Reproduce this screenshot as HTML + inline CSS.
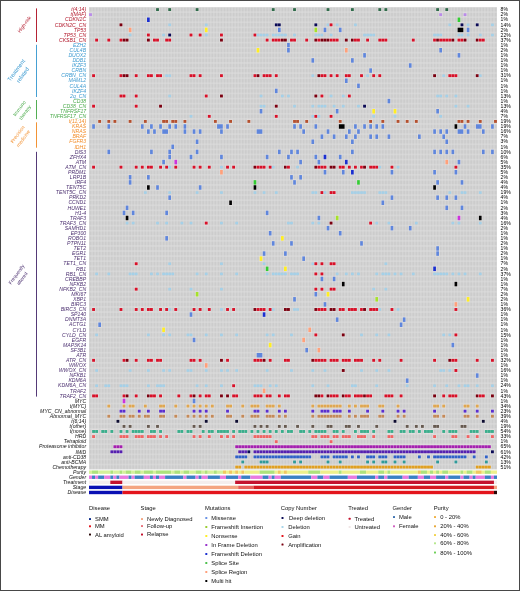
<!DOCTYPE html>
<html><head><meta charset="utf-8"><title>Oncoprint</title>
<style>
html,body{margin:0;padding:0;background:#fff;}
body{width:520px;height:591px;position:relative;overflow:hidden;font-family:"Liberation Sans",sans-serif;}
#frame{position:absolute;left:0;top:0;width:520px;height:591px;box-sizing:border-box;border:1px solid #484848;border-left-width:1.3px;}
svg{position:absolute;left:0;top:0;}
.l{position:absolute;right:433.9px;font-size:5.15px;font-style:italic;line-height:5px;white-space:nowrap;text-align:right;}
.p{position:absolute;left:500.6px;font-size:5.1px;line-height:5px;color:#000;white-space:nowrap;}
.g{position:absolute;font-size:5.0px;line-height:6.7px;white-space:nowrap;text-align:center;transform-origin:center center;transform:translate(-50%,-50%) rotate(-54deg);}
.lt{position:absolute;font-size:5.85px;line-height:6px;color:#111;white-space:nowrap;}
.li{position:absolute;font-size:5.85px;line-height:6px;color:#111;white-space:nowrap;}
</style></head><body>
<svg width="520" height="591" viewBox="0 0 520 591" shape-rendering="geometricPrecision">
<defs><pattern id="gp" x="89.000" y="7.050" width="3.045" height="5.083" patternUnits="userSpaceOnUse"><rect x="0" y="0" width="3.045" height="5.083" fill="#e0e0e0"/><rect x="0.3" y="0.4" width="2.445" height="4.283" fill="#cccccc"/></pattern></defs>
<rect x="89.00" y="7.05" width="408.00" height="487.97" fill="url(#gp)"/>
<rect x="155.59" y="7.44" width="3.84" height="4.30" fill="#f6f0f0" opacity="0.45"/><rect x="156.09" y="8.14" width="2.84" height="2.90" fill="#2f6b4a"/>
<rect x="167.76" y="7.44" width="3.84" height="4.30" fill="#f6f0f0" opacity="0.45"/><rect x="168.26" y="8.14" width="2.84" height="2.90" fill="#2f6b4a"/>
<rect x="195.17" y="7.44" width="3.84" height="4.30" fill="#f6f0f0" opacity="0.45"/><rect x="195.67" y="8.14" width="2.84" height="2.90" fill="#2f6b4a"/>
<rect x="271.29" y="7.44" width="3.84" height="4.30" fill="#f6f0f0" opacity="0.45"/><rect x="271.79" y="8.14" width="2.84" height="2.90" fill="#2f6b4a"/>
<rect x="292.60" y="7.44" width="3.84" height="4.30" fill="#f6f0f0" opacity="0.45"/><rect x="293.10" y="8.14" width="2.84" height="2.90" fill="#2f6b4a"/>
<rect x="326.09" y="7.44" width="3.84" height="4.30" fill="#f6f0f0" opacity="0.45"/><rect x="326.59" y="8.14" width="2.84" height="2.90" fill="#2f6b4a"/>
<rect x="350.45" y="7.44" width="3.84" height="4.30" fill="#f6f0f0" opacity="0.45"/><rect x="350.95" y="8.14" width="2.84" height="2.90" fill="#2f6b4a"/>
<rect x="377.85" y="7.44" width="3.84" height="4.30" fill="#f6f0f0" opacity="0.45"/><rect x="378.35" y="8.14" width="2.84" height="2.90" fill="#2f6b4a"/>
<rect x="383.94" y="7.44" width="3.84" height="4.30" fill="#f6f0f0" opacity="0.45"/><rect x="384.44" y="8.14" width="2.84" height="2.90" fill="#2f6b4a"/>
<rect x="435.70" y="7.44" width="3.84" height="4.30" fill="#f6f0f0" opacity="0.45"/><rect x="436.20" y="8.14" width="2.84" height="2.90" fill="#2f6b4a"/>
<rect x="444.84" y="7.44" width="3.84" height="4.30" fill="#f6f0f0" opacity="0.45"/><rect x="445.34" y="8.14" width="2.84" height="2.90" fill="#2f6b4a"/>
<rect x="88.60" y="12.52" width="3.84" height="4.30" fill="#f6f0f0" opacity="0.45"/><rect x="89.10" y="13.22" width="2.84" height="2.90" fill="#b98ce8"/>
<rect x="438.75" y="12.52" width="3.84" height="4.30" fill="#f6f0f0" opacity="0.45"/><rect x="439.25" y="13.22" width="2.84" height="2.90" fill="#b98ce8"/>
<rect x="463.11" y="12.52" width="3.84" height="4.30" fill="#f6f0f0" opacity="0.45"/><rect x="463.61" y="13.22" width="2.84" height="2.90" fill="#b98ce8"/>
<rect x="146.53" y="17.06" width="3.68" height="5.40" fill="#f6f0f0" opacity="0.45"/><rect x="147.03" y="17.51" width="2.68" height="4.50" fill="#1a2fd0"/>
<rect x="457.10" y="17.06" width="3.68" height="5.40" fill="#f6f0f0" opacity="0.45"/><rect x="457.60" y="17.51" width="2.68" height="4.50" fill="#33cc33"/>
<rect x="119.05" y="22.69" width="3.84" height="4.30" fill="#f6f0f0" opacity="0.45"/><rect x="119.55" y="23.39" width="2.84" height="2.90" fill="#7a0010"/>
<rect x="168.31" y="23.54" width="2.74" height="2.60" fill="#a4d0e8"/>
<rect x="204.85" y="23.54" width="2.74" height="2.60" fill="#a4d0e8"/>
<rect x="274.33" y="22.69" width="6.89" height="4.30" fill="#f6f0f0" opacity="0.45"/><rect x="274.83" y="23.39" width="2.84" height="2.90" fill="#0a0a55"/><rect x="277.88" y="23.39" width="2.84" height="2.90" fill="#0a0a55"/>
<rect x="313.91" y="22.69" width="3.84" height="4.30" fill="#f6f0f0" opacity="0.45"/><rect x="314.41" y="23.39" width="2.84" height="2.90" fill="#0a0a55"/>
<rect x="326.64" y="23.54" width="2.74" height="2.60" fill="#a4d0e8"/>
<rect x="329.14" y="22.69" width="3.84" height="4.30" fill="#f6f0f0" opacity="0.45"/><rect x="329.64" y="23.39" width="2.84" height="2.90" fill="#d81028"/>
<rect x="335.78" y="23.54" width="2.74" height="2.60" fill="#a4d0e8"/>
<rect x="354.05" y="23.54" width="2.74" height="2.60" fill="#a4d0e8"/>
<rect x="448.43" y="23.54" width="2.74" height="2.60" fill="#a4d0e8"/>
<rect x="460.06" y="22.69" width="3.84" height="4.30" fill="#f6f0f0" opacity="0.45"/><rect x="460.56" y="23.39" width="2.84" height="2.90" fill="#0a0a55"/>
<rect x="466.70" y="23.54" width="2.74" height="2.60" fill="#a4d0e8"/>
<rect x="475.29" y="22.69" width="3.84" height="4.30" fill="#f6f0f0" opacity="0.45"/><rect x="475.79" y="23.39" width="2.84" height="2.90" fill="#0a0a55"/>
<rect x="491.06" y="23.54" width="2.74" height="2.60" fill="#a4d0e8"/>
<rect x="128.26" y="27.22" width="3.68" height="5.40" fill="#f6f0f0" opacity="0.45"/><rect x="128.76" y="27.67" width="2.68" height="4.50" fill="#ffa07a"/>
<rect x="204.38" y="27.22" width="3.68" height="5.40" fill="#f6f0f0" opacity="0.45"/><rect x="204.88" y="27.67" width="2.68" height="4.50" fill="#ffee22"/>
<rect x="277.46" y="27.22" width="3.68" height="5.40" fill="#f6f0f0" opacity="0.45"/><rect x="277.96" y="27.67" width="2.68" height="4.50" fill="#5f86dc"/>
<rect x="313.99" y="27.22" width="3.68" height="5.40" fill="#f6f0f0" opacity="0.45"/><rect x="314.49" y="27.67" width="2.68" height="4.50" fill="#a6e22a"/>
<rect x="323.13" y="27.22" width="3.68" height="5.40" fill="#f6f0f0" opacity="0.45"/><rect x="323.63" y="27.67" width="2.68" height="4.50" fill="#5f86dc"/>
<rect x="338.35" y="27.22" width="3.68" height="5.40" fill="#f6f0f0" opacity="0.45"/><rect x="338.85" y="27.67" width="2.68" height="4.50" fill="#5f86dc"/>
<rect x="457.10" y="27.22" width="6.73" height="5.40" fill="#f6f0f0" opacity="0.45"/><rect x="457.60" y="27.67" width="5.73" height="4.50" fill="#000000"/>
<rect x="466.23" y="27.22" width="3.68" height="5.40" fill="#f6f0f0" opacity="0.45"/><rect x="466.73" y="27.67" width="2.68" height="4.50" fill="#5f86dc"/>
<rect x="128.73" y="33.71" width="2.74" height="2.60" fill="#a4d0e8"/>
<rect x="146.45" y="32.86" width="3.84" height="4.30" fill="#f6f0f0" opacity="0.45"/><rect x="146.95" y="33.56" width="2.84" height="2.90" fill="#d81028"/>
<rect x="162.22" y="33.71" width="2.74" height="2.60" fill="#a4d0e8"/>
<rect x="167.76" y="32.86" width="3.84" height="4.30" fill="#f6f0f0" opacity="0.45"/><rect x="168.26" y="33.56" width="2.84" height="2.90" fill="#0a0a55"/>
<rect x="189.08" y="32.86" width="3.84" height="4.30" fill="#f6f0f0" opacity="0.45"/><rect x="189.58" y="33.56" width="2.84" height="2.90" fill="#d81028"/>
<rect x="198.21" y="32.86" width="3.84" height="4.30" fill="#f6f0f0" opacity="0.45"/><rect x="198.71" y="33.56" width="2.84" height="2.90" fill="#d81028"/>
<rect x="204.85" y="33.71" width="2.74" height="2.60" fill="#a4d0e8"/>
<rect x="219.53" y="32.86" width="3.84" height="4.30" fill="#f6f0f0" opacity="0.45"/><rect x="220.03" y="33.56" width="2.84" height="2.90" fill="#d81028"/>
<rect x="253.02" y="32.86" width="3.84" height="4.30" fill="#f6f0f0" opacity="0.45"/><rect x="253.52" y="33.56" width="2.84" height="2.90" fill="#d81028"/>
<rect x="256.61" y="33.71" width="2.74" height="2.60" fill="#a4d0e8"/>
<rect x="259.66" y="33.71" width="2.74" height="2.60" fill="#a4d0e8"/>
<rect x="262.70" y="33.71" width="2.74" height="2.60" fill="#a4d0e8"/>
<rect x="265.75" y="33.71" width="2.74" height="2.60" fill="#a4d0e8"/>
<rect x="271.84" y="33.71" width="2.74" height="2.60" fill="#a4d0e8"/>
<rect x="274.88" y="33.71" width="2.74" height="2.60" fill="#a4d0e8"/>
<rect x="277.93" y="33.71" width="2.74" height="2.60" fill="#a4d0e8"/>
<rect x="280.97" y="33.71" width="2.74" height="2.60" fill="#a4d0e8"/>
<rect x="284.02" y="33.71" width="2.74" height="2.60" fill="#a4d0e8"/>
<rect x="293.15" y="33.71" width="2.74" height="2.60" fill="#a4d0e8"/>
<rect x="314.46" y="33.71" width="2.74" height="2.60" fill="#a4d0e8"/>
<rect x="317.51" y="33.71" width="2.74" height="2.60" fill="#a4d0e8"/>
<rect x="320.55" y="33.71" width="2.74" height="2.60" fill="#a4d0e8"/>
<rect x="329.69" y="33.71" width="2.74" height="2.60" fill="#a4d0e8"/>
<rect x="363.18" y="33.71" width="2.74" height="2.60" fill="#a4d0e8"/>
<rect x="366.22" y="33.71" width="2.74" height="2.60" fill="#a4d0e8"/>
<rect x="369.27" y="33.71" width="2.74" height="2.60" fill="#a4d0e8"/>
<rect x="372.31" y="33.71" width="2.74" height="2.60" fill="#a4d0e8"/>
<rect x="433.21" y="33.71" width="2.74" height="2.60" fill="#a4d0e8"/>
<rect x="436.25" y="33.71" width="2.74" height="2.60" fill="#a4d0e8"/>
<rect x="439.30" y="33.71" width="2.74" height="2.60" fill="#a4d0e8"/>
<rect x="457.57" y="33.71" width="2.74" height="2.60" fill="#a4d0e8"/>
<rect x="460.61" y="33.71" width="2.74" height="2.60" fill="#a4d0e8"/>
<rect x="466.70" y="33.71" width="2.74" height="2.60" fill="#a4d0e8"/>
<rect x="478.88" y="33.71" width="2.74" height="2.60" fill="#a4d0e8"/>
<rect x="491.06" y="33.71" width="2.74" height="2.60" fill="#a4d0e8"/>
<rect x="94.69" y="37.94" width="3.84" height="4.30" fill="#f6f0f0" opacity="0.45"/><rect x="95.19" y="38.64" width="2.84" height="2.90" fill="#d81028"/>
<rect x="106.87" y="37.94" width="3.84" height="4.30" fill="#f6f0f0" opacity="0.45"/><rect x="107.37" y="38.64" width="2.84" height="2.90" fill="#d81028"/>
<rect x="119.05" y="37.94" width="3.84" height="4.30" fill="#f6f0f0" opacity="0.45"/><rect x="119.55" y="38.64" width="2.84" height="2.90" fill="#d81028"/>
<rect x="122.09" y="37.94" width="6.89" height="4.30" fill="#f6f0f0" opacity="0.45"/><rect x="122.59" y="38.64" width="2.84" height="2.90" fill="#7a0010"/><rect x="125.64" y="38.64" width="2.84" height="2.90" fill="#7a0010"/>
<rect x="146.45" y="37.94" width="3.84" height="4.30" fill="#f6f0f0" opacity="0.45"/><rect x="146.95" y="38.64" width="2.84" height="2.90" fill="#7a0010"/>
<rect x="152.54" y="37.94" width="6.89" height="4.30" fill="#f6f0f0" opacity="0.45"/><rect x="153.04" y="38.64" width="2.84" height="2.90" fill="#d81028"/><rect x="156.09" y="38.64" width="2.84" height="2.90" fill="#d81028"/>
<rect x="164.72" y="37.94" width="6.89" height="4.30" fill="#f6f0f0" opacity="0.45"/><rect x="165.22" y="38.64" width="2.84" height="2.90" fill="#d81028"/><rect x="168.26" y="38.64" width="2.84" height="2.90" fill="#d81028"/>
<rect x="219.53" y="37.94" width="3.84" height="4.30" fill="#f6f0f0" opacity="0.45"/><rect x="220.03" y="38.64" width="2.84" height="2.90" fill="#7a0010"/>
<rect x="265.20" y="37.94" width="3.84" height="4.30" fill="#f6f0f0" opacity="0.45"/><rect x="265.70" y="38.64" width="2.84" height="2.90" fill="#d81028"/>
<rect x="271.29" y="37.94" width="9.93" height="4.30" fill="#f6f0f0" opacity="0.45"/><rect x="271.79" y="38.64" width="2.84" height="2.90" fill="#d81028"/><rect x="274.83" y="38.64" width="2.84" height="2.90" fill="#d81028"/><rect x="277.88" y="38.64" width="2.84" height="2.90" fill="#d81028"/>
<rect x="280.42" y="37.94" width="6.89" height="4.30" fill="#f6f0f0" opacity="0.45"/><rect x="280.92" y="38.64" width="2.84" height="2.90" fill="#7a0010"/><rect x="283.97" y="38.64" width="2.84" height="2.90" fill="#7a0010"/>
<rect x="289.56" y="37.94" width="6.89" height="4.30" fill="#f6f0f0" opacity="0.45"/><rect x="290.06" y="38.64" width="2.84" height="2.90" fill="#d81028"/><rect x="293.10" y="38.64" width="2.84" height="2.90" fill="#d81028"/>
<rect x="304.78" y="37.94" width="3.84" height="4.30" fill="#f6f0f0" opacity="0.45"/><rect x="305.28" y="38.64" width="2.84" height="2.90" fill="#d81028"/>
<rect x="313.91" y="37.94" width="3.84" height="4.30" fill="#f6f0f0" opacity="0.45"/><rect x="314.41" y="38.64" width="2.84" height="2.90" fill="#7a0010"/>
<rect x="316.96" y="37.94" width="3.84" height="4.30" fill="#f6f0f0" opacity="0.45"/><rect x="317.46" y="38.64" width="2.84" height="2.90" fill="#d81028"/>
<rect x="320.00" y="37.94" width="9.93" height="4.30" fill="#f6f0f0" opacity="0.45"/><rect x="320.50" y="38.64" width="2.84" height="2.90" fill="#7a0010"/><rect x="323.55" y="38.64" width="2.84" height="2.90" fill="#7a0010"/><rect x="326.59" y="38.64" width="2.84" height="2.90" fill="#7a0010"/>
<rect x="329.14" y="37.94" width="9.93" height="4.30" fill="#f6f0f0" opacity="0.45"/><rect x="329.64" y="38.64" width="2.84" height="2.90" fill="#d81028"/><rect x="332.68" y="38.64" width="2.84" height="2.90" fill="#d81028"/><rect x="335.73" y="38.64" width="2.84" height="2.90" fill="#d81028"/>
<rect x="344.36" y="37.94" width="3.84" height="4.30" fill="#f6f0f0" opacity="0.45"/><rect x="344.86" y="38.64" width="2.84" height="2.90" fill="#7a0010"/>
<rect x="350.45" y="37.94" width="3.84" height="4.30" fill="#f6f0f0" opacity="0.45"/><rect x="350.95" y="38.64" width="2.84" height="2.90" fill="#7a0010"/>
<rect x="353.50" y="37.94" width="6.89" height="4.30" fill="#f6f0f0" opacity="0.45"/><rect x="354.00" y="38.64" width="2.84" height="2.90" fill="#d81028"/><rect x="357.04" y="38.64" width="2.84" height="2.90" fill="#d81028"/>
<rect x="365.67" y="37.94" width="3.84" height="4.30" fill="#f6f0f0" opacity="0.45"/><rect x="366.17" y="38.64" width="2.84" height="2.90" fill="#d81028"/>
<rect x="377.85" y="37.94" width="9.93" height="4.30" fill="#f6f0f0" opacity="0.45"/><rect x="378.35" y="38.64" width="2.84" height="2.90" fill="#d81028"/><rect x="381.40" y="38.64" width="2.84" height="2.90" fill="#d81028"/><rect x="384.44" y="38.64" width="2.84" height="2.90" fill="#d81028"/>
<rect x="411.35" y="37.94" width="3.84" height="4.30" fill="#f6f0f0" opacity="0.45"/><rect x="411.85" y="38.64" width="2.84" height="2.90" fill="#d81028"/>
<rect x="432.66" y="37.94" width="3.84" height="4.30" fill="#f6f0f0" opacity="0.45"/><rect x="433.16" y="38.64" width="2.84" height="2.90" fill="#d81028"/>
<rect x="435.70" y="37.94" width="3.84" height="4.30" fill="#f6f0f0" opacity="0.45"/><rect x="436.20" y="38.64" width="2.84" height="2.90" fill="#7a0010"/>
<rect x="438.75" y="37.94" width="12.98" height="4.30" fill="#f6f0f0" opacity="0.45"/><rect x="439.25" y="38.64" width="2.84" height="2.90" fill="#d81028"/><rect x="442.29" y="38.64" width="2.84" height="2.90" fill="#d81028"/><rect x="445.34" y="38.64" width="2.84" height="2.90" fill="#d81028"/><rect x="448.38" y="38.64" width="2.84" height="2.90" fill="#d81028"/>
<rect x="450.93" y="37.94" width="3.84" height="4.30" fill="#f6f0f0" opacity="0.45"/><rect x="451.43" y="38.64" width="2.84" height="2.90" fill="#7a0010"/>
<rect x="457.02" y="37.94" width="6.89" height="4.30" fill="#f6f0f0" opacity="0.45"/><rect x="457.52" y="38.64" width="2.84" height="2.90" fill="#d81028"/><rect x="460.56" y="38.64" width="2.84" height="2.90" fill="#d81028"/>
<rect x="463.11" y="37.94" width="3.84" height="4.30" fill="#f6f0f0" opacity="0.45"/><rect x="463.61" y="38.64" width="2.84" height="2.90" fill="#7a0010"/>
<rect x="475.29" y="37.94" width="3.84" height="4.30" fill="#f6f0f0" opacity="0.45"/><rect x="475.79" y="38.64" width="2.84" height="2.90" fill="#7a0010"/>
<rect x="478.33" y="37.94" width="6.89" height="4.30" fill="#f6f0f0" opacity="0.45"/><rect x="478.83" y="38.64" width="2.84" height="2.90" fill="#d81028"/><rect x="481.88" y="38.64" width="2.84" height="2.90" fill="#d81028"/>
<rect x="286.59" y="42.47" width="3.68" height="5.40" fill="#f6f0f0" opacity="0.45"/><rect x="287.09" y="42.92" width="2.68" height="4.50" fill="#5f86dc"/>
<rect x="256.14" y="47.56" width="3.68" height="5.40" fill="#f6f0f0" opacity="0.45"/><rect x="256.64" y="48.01" width="2.68" height="4.50" fill="#ffee22"/>
<rect x="286.59" y="47.56" width="3.68" height="5.40" fill="#f6f0f0" opacity="0.45"/><rect x="287.09" y="48.01" width="2.68" height="4.50" fill="#5f86dc"/>
<rect x="344.44" y="47.56" width="3.68" height="5.40" fill="#f6f0f0" opacity="0.45"/><rect x="344.94" y="48.01" width="2.68" height="4.50" fill="#ffa07a"/>
<rect x="438.83" y="47.56" width="3.68" height="5.40" fill="#f6f0f0" opacity="0.45"/><rect x="439.33" y="48.01" width="2.68" height="4.50" fill="#5f86dc"/>
<rect x="362.71" y="52.64" width="3.68" height="5.40" fill="#f6f0f0" opacity="0.45"/><rect x="363.21" y="53.09" width="2.68" height="4.50" fill="#5f86dc"/>
<rect x="457.10" y="52.64" width="3.68" height="5.40" fill="#f6f0f0" opacity="0.45"/><rect x="457.60" y="53.09" width="2.68" height="4.50" fill="#5f86dc"/>
<rect x="310.95" y="57.72" width="3.68" height="5.40" fill="#f6f0f0" opacity="0.45"/><rect x="311.45" y="58.17" width="2.68" height="4.50" fill="#5f86dc"/>
<rect x="350.53" y="57.72" width="3.68" height="5.40" fill="#f6f0f0" opacity="0.45"/><rect x="351.03" y="58.17" width="2.68" height="4.50" fill="#5f86dc"/>
<rect x="408.38" y="62.80" width="3.68" height="5.40" fill="#f6f0f0" opacity="0.45"/><rect x="408.88" y="63.25" width="2.68" height="4.50" fill="#5f86dc"/>
<rect x="368.80" y="67.89" width="3.68" height="5.40" fill="#f6f0f0" opacity="0.45"/><rect x="369.30" y="68.34" width="2.68" height="4.50" fill="#5f86dc"/>
<rect x="91.64" y="73.52" width="3.84" height="4.30" fill="#f6f0f0" opacity="0.45"/><rect x="92.14" y="74.22" width="2.84" height="2.90" fill="#d81028"/>
<rect x="119.05" y="73.52" width="3.84" height="4.30" fill="#f6f0f0" opacity="0.45"/><rect x="119.55" y="74.22" width="2.84" height="2.90" fill="#d81028"/>
<rect x="122.09" y="73.52" width="6.89" height="4.30" fill="#f6f0f0" opacity="0.45"/><rect x="122.59" y="74.22" width="2.84" height="2.90" fill="#7a0010"/><rect x="125.64" y="74.22" width="2.84" height="2.90" fill="#7a0010"/>
<rect x="134.27" y="73.52" width="3.84" height="4.30" fill="#f6f0f0" opacity="0.45"/><rect x="134.77" y="74.22" width="2.84" height="2.90" fill="#d81028"/>
<rect x="146.45" y="73.52" width="6.89" height="4.30" fill="#f6f0f0" opacity="0.45"/><rect x="146.95" y="74.22" width="2.84" height="2.90" fill="#d81028"/><rect x="150.00" y="74.22" width="2.84" height="2.90" fill="#d81028"/>
<rect x="155.59" y="73.52" width="6.89" height="4.30" fill="#f6f0f0" opacity="0.45"/><rect x="156.09" y="74.22" width="2.84" height="2.90" fill="#d81028"/><rect x="159.13" y="74.22" width="2.84" height="2.90" fill="#d81028"/>
<rect x="165.27" y="74.37" width="2.74" height="2.60" fill="#a4d0e8"/>
<rect x="168.31" y="74.37" width="2.74" height="2.60" fill="#a4d0e8"/>
<rect x="189.08" y="73.52" width="6.89" height="4.30" fill="#f6f0f0" opacity="0.45"/><rect x="189.58" y="74.22" width="2.84" height="2.90" fill="#d81028"/><rect x="192.62" y="74.22" width="2.84" height="2.90" fill="#d81028"/>
<rect x="198.21" y="73.52" width="3.84" height="4.30" fill="#f6f0f0" opacity="0.45"/><rect x="198.71" y="74.22" width="2.84" height="2.90" fill="#d81028"/>
<rect x="219.53" y="73.52" width="3.84" height="4.30" fill="#f6f0f0" opacity="0.45"/><rect x="220.03" y="74.22" width="2.84" height="2.90" fill="#d81028"/>
<rect x="253.02" y="73.52" width="3.84" height="4.30" fill="#f6f0f0" opacity="0.45"/><rect x="253.52" y="74.22" width="2.84" height="2.90" fill="#d81028"/>
<rect x="256.06" y="73.52" width="3.84" height="4.30" fill="#f6f0f0" opacity="0.45"/><rect x="256.56" y="74.22" width="2.84" height="2.90" fill="#7a0010"/>
<rect x="262.15" y="73.52" width="9.93" height="4.30" fill="#f6f0f0" opacity="0.45"/><rect x="262.65" y="74.22" width="2.84" height="2.90" fill="#d81028"/><rect x="265.70" y="74.22" width="2.84" height="2.90" fill="#d81028"/><rect x="268.74" y="74.22" width="2.84" height="2.90" fill="#d81028"/>
<rect x="274.33" y="73.52" width="3.84" height="4.30" fill="#f6f0f0" opacity="0.45"/><rect x="274.83" y="74.22" width="2.84" height="2.90" fill="#d81028"/>
<rect x="311.42" y="74.37" width="2.74" height="2.60" fill="#a4d0e8"/>
<rect x="316.96" y="73.52" width="3.84" height="4.30" fill="#f6f0f0" opacity="0.45"/><rect x="317.46" y="74.22" width="2.84" height="2.90" fill="#7a0010"/>
<rect x="320.00" y="73.52" width="6.89" height="4.30" fill="#f6f0f0" opacity="0.45"/><rect x="320.50" y="74.22" width="2.84" height="2.90" fill="#d81028"/><rect x="323.55" y="74.22" width="2.84" height="2.90" fill="#d81028"/>
<rect x="329.14" y="73.52" width="3.84" height="4.30" fill="#f6f0f0" opacity="0.45"/><rect x="329.64" y="74.22" width="2.84" height="2.90" fill="#d81028"/>
<rect x="335.23" y="73.52" width="3.84" height="4.30" fill="#f6f0f0" opacity="0.45"/><rect x="335.73" y="74.22" width="2.84" height="2.90" fill="#d81028"/>
<rect x="344.36" y="73.52" width="6.89" height="4.30" fill="#f6f0f0" opacity="0.45"/><rect x="344.86" y="74.22" width="2.84" height="2.90" fill="#d81028"/><rect x="347.91" y="74.22" width="2.84" height="2.90" fill="#d81028"/>
<rect x="359.59" y="73.52" width="3.84" height="4.30" fill="#f6f0f0" opacity="0.45"/><rect x="360.09" y="74.22" width="2.84" height="2.90" fill="#d81028"/>
<rect x="366.22" y="74.37" width="2.74" height="2.60" fill="#a4d0e8"/>
<rect x="371.76" y="73.52" width="3.84" height="4.30" fill="#f6f0f0" opacity="0.45"/><rect x="372.26" y="74.22" width="2.84" height="2.90" fill="#d81028"/>
<rect x="377.85" y="73.52" width="3.84" height="4.30" fill="#f6f0f0" opacity="0.45"/><rect x="378.35" y="74.22" width="2.84" height="2.90" fill="#d81028"/>
<rect x="432.66" y="73.52" width="3.84" height="4.30" fill="#f6f0f0" opacity="0.45"/><rect x="433.16" y="74.22" width="2.84" height="2.90" fill="#7a0010"/>
<rect x="442.34" y="74.37" width="2.74" height="2.60" fill="#a4d0e8"/>
<rect x="447.88" y="73.52" width="9.93" height="4.30" fill="#f6f0f0" opacity="0.45"/><rect x="448.38" y="74.22" width="2.84" height="2.90" fill="#d81028"/><rect x="451.43" y="74.22" width="2.84" height="2.90" fill="#d81028"/><rect x="454.47" y="74.22" width="2.84" height="2.90" fill="#d81028"/>
<rect x="475.29" y="73.52" width="3.84" height="4.30" fill="#f6f0f0" opacity="0.45"/><rect x="475.79" y="74.22" width="2.84" height="2.90" fill="#7a0010"/>
<rect x="478.88" y="74.37" width="2.74" height="2.60" fill="#a4d0e8"/>
<rect x="344.44" y="78.05" width="3.68" height="5.40" fill="#f6f0f0" opacity="0.45"/><rect x="344.94" y="78.50" width="2.68" height="4.50" fill="#5f86dc"/>
<rect x="356.62" y="83.14" width="3.68" height="5.40" fill="#f6f0f0" opacity="0.45"/><rect x="357.12" y="83.59" width="2.68" height="4.50" fill="#5f86dc"/>
<rect x="274.41" y="88.22" width="3.68" height="5.40" fill="#f6f0f0" opacity="0.45"/><rect x="274.91" y="88.67" width="2.68" height="4.50" fill="#5f86dc"/>
<rect x="119.05" y="93.85" width="6.89" height="4.30" fill="#f6f0f0" opacity="0.45"/><rect x="119.55" y="94.55" width="2.84" height="2.90" fill="#d81028"/><rect x="122.59" y="94.55" width="2.84" height="2.90" fill="#d81028"/>
<rect x="134.27" y="93.85" width="3.84" height="4.30" fill="#f6f0f0" opacity="0.45"/><rect x="134.77" y="94.55" width="2.84" height="2.90" fill="#d81028"/>
<rect x="168.31" y="94.70" width="2.74" height="2.60" fill="#a4d0e8"/>
<rect x="204.30" y="93.85" width="3.84" height="4.30" fill="#f6f0f0" opacity="0.45"/><rect x="204.80" y="94.55" width="2.84" height="2.90" fill="#d81028"/>
<rect x="219.53" y="93.85" width="3.84" height="4.30" fill="#f6f0f0" opacity="0.45"/><rect x="220.03" y="94.55" width="2.84" height="2.90" fill="#7a0010"/>
<rect x="259.66" y="94.70" width="2.74" height="2.60" fill="#a4d0e8"/>
<rect x="280.97" y="94.70" width="2.74" height="2.60" fill="#a4d0e8"/>
<rect x="287.06" y="94.70" width="2.74" height="2.60" fill="#a4d0e8"/>
<rect x="313.91" y="93.85" width="3.84" height="4.30" fill="#f6f0f0" opacity="0.45"/><rect x="314.41" y="94.55" width="2.84" height="2.90" fill="#7a0010"/>
<rect x="320.00" y="93.85" width="3.84" height="4.30" fill="#f6f0f0" opacity="0.45"/><rect x="320.50" y="94.55" width="2.84" height="2.90" fill="#d81028"/>
<rect x="329.69" y="94.70" width="2.74" height="2.60" fill="#a4d0e8"/>
<rect x="341.87" y="94.70" width="2.74" height="2.60" fill="#a4d0e8"/>
<rect x="347.41" y="93.85" width="3.84" height="4.30" fill="#f6f0f0" opacity="0.45"/><rect x="347.91" y="94.55" width="2.84" height="2.90" fill="#d81028"/>
<rect x="436.25" y="94.70" width="2.74" height="2.60" fill="#a4d0e8"/>
<rect x="439.30" y="94.70" width="2.74" height="2.60" fill="#a4d0e8"/>
<rect x="445.39" y="94.70" width="2.74" height="2.60" fill="#a4d0e8"/>
<rect x="454.52" y="94.70" width="2.74" height="2.60" fill="#a4d0e8"/>
<rect x="387.07" y="98.39" width="3.68" height="5.40" fill="#f6f0f0" opacity="0.45"/><rect x="387.57" y="98.84" width="2.68" height="4.50" fill="#5f86dc"/>
<rect x="91.64" y="104.02" width="3.84" height="4.30" fill="#f6f0f0" opacity="0.45"/><rect x="92.14" y="104.72" width="2.84" height="2.90" fill="#d81028"/>
<rect x="134.27" y="104.02" width="3.84" height="4.30" fill="#f6f0f0" opacity="0.45"/><rect x="134.77" y="104.72" width="2.84" height="2.90" fill="#d81028"/>
<rect x="158.63" y="104.02" width="3.84" height="4.30" fill="#f6f0f0" opacity="0.45"/><rect x="159.13" y="104.72" width="2.84" height="2.90" fill="#7a0010"/>
<rect x="259.66" y="104.87" width="2.74" height="2.60" fill="#a4d0e8"/>
<rect x="262.70" y="104.87" width="2.74" height="2.60" fill="#a4d0e8"/>
<rect x="274.33" y="104.02" width="3.84" height="4.30" fill="#f6f0f0" opacity="0.45"/><rect x="274.83" y="104.72" width="2.84" height="2.90" fill="#7a0010"/>
<rect x="293.15" y="104.87" width="2.74" height="2.60" fill="#a4d0e8"/>
<rect x="311.42" y="104.87" width="2.74" height="2.60" fill="#a4d0e8"/>
<rect x="317.51" y="104.87" width="2.74" height="2.60" fill="#a4d0e8"/>
<rect x="320.55" y="104.87" width="2.74" height="2.60" fill="#a4d0e8"/>
<rect x="323.60" y="104.87" width="2.74" height="2.60" fill="#a4d0e8"/>
<rect x="332.73" y="104.87" width="2.74" height="2.60" fill="#a4d0e8"/>
<rect x="341.87" y="104.87" width="2.74" height="2.60" fill="#a4d0e8"/>
<rect x="357.09" y="104.87" width="2.74" height="2.60" fill="#a4d0e8"/>
<rect x="362.63" y="104.02" width="3.84" height="4.30" fill="#f6f0f0" opacity="0.45"/><rect x="363.13" y="104.72" width="2.84" height="2.90" fill="#0a0a55"/>
<rect x="454.52" y="104.87" width="2.74" height="2.60" fill="#a4d0e8"/>
<rect x="466.70" y="104.87" width="2.74" height="2.60" fill="#a4d0e8"/>
<rect x="259.19" y="108.55" width="3.68" height="5.40" fill="#f6f0f0" opacity="0.45"/><rect x="259.69" y="109.00" width="2.68" height="4.50" fill="#5f86dc"/>
<rect x="335.31" y="108.55" width="3.68" height="5.40" fill="#f6f0f0" opacity="0.45"/><rect x="335.81" y="109.00" width="2.68" height="4.50" fill="#5f86dc"/>
<rect x="371.84" y="108.55" width="3.68" height="5.40" fill="#f6f0f0" opacity="0.45"/><rect x="372.34" y="109.00" width="2.68" height="4.50" fill="#ffee22"/>
<rect x="393.16" y="108.55" width="3.68" height="5.40" fill="#f6f0f0" opacity="0.45"/><rect x="393.66" y="109.00" width="2.68" height="4.50" fill="#ffee22"/>
<rect x="435.78" y="108.55" width="3.68" height="5.40" fill="#f6f0f0" opacity="0.45"/><rect x="436.28" y="109.00" width="2.68" height="4.50" fill="#5f86dc"/>
<rect x="189.63" y="115.03" width="2.74" height="2.60" fill="#a4d0e8"/>
<rect x="207.35" y="114.18" width="3.84" height="4.30" fill="#f6f0f0" opacity="0.45"/><rect x="207.85" y="114.88" width="2.84" height="2.90" fill="#d81028"/>
<rect x="274.33" y="114.18" width="3.84" height="4.30" fill="#f6f0f0" opacity="0.45"/><rect x="274.83" y="114.88" width="2.84" height="2.90" fill="#d81028"/>
<rect x="311.42" y="115.03" width="2.74" height="2.60" fill="#a4d0e8"/>
<rect x="313.91" y="114.18" width="3.84" height="4.30" fill="#f6f0f0" opacity="0.45"/><rect x="314.41" y="114.88" width="2.84" height="2.90" fill="#d81028"/>
<rect x="317.51" y="115.03" width="2.74" height="2.60" fill="#a4d0e8"/>
<rect x="329.14" y="114.18" width="3.84" height="4.30" fill="#f6f0f0" opacity="0.45"/><rect x="329.64" y="114.88" width="2.84" height="2.90" fill="#d81028"/>
<rect x="372.31" y="115.03" width="2.74" height="2.60" fill="#a4d0e8"/>
<rect x="393.63" y="115.03" width="2.74" height="2.60" fill="#a4d0e8"/>
<rect x="439.30" y="115.03" width="2.74" height="2.60" fill="#a4d0e8"/>
<rect x="97.73" y="119.27" width="3.84" height="4.30" fill="#f6f0f0" opacity="0.45"/><rect x="98.23" y="119.97" width="2.84" height="2.90" fill="#b4502e"/>
<rect x="106.87" y="119.27" width="3.84" height="4.30" fill="#f6f0f0" opacity="0.45"/><rect x="107.37" y="119.97" width="2.84" height="2.90" fill="#b4502e"/>
<rect x="112.96" y="119.27" width="3.84" height="4.30" fill="#f6f0f0" opacity="0.45"/><rect x="113.46" y="119.97" width="2.84" height="2.90" fill="#b4502e"/>
<rect x="128.18" y="119.27" width="3.84" height="4.30" fill="#f6f0f0" opacity="0.45"/><rect x="128.68" y="119.97" width="2.84" height="2.90" fill="#b4502e"/>
<rect x="143.41" y="119.27" width="3.84" height="4.30" fill="#f6f0f0" opacity="0.45"/><rect x="143.91" y="119.97" width="2.84" height="2.90" fill="#b4502e"/>
<rect x="161.67" y="119.27" width="6.89" height="4.30" fill="#f6f0f0" opacity="0.45"/><rect x="162.17" y="119.97" width="2.84" height="2.90" fill="#b4502e"/><rect x="165.22" y="119.97" width="2.84" height="2.90" fill="#b4502e"/>
<rect x="170.81" y="119.27" width="6.89" height="4.30" fill="#f6f0f0" opacity="0.45"/><rect x="171.31" y="119.97" width="2.84" height="2.90" fill="#b4502e"/><rect x="174.35" y="119.97" width="2.84" height="2.90" fill="#b4502e"/>
<rect x="182.99" y="119.27" width="3.84" height="4.30" fill="#f6f0f0" opacity="0.45"/><rect x="183.49" y="119.97" width="2.84" height="2.90" fill="#b4502e"/>
<rect x="213.44" y="119.27" width="3.84" height="4.30" fill="#f6f0f0" opacity="0.45"/><rect x="213.94" y="119.97" width="2.84" height="2.90" fill="#b4502e"/>
<rect x="228.66" y="119.27" width="3.84" height="4.30" fill="#f6f0f0" opacity="0.45"/><rect x="229.16" y="119.97" width="2.84" height="2.90" fill="#b4502e"/>
<rect x="246.93" y="119.27" width="3.84" height="4.30" fill="#f6f0f0" opacity="0.45"/><rect x="247.43" y="119.97" width="2.84" height="2.90" fill="#b4502e"/>
<rect x="292.60" y="119.27" width="6.89" height="4.30" fill="#f6f0f0" opacity="0.45"/><rect x="293.10" y="119.97" width="2.84" height="2.90" fill="#b4502e"/><rect x="296.14" y="119.97" width="2.84" height="2.90" fill="#b4502e"/>
<rect x="304.78" y="119.27" width="3.84" height="4.30" fill="#f6f0f0" opacity="0.45"/><rect x="305.28" y="119.97" width="2.84" height="2.90" fill="#b4502e"/>
<rect x="338.27" y="119.27" width="3.84" height="4.30" fill="#f6f0f0" opacity="0.45"/><rect x="338.77" y="119.97" width="2.84" height="2.90" fill="#b4502e"/>
<rect x="368.72" y="119.27" width="3.84" height="4.30" fill="#f6f0f0" opacity="0.45"/><rect x="369.22" y="119.97" width="2.84" height="2.90" fill="#b4502e"/>
<rect x="380.90" y="119.27" width="3.84" height="4.30" fill="#f6f0f0" opacity="0.45"/><rect x="381.40" y="119.97" width="2.84" height="2.90" fill="#b4502e"/>
<rect x="396.12" y="119.27" width="3.84" height="4.30" fill="#f6f0f0" opacity="0.45"/><rect x="396.62" y="119.97" width="2.84" height="2.90" fill="#b4502e"/>
<rect x="405.26" y="119.27" width="3.84" height="4.30" fill="#f6f0f0" opacity="0.45"/><rect x="405.76" y="119.97" width="2.84" height="2.90" fill="#b4502e"/>
<rect x="414.39" y="119.27" width="3.84" height="4.30" fill="#f6f0f0" opacity="0.45"/><rect x="414.89" y="119.97" width="2.84" height="2.90" fill="#b4502e"/>
<rect x="457.02" y="119.27" width="6.89" height="4.30" fill="#f6f0f0" opacity="0.45"/><rect x="457.52" y="119.97" width="2.84" height="2.90" fill="#b4502e"/><rect x="460.56" y="119.97" width="2.84" height="2.90" fill="#b4502e"/>
<rect x="466.15" y="119.27" width="3.84" height="4.30" fill="#f6f0f0" opacity="0.45"/><rect x="466.65" y="119.97" width="2.84" height="2.90" fill="#b4502e"/>
<rect x="478.33" y="119.27" width="3.84" height="4.30" fill="#f6f0f0" opacity="0.45"/><rect x="478.83" y="119.97" width="2.84" height="2.90" fill="#b4502e"/>
<rect x="493.56" y="119.27" width="3.84" height="4.30" fill="#f6f0f0" opacity="0.45"/><rect x="494.06" y="119.97" width="2.84" height="2.90" fill="#b4502e"/>
<rect x="91.72" y="123.80" width="3.68" height="5.40" fill="#f6f0f0" opacity="0.45"/><rect x="92.22" y="124.25" width="2.68" height="4.50" fill="#5f86dc"/>
<rect x="106.95" y="123.80" width="3.68" height="5.40" fill="#f6f0f0" opacity="0.45"/><rect x="107.45" y="124.25" width="2.68" height="4.50" fill="#5f86dc"/>
<rect x="140.44" y="123.80" width="3.68" height="5.40" fill="#f6f0f0" opacity="0.45"/><rect x="140.94" y="124.25" width="2.68" height="4.50" fill="#5f86dc"/>
<rect x="149.58" y="123.80" width="3.68" height="5.40" fill="#f6f0f0" opacity="0.45"/><rect x="150.08" y="124.25" width="2.68" height="4.50" fill="#5f86dc"/>
<rect x="158.71" y="123.80" width="3.68" height="5.40" fill="#f6f0f0" opacity="0.45"/><rect x="159.21" y="124.25" width="2.68" height="4.50" fill="#5f86dc"/>
<rect x="167.84" y="123.80" width="3.68" height="5.40" fill="#f6f0f0" opacity="0.45"/><rect x="168.34" y="124.25" width="2.68" height="4.50" fill="#5f86dc"/>
<rect x="173.93" y="123.80" width="3.68" height="5.40" fill="#f6f0f0" opacity="0.45"/><rect x="174.43" y="124.25" width="2.68" height="4.50" fill="#5f86dc"/>
<rect x="183.07" y="123.80" width="3.68" height="5.40" fill="#f6f0f0" opacity="0.45"/><rect x="183.57" y="124.25" width="2.68" height="4.50" fill="#5f86dc"/>
<rect x="216.56" y="123.80" width="6.73" height="5.40" fill="#f6f0f0" opacity="0.45"/><rect x="217.06" y="124.25" width="5.73" height="4.50" fill="#5f86dc"/>
<rect x="225.69" y="123.80" width="3.68" height="5.40" fill="#f6f0f0" opacity="0.45"/><rect x="226.19" y="124.25" width="2.68" height="4.50" fill="#5f86dc"/>
<rect x="292.68" y="123.80" width="3.68" height="5.40" fill="#f6f0f0" opacity="0.45"/><rect x="293.18" y="124.25" width="2.68" height="4.50" fill="#5f86dc"/>
<rect x="298.77" y="123.80" width="3.68" height="5.40" fill="#f6f0f0" opacity="0.45"/><rect x="299.27" y="124.25" width="2.68" height="4.50" fill="#5f86dc"/>
<rect x="313.99" y="123.80" width="3.68" height="5.40" fill="#f6f0f0" opacity="0.45"/><rect x="314.49" y="124.25" width="2.68" height="4.50" fill="#5f86dc"/>
<rect x="338.35" y="123.80" width="6.73" height="5.40" fill="#f6f0f0" opacity="0.45"/><rect x="338.85" y="124.25" width="5.73" height="4.50" fill="#000000"/>
<rect x="353.58" y="123.80" width="3.68" height="5.40" fill="#f6f0f0" opacity="0.45"/><rect x="354.08" y="124.25" width="2.68" height="4.50" fill="#5f86dc"/>
<rect x="362.71" y="123.80" width="3.68" height="5.40" fill="#f6f0f0" opacity="0.45"/><rect x="363.21" y="124.25" width="2.68" height="4.50" fill="#5f86dc"/>
<rect x="368.80" y="123.80" width="3.68" height="5.40" fill="#f6f0f0" opacity="0.45"/><rect x="369.30" y="124.25" width="2.68" height="4.50" fill="#5f86dc"/>
<rect x="374.89" y="123.80" width="3.68" height="5.40" fill="#f6f0f0" opacity="0.45"/><rect x="375.39" y="124.25" width="2.68" height="4.50" fill="#5f86dc"/>
<rect x="380.98" y="123.80" width="3.68" height="5.40" fill="#f6f0f0" opacity="0.45"/><rect x="381.48" y="124.25" width="2.68" height="4.50" fill="#5f86dc"/>
<rect x="454.05" y="123.80" width="3.68" height="5.40" fill="#f6f0f0" opacity="0.45"/><rect x="454.55" y="124.25" width="2.68" height="4.50" fill="#000000"/>
<rect x="463.19" y="123.80" width="3.68" height="5.40" fill="#f6f0f0" opacity="0.45"/><rect x="463.69" y="124.25" width="2.68" height="4.50" fill="#5f86dc"/>
<rect x="475.37" y="123.80" width="6.73" height="5.40" fill="#f6f0f0" opacity="0.45"/><rect x="475.87" y="124.25" width="5.73" height="4.50" fill="#5f86dc"/>
<rect x="490.59" y="123.80" width="3.68" height="5.40" fill="#f6f0f0" opacity="0.45"/><rect x="491.09" y="124.25" width="2.68" height="4.50" fill="#5f86dc"/>
<rect x="146.53" y="128.88" width="3.68" height="5.40" fill="#f6f0f0" opacity="0.45"/><rect x="147.03" y="129.33" width="2.68" height="4.50" fill="#5f86dc"/>
<rect x="152.62" y="128.88" width="3.68" height="5.40" fill="#f6f0f0" opacity="0.45"/><rect x="153.12" y="129.33" width="2.68" height="4.50" fill="#5f86dc"/>
<rect x="161.75" y="128.88" width="6.73" height="5.40" fill="#f6f0f0" opacity="0.45"/><rect x="162.25" y="129.33" width="5.73" height="4.50" fill="#5f86dc"/>
<rect x="183.07" y="128.88" width="3.68" height="5.40" fill="#f6f0f0" opacity="0.45"/><rect x="183.57" y="129.33" width="2.68" height="4.50" fill="#5f86dc"/>
<rect x="192.20" y="128.88" width="3.68" height="5.40" fill="#f6f0f0" opacity="0.45"/><rect x="192.70" y="129.33" width="2.68" height="4.50" fill="#5f86dc"/>
<rect x="198.29" y="128.88" width="3.68" height="5.40" fill="#f6f0f0" opacity="0.45"/><rect x="198.79" y="129.33" width="2.68" height="4.50" fill="#5f86dc"/>
<rect x="219.61" y="128.88" width="3.68" height="5.40" fill="#f6f0f0" opacity="0.45"/><rect x="220.11" y="129.33" width="2.68" height="4.50" fill="#5f86dc"/>
<rect x="256.14" y="128.88" width="6.73" height="5.40" fill="#f6f0f0" opacity="0.45"/><rect x="256.64" y="129.33" width="5.73" height="4.50" fill="#5f86dc"/>
<rect x="301.81" y="128.88" width="3.68" height="5.40" fill="#f6f0f0" opacity="0.45"/><rect x="302.31" y="129.33" width="2.68" height="4.50" fill="#5f86dc"/>
<rect x="326.17" y="128.88" width="3.68" height="5.40" fill="#f6f0f0" opacity="0.45"/><rect x="326.67" y="129.33" width="2.68" height="4.50" fill="#5f86dc"/>
<rect x="347.49" y="128.88" width="3.68" height="5.40" fill="#f6f0f0" opacity="0.45"/><rect x="347.99" y="129.33" width="2.68" height="4.50" fill="#5f86dc"/>
<rect x="356.62" y="128.88" width="3.68" height="5.40" fill="#f6f0f0" opacity="0.45"/><rect x="357.12" y="129.33" width="2.68" height="4.50" fill="#5f86dc"/>
<rect x="432.74" y="128.88" width="3.68" height="5.40" fill="#f6f0f0" opacity="0.45"/><rect x="433.24" y="129.33" width="2.68" height="4.50" fill="#5f86dc"/>
<rect x="438.83" y="128.88" width="3.68" height="5.40" fill="#f6f0f0" opacity="0.45"/><rect x="439.33" y="129.33" width="2.68" height="4.50" fill="#5f86dc"/>
<rect x="444.92" y="128.88" width="3.68" height="5.40" fill="#f6f0f0" opacity="0.45"/><rect x="445.42" y="129.33" width="2.68" height="4.50" fill="#5f86dc"/>
<rect x="457.10" y="128.88" width="6.73" height="5.40" fill="#f6f0f0" opacity="0.45"/><rect x="457.60" y="129.33" width="5.73" height="4.50" fill="#5f86dc"/>
<rect x="466.23" y="128.88" width="3.68" height="5.40" fill="#f6f0f0" opacity="0.45"/><rect x="466.73" y="129.33" width="2.68" height="4.50" fill="#5f86dc"/>
<rect x="481.46" y="128.88" width="3.68" height="5.40" fill="#f6f0f0" opacity="0.45"/><rect x="481.96" y="129.33" width="2.68" height="4.50" fill="#5f86dc"/>
<rect x="320.08" y="133.97" width="3.68" height="5.40" fill="#f6f0f0" opacity="0.45"/><rect x="320.58" y="134.42" width="2.68" height="4.50" fill="#5f86dc"/>
<rect x="332.26" y="133.97" width="3.68" height="5.40" fill="#f6f0f0" opacity="0.45"/><rect x="332.76" y="134.42" width="2.68" height="4.50" fill="#5f86dc"/>
<rect x="344.44" y="133.97" width="3.68" height="5.40" fill="#f6f0f0" opacity="0.45"/><rect x="344.94" y="134.42" width="2.68" height="4.50" fill="#5f86dc"/>
<rect x="353.58" y="133.97" width="3.68" height="5.40" fill="#f6f0f0" opacity="0.45"/><rect x="354.08" y="134.42" width="2.68" height="4.50" fill="#5f86dc"/>
<rect x="368.80" y="133.97" width="3.68" height="5.40" fill="#f6f0f0" opacity="0.45"/><rect x="369.30" y="134.42" width="2.68" height="4.50" fill="#5f86dc"/>
<rect x="374.89" y="133.97" width="3.68" height="5.40" fill="#f6f0f0" opacity="0.45"/><rect x="375.39" y="134.42" width="2.68" height="4.50" fill="#5f86dc"/>
<rect x="387.07" y="133.97" width="3.68" height="5.40" fill="#f6f0f0" opacity="0.45"/><rect x="387.57" y="134.42" width="2.68" height="4.50" fill="#5f86dc"/>
<rect x="417.52" y="133.97" width="3.68" height="5.40" fill="#f6f0f0" opacity="0.45"/><rect x="418.02" y="134.42" width="2.68" height="4.50" fill="#5f86dc"/>
<rect x="441.87" y="133.97" width="3.68" height="5.40" fill="#f6f0f0" opacity="0.45"/><rect x="442.37" y="134.42" width="2.68" height="4.50" fill="#5f86dc"/>
<rect x="195.25" y="139.05" width="3.68" height="5.40" fill="#f6f0f0" opacity="0.45"/><rect x="195.75" y="139.50" width="2.68" height="4.50" fill="#5f86dc"/>
<rect x="310.95" y="139.05" width="3.68" height="5.40" fill="#f6f0f0" opacity="0.45"/><rect x="311.45" y="139.50" width="2.68" height="4.50" fill="#5f86dc"/>
<rect x="350.53" y="139.05" width="3.68" height="5.40" fill="#f6f0f0" opacity="0.45"/><rect x="351.03" y="139.50" width="2.68" height="4.50" fill="#5f86dc"/>
<rect x="444.92" y="139.05" width="3.68" height="5.40" fill="#f6f0f0" opacity="0.45"/><rect x="445.42" y="139.50" width="2.68" height="4.50" fill="#5f86dc"/>
<rect x="170.89" y="144.13" width="3.68" height="5.40" fill="#f6f0f0" opacity="0.45"/><rect x="171.39" y="144.58" width="2.68" height="4.50" fill="#5f86dc"/>
<rect x="106.95" y="149.22" width="3.68" height="5.40" fill="#f6f0f0" opacity="0.45"/><rect x="107.45" y="149.67" width="2.68" height="4.50" fill="#5f86dc"/>
<rect x="149.58" y="149.22" width="3.68" height="5.40" fill="#f6f0f0" opacity="0.45"/><rect x="150.08" y="149.67" width="2.68" height="4.50" fill="#5f86dc"/>
<rect x="167.84" y="149.22" width="3.68" height="5.40" fill="#f6f0f0" opacity="0.45"/><rect x="168.34" y="149.67" width="2.68" height="4.50" fill="#5f86dc"/>
<rect x="195.25" y="149.22" width="3.68" height="5.40" fill="#f6f0f0" opacity="0.45"/><rect x="195.75" y="149.67" width="2.68" height="4.50" fill="#5f86dc"/>
<rect x="277.46" y="149.22" width="3.68" height="5.40" fill="#f6f0f0" opacity="0.45"/><rect x="277.96" y="149.67" width="2.68" height="4.50" fill="#5f86dc"/>
<rect x="289.64" y="149.22" width="3.68" height="5.40" fill="#f6f0f0" opacity="0.45"/><rect x="290.14" y="149.67" width="2.68" height="4.50" fill="#5f86dc"/>
<rect x="295.72" y="149.22" width="3.68" height="5.40" fill="#f6f0f0" opacity="0.45"/><rect x="296.22" y="149.67" width="2.68" height="4.50" fill="#5f86dc"/>
<rect x="350.53" y="149.22" width="3.68" height="5.40" fill="#f6f0f0" opacity="0.45"/><rect x="351.03" y="149.67" width="2.68" height="4.50" fill="#5f86dc"/>
<rect x="432.74" y="149.22" width="3.68" height="5.40" fill="#f6f0f0" opacity="0.45"/><rect x="433.24" y="149.67" width="2.68" height="4.50" fill="#5f86dc"/>
<rect x="438.83" y="149.22" width="3.68" height="5.40" fill="#f6f0f0" opacity="0.45"/><rect x="439.33" y="149.67" width="2.68" height="4.50" fill="#5f86dc"/>
<rect x="444.92" y="149.22" width="3.68" height="5.40" fill="#f6f0f0" opacity="0.45"/><rect x="445.42" y="149.67" width="2.68" height="4.50" fill="#5f86dc"/>
<rect x="451.01" y="149.22" width="3.68" height="5.40" fill="#f6f0f0" opacity="0.45"/><rect x="451.51" y="149.67" width="2.68" height="4.50" fill="#5f86dc"/>
<rect x="481.46" y="149.22" width="3.68" height="5.40" fill="#f6f0f0" opacity="0.45"/><rect x="481.96" y="149.67" width="2.68" height="4.50" fill="#5f86dc"/>
<rect x="490.59" y="149.22" width="3.68" height="5.40" fill="#f6f0f0" opacity="0.45"/><rect x="491.09" y="149.67" width="2.68" height="4.50" fill="#5f86dc"/>
<rect x="167.84" y="154.30" width="3.68" height="5.40" fill="#f6f0f0" opacity="0.45"/><rect x="168.34" y="154.75" width="2.68" height="4.50" fill="#5f86dc"/>
<rect x="189.16" y="154.30" width="3.68" height="5.40" fill="#f6f0f0" opacity="0.45"/><rect x="189.66" y="154.75" width="2.68" height="4.50" fill="#5f86dc"/>
<rect x="219.61" y="154.30" width="3.68" height="5.40" fill="#f6f0f0" opacity="0.45"/><rect x="220.11" y="154.75" width="2.68" height="4.50" fill="#5f86dc"/>
<rect x="265.28" y="154.30" width="3.68" height="5.40" fill="#f6f0f0" opacity="0.45"/><rect x="265.78" y="154.75" width="2.68" height="4.50" fill="#5f86dc"/>
<rect x="286.59" y="154.30" width="3.68" height="5.40" fill="#f6f0f0" opacity="0.45"/><rect x="287.09" y="154.75" width="2.68" height="4.50" fill="#5f86dc"/>
<rect x="313.99" y="154.30" width="3.68" height="5.40" fill="#f6f0f0" opacity="0.45"/><rect x="314.49" y="154.75" width="2.68" height="4.50" fill="#5f86dc"/>
<rect x="323.13" y="154.30" width="3.68" height="5.40" fill="#f6f0f0" opacity="0.45"/><rect x="323.63" y="154.75" width="2.68" height="4.50" fill="#1a2fd0"/>
<rect x="338.35" y="154.30" width="3.68" height="5.40" fill="#f6f0f0" opacity="0.45"/><rect x="338.85" y="154.75" width="2.68" height="4.50" fill="#5f86dc"/>
<rect x="161.75" y="159.38" width="3.68" height="5.40" fill="#f6f0f0" opacity="0.45"/><rect x="162.25" y="159.83" width="2.68" height="4.50" fill="#5f86dc"/>
<rect x="173.93" y="159.38" width="3.68" height="5.40" fill="#f6f0f0" opacity="0.45"/><rect x="174.43" y="159.83" width="2.68" height="4.50" fill="#cc33dd"/>
<rect x="298.77" y="159.38" width="3.68" height="5.40" fill="#f6f0f0" opacity="0.45"/><rect x="299.27" y="159.83" width="2.68" height="4.50" fill="#5f86dc"/>
<rect x="317.04" y="159.38" width="3.68" height="5.40" fill="#f6f0f0" opacity="0.45"/><rect x="317.54" y="159.83" width="2.68" height="4.50" fill="#5f86dc"/>
<rect x="344.44" y="159.38" width="3.68" height="5.40" fill="#f6f0f0" opacity="0.45"/><rect x="344.94" y="159.83" width="2.68" height="4.50" fill="#1a2fd0"/>
<rect x="444.92" y="159.38" width="3.68" height="5.40" fill="#f6f0f0" opacity="0.45"/><rect x="445.42" y="159.83" width="2.68" height="4.50" fill="#ffa07a"/>
<rect x="457.10" y="159.38" width="3.68" height="5.40" fill="#f6f0f0" opacity="0.45"/><rect x="457.60" y="159.83" width="2.68" height="4.50" fill="#5f86dc"/>
<rect x="91.64" y="165.01" width="3.84" height="4.30" fill="#f6f0f0" opacity="0.45"/><rect x="92.14" y="165.71" width="2.84" height="2.90" fill="#d81028"/>
<rect x="119.05" y="165.01" width="3.84" height="4.30" fill="#f6f0f0" opacity="0.45"/><rect x="119.55" y="165.71" width="2.84" height="2.90" fill="#d81028"/>
<rect x="134.27" y="165.01" width="3.84" height="4.30" fill="#f6f0f0" opacity="0.45"/><rect x="134.77" y="165.71" width="2.84" height="2.90" fill="#d81028"/>
<rect x="140.36" y="165.01" width="3.84" height="4.30" fill="#f6f0f0" opacity="0.45"/><rect x="140.86" y="165.71" width="2.84" height="2.90" fill="#d81028"/>
<rect x="146.45" y="165.01" width="6.89" height="4.30" fill="#f6f0f0" opacity="0.45"/><rect x="146.95" y="165.71" width="2.84" height="2.90" fill="#d81028"/><rect x="150.00" y="165.71" width="2.84" height="2.90" fill="#d81028"/>
<rect x="158.63" y="165.01" width="3.84" height="4.30" fill="#f6f0f0" opacity="0.45"/><rect x="159.13" y="165.71" width="2.84" height="2.90" fill="#d81028"/>
<rect x="164.72" y="165.01" width="3.84" height="4.30" fill="#f6f0f0" opacity="0.45"/><rect x="165.22" y="165.71" width="2.84" height="2.90" fill="#d81028"/>
<rect x="168.31" y="165.86" width="2.74" height="2.60" fill="#a4d0e8"/>
<rect x="173.85" y="165.01" width="3.84" height="4.30" fill="#f6f0f0" opacity="0.45"/><rect x="174.35" y="165.71" width="2.84" height="2.90" fill="#d81028"/>
<rect x="192.12" y="165.01" width="3.84" height="4.30" fill="#f6f0f0" opacity="0.45"/><rect x="192.62" y="165.71" width="2.84" height="2.90" fill="#d81028"/>
<rect x="198.21" y="165.01" width="3.84" height="4.30" fill="#f6f0f0" opacity="0.45"/><rect x="198.71" y="165.71" width="2.84" height="2.90" fill="#d81028"/>
<rect x="207.35" y="165.01" width="3.84" height="4.30" fill="#f6f0f0" opacity="0.45"/><rect x="207.85" y="165.71" width="2.84" height="2.90" fill="#d81028"/>
<rect x="220.08" y="165.86" width="2.74" height="2.60" fill="#a4d0e8"/>
<rect x="225.61" y="165.01" width="3.84" height="4.30" fill="#f6f0f0" opacity="0.45"/><rect x="226.11" y="165.71" width="2.84" height="2.90" fill="#d81028"/>
<rect x="231.70" y="165.01" width="3.84" height="4.30" fill="#f6f0f0" opacity="0.45"/><rect x="232.20" y="165.71" width="2.84" height="2.90" fill="#d81028"/>
<rect x="253.02" y="165.01" width="3.84" height="4.30" fill="#f6f0f0" opacity="0.45"/><rect x="253.52" y="165.71" width="2.84" height="2.90" fill="#7a0010"/>
<rect x="256.06" y="165.01" width="9.93" height="4.30" fill="#f6f0f0" opacity="0.45"/><rect x="256.56" y="165.71" width="2.84" height="2.90" fill="#d81028"/><rect x="259.61" y="165.71" width="2.84" height="2.90" fill="#d81028"/><rect x="262.65" y="165.71" width="2.84" height="2.90" fill="#d81028"/>
<rect x="268.24" y="165.01" width="3.84" height="4.30" fill="#f6f0f0" opacity="0.45"/><rect x="268.74" y="165.71" width="2.84" height="2.90" fill="#d81028"/>
<rect x="271.84" y="165.86" width="2.74" height="2.60" fill="#a4d0e8"/>
<rect x="283.47" y="165.01" width="3.84" height="4.30" fill="#f6f0f0" opacity="0.45"/><rect x="283.97" y="165.71" width="2.84" height="2.90" fill="#7a0010"/>
<rect x="286.51" y="165.01" width="3.84" height="4.30" fill="#f6f0f0" opacity="0.45"/><rect x="287.01" y="165.71" width="2.84" height="2.90" fill="#d81028"/>
<rect x="296.19" y="165.86" width="2.74" height="2.60" fill="#a4d0e8"/>
<rect x="313.91" y="165.01" width="3.84" height="4.30" fill="#f6f0f0" opacity="0.45"/><rect x="314.41" y="165.71" width="2.84" height="2.90" fill="#7a0010"/>
<rect x="316.96" y="165.01" width="9.93" height="4.30" fill="#f6f0f0" opacity="0.45"/><rect x="317.46" y="165.71" width="2.84" height="2.90" fill="#d81028"/><rect x="320.50" y="165.71" width="2.84" height="2.90" fill="#d81028"/><rect x="323.55" y="165.71" width="2.84" height="2.90" fill="#d81028"/>
<rect x="329.14" y="165.01" width="6.89" height="4.30" fill="#f6f0f0" opacity="0.45"/><rect x="329.64" y="165.71" width="2.84" height="2.90" fill="#7a0010"/><rect x="332.68" y="165.71" width="2.84" height="2.90" fill="#7a0010"/>
<rect x="338.27" y="165.01" width="6.89" height="4.30" fill="#f6f0f0" opacity="0.45"/><rect x="338.77" y="165.71" width="2.84" height="2.90" fill="#d81028"/><rect x="341.82" y="165.71" width="2.84" height="2.90" fill="#d81028"/>
<rect x="347.41" y="165.01" width="3.84" height="4.30" fill="#f6f0f0" opacity="0.45"/><rect x="347.91" y="165.71" width="2.84" height="2.90" fill="#d81028"/>
<rect x="353.50" y="165.01" width="3.84" height="4.30" fill="#f6f0f0" opacity="0.45"/><rect x="354.00" y="165.71" width="2.84" height="2.90" fill="#d81028"/>
<rect x="359.59" y="165.01" width="3.84" height="4.30" fill="#f6f0f0" opacity="0.45"/><rect x="360.09" y="165.71" width="2.84" height="2.90" fill="#d81028"/>
<rect x="362.63" y="165.01" width="3.84" height="4.30" fill="#f6f0f0" opacity="0.45"/><rect x="363.13" y="165.71" width="2.84" height="2.90" fill="#7a0010"/>
<rect x="368.72" y="165.01" width="9.93" height="4.30" fill="#f6f0f0" opacity="0.45"/><rect x="369.22" y="165.71" width="2.84" height="2.90" fill="#d81028"/><rect x="372.26" y="165.71" width="2.84" height="2.90" fill="#d81028"/><rect x="375.31" y="165.71" width="2.84" height="2.90" fill="#d81028"/>
<rect x="378.40" y="165.86" width="2.74" height="2.60" fill="#a4d0e8"/>
<rect x="390.03" y="165.01" width="3.84" height="4.30" fill="#f6f0f0" opacity="0.45"/><rect x="390.53" y="165.71" width="2.84" height="2.90" fill="#d81028"/>
<rect x="396.67" y="165.86" width="2.74" height="2.60" fill="#a4d0e8"/>
<rect x="453.97" y="165.01" width="3.84" height="4.30" fill="#f6f0f0" opacity="0.45"/><rect x="454.47" y="165.71" width="2.84" height="2.90" fill="#d81028"/>
<rect x="219.61" y="169.55" width="3.68" height="5.40" fill="#f6f0f0" opacity="0.45"/><rect x="220.11" y="170.00" width="2.68" height="4.50" fill="#ffa07a"/>
<rect x="323.13" y="169.55" width="3.68" height="5.40" fill="#f6f0f0" opacity="0.45"/><rect x="323.63" y="170.00" width="2.68" height="4.50" fill="#5f86dc"/>
<rect x="341.40" y="169.55" width="3.68" height="5.40" fill="#f6f0f0" opacity="0.45"/><rect x="341.90" y="170.00" width="2.68" height="4.50" fill="#5f86dc"/>
<rect x="350.53" y="169.55" width="3.68" height="5.40" fill="#f6f0f0" opacity="0.45"/><rect x="351.03" y="170.00" width="2.68" height="4.50" fill="#1a2fd0"/>
<rect x="390.11" y="169.55" width="3.68" height="5.40" fill="#f6f0f0" opacity="0.45"/><rect x="390.61" y="170.00" width="2.68" height="4.50" fill="#5f86dc"/>
<rect x="432.74" y="169.55" width="3.68" height="5.40" fill="#f6f0f0" opacity="0.45"/><rect x="433.24" y="170.00" width="2.68" height="4.50" fill="#5f86dc"/>
<rect x="454.05" y="169.55" width="3.68" height="5.40" fill="#f6f0f0" opacity="0.45"/><rect x="454.55" y="170.00" width="2.68" height="4.50" fill="#5f86dc"/>
<rect x="128.26" y="174.63" width="3.68" height="5.40" fill="#f6f0f0" opacity="0.45"/><rect x="128.76" y="175.08" width="2.68" height="4.50" fill="#5f86dc"/>
<rect x="146.53" y="174.63" width="3.68" height="5.40" fill="#f6f0f0" opacity="0.45"/><rect x="147.03" y="175.08" width="2.68" height="4.50" fill="#5f86dc"/>
<rect x="289.64" y="174.63" width="3.68" height="5.40" fill="#f6f0f0" opacity="0.45"/><rect x="290.14" y="175.08" width="2.68" height="4.50" fill="#5f86dc"/>
<rect x="298.77" y="174.63" width="3.68" height="5.40" fill="#f6f0f0" opacity="0.45"/><rect x="299.27" y="175.08" width="2.68" height="4.50" fill="#5f86dc"/>
<rect x="128.26" y="179.71" width="3.68" height="5.40" fill="#f6f0f0" opacity="0.45"/><rect x="128.76" y="180.16" width="2.68" height="4.50" fill="#5f86dc"/>
<rect x="253.10" y="179.71" width="3.68" height="5.40" fill="#f6f0f0" opacity="0.45"/><rect x="253.60" y="180.16" width="2.68" height="4.50" fill="#33cc33"/>
<rect x="292.68" y="179.71" width="3.68" height="5.40" fill="#f6f0f0" opacity="0.45"/><rect x="293.18" y="180.16" width="2.68" height="4.50" fill="#5f86dc"/>
<rect x="356.62" y="179.71" width="3.68" height="5.40" fill="#f6f0f0" opacity="0.45"/><rect x="357.12" y="180.16" width="2.68" height="4.50" fill="#33cc33"/>
<rect x="435.78" y="179.71" width="3.68" height="5.40" fill="#f6f0f0" opacity="0.45"/><rect x="436.28" y="180.16" width="2.68" height="4.50" fill="#5f86dc"/>
<rect x="460.14" y="179.71" width="3.68" height="5.40" fill="#f6f0f0" opacity="0.45"/><rect x="460.64" y="180.16" width="2.68" height="4.50" fill="#5f86dc"/>
<rect x="146.53" y="184.80" width="3.68" height="5.40" fill="#f6f0f0" opacity="0.45"/><rect x="147.03" y="185.25" width="2.68" height="4.50" fill="#000000"/>
<rect x="155.67" y="184.80" width="3.68" height="5.40" fill="#f6f0f0" opacity="0.45"/><rect x="156.17" y="185.25" width="2.68" height="4.50" fill="#5f86dc"/>
<rect x="198.29" y="184.80" width="3.68" height="5.40" fill="#f6f0f0" opacity="0.45"/><rect x="198.79" y="185.25" width="2.68" height="4.50" fill="#5f86dc"/>
<rect x="253.10" y="184.80" width="3.68" height="5.40" fill="#f6f0f0" opacity="0.45"/><rect x="253.60" y="185.25" width="2.68" height="4.50" fill="#000000"/>
<rect x="432.74" y="184.80" width="3.68" height="5.40" fill="#f6f0f0" opacity="0.45"/><rect x="433.24" y="185.25" width="2.68" height="4.50" fill="#000000"/>
<rect x="143.96" y="191.28" width="2.74" height="2.60" fill="#a4d0e8"/>
<rect x="168.31" y="191.28" width="2.74" height="2.60" fill="#a4d0e8"/>
<rect x="195.72" y="191.28" width="2.74" height="2.60" fill="#a4d0e8"/>
<rect x="220.08" y="191.28" width="2.74" height="2.60" fill="#a4d0e8"/>
<rect x="253.57" y="191.28" width="2.74" height="2.60" fill="#a4d0e8"/>
<rect x="262.70" y="191.28" width="2.74" height="2.60" fill="#a4d0e8"/>
<rect x="274.88" y="191.28" width="2.74" height="2.60" fill="#a4d0e8"/>
<rect x="311.42" y="191.28" width="2.74" height="2.60" fill="#a4d0e8"/>
<rect x="314.46" y="191.28" width="2.74" height="2.60" fill="#a4d0e8"/>
<rect x="320.00" y="190.43" width="3.84" height="4.30" fill="#f6f0f0" opacity="0.45"/><rect x="320.50" y="191.13" width="2.84" height="2.90" fill="#d81028"/>
<rect x="323.60" y="191.28" width="2.74" height="2.60" fill="#a4d0e8"/>
<rect x="329.14" y="190.43" width="6.89" height="4.30" fill="#f6f0f0" opacity="0.45"/><rect x="329.64" y="191.13" width="2.84" height="2.90" fill="#d81028"/><rect x="332.68" y="191.13" width="2.84" height="2.90" fill="#d81028"/>
<rect x="351.00" y="191.28" width="2.74" height="2.60" fill="#a4d0e8"/>
<rect x="354.05" y="191.28" width="2.74" height="2.60" fill="#a4d0e8"/>
<rect x="357.09" y="191.28" width="2.74" height="2.60" fill="#a4d0e8"/>
<rect x="360.14" y="191.28" width="2.74" height="2.60" fill="#a4d0e8"/>
<rect x="363.18" y="191.28" width="2.74" height="2.60" fill="#a4d0e8"/>
<rect x="378.40" y="191.28" width="2.74" height="2.60" fill="#a4d0e8"/>
<rect x="381.45" y="191.28" width="2.74" height="2.60" fill="#a4d0e8"/>
<rect x="384.49" y="191.28" width="2.74" height="2.60" fill="#a4d0e8"/>
<rect x="448.43" y="191.28" width="2.74" height="2.60" fill="#a4d0e8"/>
<rect x="460.61" y="191.28" width="2.74" height="2.60" fill="#a4d0e8"/>
<rect x="463.66" y="191.28" width="2.74" height="2.60" fill="#a4d0e8"/>
<rect x="478.88" y="191.28" width="2.74" height="2.60" fill="#a4d0e8"/>
<rect x="167.84" y="194.96" width="3.68" height="5.40" fill="#f6f0f0" opacity="0.45"/><rect x="168.34" y="195.41" width="2.68" height="4.50" fill="#5f86dc"/>
<rect x="390.11" y="194.96" width="3.68" height="5.40" fill="#f6f0f0" opacity="0.45"/><rect x="390.61" y="195.41" width="2.68" height="4.50" fill="#5f86dc"/>
<rect x="435.78" y="194.96" width="3.68" height="5.40" fill="#f6f0f0" opacity="0.45"/><rect x="436.28" y="195.41" width="2.68" height="4.50" fill="#5f86dc"/>
<rect x="444.92" y="194.96" width="3.68" height="5.40" fill="#f6f0f0" opacity="0.45"/><rect x="445.42" y="195.41" width="2.68" height="4.50" fill="#5f86dc"/>
<rect x="454.05" y="194.96" width="3.68" height="5.40" fill="#f6f0f0" opacity="0.45"/><rect x="454.55" y="195.41" width="2.68" height="4.50" fill="#5f86dc"/>
<rect x="228.74" y="200.05" width="3.68" height="5.40" fill="#f6f0f0" opacity="0.45"/><rect x="229.24" y="200.50" width="2.68" height="4.50" fill="#000000"/>
<rect x="380.98" y="200.05" width="3.68" height="5.40" fill="#f6f0f0" opacity="0.45"/><rect x="381.48" y="200.50" width="2.68" height="4.50" fill="#5f86dc"/>
<rect x="125.22" y="205.13" width="3.68" height="5.40" fill="#f6f0f0" opacity="0.45"/><rect x="125.72" y="205.58" width="2.68" height="4.50" fill="#5f86dc"/>
<rect x="444.92" y="205.13" width="3.68" height="5.40" fill="#f6f0f0" opacity="0.45"/><rect x="445.42" y="205.58" width="2.68" height="4.50" fill="#5f86dc"/>
<rect x="460.14" y="205.13" width="3.68" height="5.40" fill="#f6f0f0" opacity="0.45"/><rect x="460.64" y="205.58" width="2.68" height="4.50" fill="#5f86dc"/>
<rect x="122.17" y="210.21" width="3.68" height="5.40" fill="#f6f0f0" opacity="0.45"/><rect x="122.67" y="210.66" width="2.68" height="4.50" fill="#5f86dc"/>
<rect x="131.31" y="210.21" width="3.68" height="5.40" fill="#f6f0f0" opacity="0.45"/><rect x="131.81" y="210.66" width="2.68" height="4.50" fill="#5f86dc"/>
<rect x="164.80" y="210.21" width="3.68" height="5.40" fill="#f6f0f0" opacity="0.45"/><rect x="165.30" y="210.66" width="2.68" height="4.50" fill="#5f86dc"/>
<rect x="265.28" y="210.21" width="3.68" height="5.40" fill="#f6f0f0" opacity="0.45"/><rect x="265.78" y="210.66" width="2.68" height="4.50" fill="#5f86dc"/>
<rect x="125.22" y="215.29" width="3.68" height="5.40" fill="#f6f0f0" opacity="0.45"/><rect x="125.72" y="215.74" width="2.68" height="4.50" fill="#000000"/>
<rect x="317.04" y="215.29" width="3.68" height="5.40" fill="#f6f0f0" opacity="0.45"/><rect x="317.54" y="215.74" width="2.68" height="4.50" fill="#5f86dc"/>
<rect x="335.31" y="215.29" width="3.68" height="5.40" fill="#f6f0f0" opacity="0.45"/><rect x="335.81" y="215.74" width="2.68" height="4.50" fill="#a6e22a"/>
<rect x="457.10" y="215.29" width="3.68" height="5.40" fill="#f6f0f0" opacity="0.45"/><rect x="457.60" y="215.74" width="2.68" height="4.50" fill="#cc33dd"/>
<rect x="478.41" y="215.29" width="3.68" height="5.40" fill="#f6f0f0" opacity="0.45"/><rect x="478.91" y="215.74" width="2.68" height="4.50" fill="#000000"/>
<rect x="125.69" y="221.78" width="2.74" height="2.60" fill="#a4d0e8"/>
<rect x="131.78" y="221.78" width="2.74" height="2.60" fill="#a4d0e8"/>
<rect x="156.14" y="221.78" width="2.74" height="2.60" fill="#a4d0e8"/>
<rect x="165.27" y="221.78" width="2.74" height="2.60" fill="#a4d0e8"/>
<rect x="180.49" y="221.78" width="2.74" height="2.60" fill="#a4d0e8"/>
<rect x="189.63" y="221.78" width="2.74" height="2.60" fill="#a4d0e8"/>
<rect x="204.30" y="220.93" width="3.84" height="4.30" fill="#f6f0f0" opacity="0.45"/><rect x="204.80" y="221.63" width="2.84" height="2.90" fill="#d81028"/>
<rect x="220.08" y="221.78" width="2.74" height="2.60" fill="#a4d0e8"/>
<rect x="235.30" y="221.78" width="2.74" height="2.60" fill="#a4d0e8"/>
<rect x="287.06" y="221.78" width="2.74" height="2.60" fill="#a4d0e8"/>
<rect x="290.11" y="221.78" width="2.74" height="2.60" fill="#a4d0e8"/>
<rect x="311.42" y="221.78" width="2.74" height="2.60" fill="#a4d0e8"/>
<rect x="317.51" y="221.78" width="2.74" height="2.60" fill="#a4d0e8"/>
<rect x="329.14" y="220.93" width="3.84" height="4.30" fill="#f6f0f0" opacity="0.45"/><rect x="329.64" y="221.63" width="2.84" height="2.90" fill="#7a0010"/>
<rect x="368.72" y="220.93" width="3.84" height="4.30" fill="#f6f0f0" opacity="0.45"/><rect x="369.22" y="221.63" width="2.84" height="2.90" fill="#d81028"/>
<rect x="375.36" y="221.78" width="2.74" height="2.60" fill="#a4d0e8"/>
<rect x="387.54" y="221.78" width="2.74" height="2.60" fill="#a4d0e8"/>
<rect x="414.94" y="221.78" width="2.74" height="2.60" fill="#a4d0e8"/>
<rect x="451.48" y="221.78" width="2.74" height="2.60" fill="#a4d0e8"/>
<rect x="457.57" y="221.78" width="2.74" height="2.60" fill="#a4d0e8"/>
<rect x="478.88" y="221.78" width="2.74" height="2.60" fill="#a4d0e8"/>
<rect x="326.17" y="225.46" width="3.68" height="5.40" fill="#f6f0f0" opacity="0.45"/><rect x="326.67" y="225.91" width="2.68" height="4.50" fill="#5f86dc"/>
<rect x="390.11" y="225.46" width="3.68" height="5.40" fill="#f6f0f0" opacity="0.45"/><rect x="390.61" y="225.91" width="2.68" height="4.50" fill="#5f86dc"/>
<rect x="408.38" y="225.46" width="3.68" height="5.40" fill="#f6f0f0" opacity="0.45"/><rect x="408.88" y="225.91" width="2.68" height="4.50" fill="#5f86dc"/>
<rect x="268.32" y="230.54" width="3.68" height="5.40" fill="#f6f0f0" opacity="0.45"/><rect x="268.82" y="230.99" width="2.68" height="4.50" fill="#5f86dc"/>
<rect x="338.35" y="230.54" width="3.68" height="5.40" fill="#f6f0f0" opacity="0.45"/><rect x="338.85" y="230.99" width="2.68" height="4.50" fill="#5f86dc"/>
<rect x="164.80" y="235.63" width="3.68" height="5.40" fill="#f6f0f0" opacity="0.45"/><rect x="165.30" y="236.08" width="2.68" height="4.50" fill="#5f86dc"/>
<rect x="280.50" y="235.63" width="3.68" height="5.40" fill="#f6f0f0" opacity="0.45"/><rect x="281.00" y="236.08" width="2.68" height="4.50" fill="#ffee22"/>
<rect x="271.37" y="240.71" width="3.68" height="5.40" fill="#f6f0f0" opacity="0.45"/><rect x="271.87" y="241.16" width="2.68" height="4.50" fill="#5f86dc"/>
<rect x="289.64" y="240.71" width="3.68" height="5.40" fill="#f6f0f0" opacity="0.45"/><rect x="290.14" y="241.16" width="2.68" height="4.50" fill="#5f86dc"/>
<rect x="359.67" y="240.71" width="3.68" height="5.40" fill="#f6f0f0" opacity="0.45"/><rect x="360.17" y="241.16" width="2.68" height="4.50" fill="#5f86dc"/>
<rect x="435.78" y="245.79" width="3.68" height="5.40" fill="#f6f0f0" opacity="0.45"/><rect x="436.28" y="246.24" width="2.68" height="4.50" fill="#5f86dc"/>
<rect x="262.23" y="250.88" width="3.68" height="5.40" fill="#f6f0f0" opacity="0.45"/><rect x="262.73" y="251.33" width="2.68" height="4.50" fill="#5f86dc"/>
<rect x="283.55" y="250.88" width="3.68" height="5.40" fill="#f6f0f0" opacity="0.45"/><rect x="284.05" y="251.33" width="2.68" height="4.50" fill="#5f86dc"/>
<rect x="435.78" y="250.88" width="3.68" height="5.40" fill="#f6f0f0" opacity="0.45"/><rect x="436.28" y="251.33" width="2.68" height="4.50" fill="#5f86dc"/>
<rect x="259.19" y="255.96" width="3.68" height="5.40" fill="#f6f0f0" opacity="0.45"/><rect x="259.69" y="256.41" width="2.68" height="4.50" fill="#ffee22"/>
<rect x="301.81" y="255.96" width="3.68" height="5.40" fill="#f6f0f0" opacity="0.45"/><rect x="302.31" y="256.41" width="2.68" height="4.50" fill="#5f86dc"/>
<rect x="134.27" y="261.59" width="3.84" height="4.30" fill="#f6f0f0" opacity="0.45"/><rect x="134.77" y="262.29" width="2.84" height="2.90" fill="#d81028"/>
<rect x="168.31" y="262.44" width="2.74" height="2.60" fill="#a4d0e8"/>
<rect x="220.08" y="262.44" width="2.74" height="2.60" fill="#a4d0e8"/>
<rect x="262.70" y="262.44" width="2.74" height="2.60" fill="#a4d0e8"/>
<rect x="311.42" y="262.44" width="2.74" height="2.60" fill="#a4d0e8"/>
<rect x="313.91" y="261.59" width="3.84" height="4.30" fill="#f6f0f0" opacity="0.45"/><rect x="314.41" y="262.29" width="2.84" height="2.90" fill="#d81028"/>
<rect x="320.00" y="261.59" width="3.84" height="4.30" fill="#f6f0f0" opacity="0.45"/><rect x="320.50" y="262.29" width="2.84" height="2.90" fill="#d81028"/>
<rect x="329.14" y="261.59" width="6.89" height="4.30" fill="#f6f0f0" opacity="0.45"/><rect x="329.64" y="262.29" width="2.84" height="2.90" fill="#d81028"/><rect x="332.68" y="262.29" width="2.84" height="2.90" fill="#d81028"/>
<rect x="384.49" y="262.44" width="2.74" height="2.60" fill="#a4d0e8"/>
<rect x="265.28" y="266.12" width="3.68" height="5.40" fill="#f6f0f0" opacity="0.45"/><rect x="265.78" y="266.57" width="2.68" height="4.50" fill="#33cc33"/>
<rect x="283.55" y="266.12" width="3.68" height="5.40" fill="#f6f0f0" opacity="0.45"/><rect x="284.05" y="266.57" width="2.68" height="4.50" fill="#ffee22"/>
<rect x="432.74" y="266.12" width="3.68" height="5.40" fill="#f6f0f0" opacity="0.45"/><rect x="433.24" y="266.57" width="2.68" height="4.50" fill="#1a2fd0"/>
<rect x="95.24" y="272.61" width="2.74" height="2.60" fill="#a4d0e8"/>
<rect x="107.42" y="272.61" width="2.74" height="2.60" fill="#a4d0e8"/>
<rect x="128.73" y="272.61" width="2.74" height="2.60" fill="#a4d0e8"/>
<rect x="131.78" y="272.61" width="2.74" height="2.60" fill="#a4d0e8"/>
<rect x="134.82" y="272.61" width="2.74" height="2.60" fill="#a4d0e8"/>
<rect x="150.05" y="272.61" width="2.74" height="2.60" fill="#a4d0e8"/>
<rect x="156.14" y="272.61" width="2.74" height="2.60" fill="#a4d0e8"/>
<rect x="162.22" y="272.61" width="2.74" height="2.60" fill="#a4d0e8"/>
<rect x="165.27" y="272.61" width="2.74" height="2.60" fill="#a4d0e8"/>
<rect x="168.31" y="272.61" width="2.74" height="2.60" fill="#a4d0e8"/>
<rect x="171.36" y="272.61" width="2.74" height="2.60" fill="#a4d0e8"/>
<rect x="195.72" y="272.61" width="2.74" height="2.60" fill="#a4d0e8"/>
<rect x="204.85" y="272.61" width="2.74" height="2.60" fill="#a4d0e8"/>
<rect x="220.08" y="272.61" width="2.74" height="2.60" fill="#a4d0e8"/>
<rect x="235.30" y="272.61" width="2.74" height="2.60" fill="#a4d0e8"/>
<rect x="265.75" y="272.61" width="2.74" height="2.60" fill="#a4d0e8"/>
<rect x="271.84" y="272.61" width="2.74" height="2.60" fill="#a4d0e8"/>
<rect x="274.88" y="272.61" width="2.74" height="2.60" fill="#a4d0e8"/>
<rect x="277.93" y="272.61" width="2.74" height="2.60" fill="#a4d0e8"/>
<rect x="280.97" y="272.61" width="2.74" height="2.60" fill="#a4d0e8"/>
<rect x="284.02" y="272.61" width="2.74" height="2.60" fill="#a4d0e8"/>
<rect x="290.11" y="272.61" width="2.74" height="2.60" fill="#a4d0e8"/>
<rect x="293.15" y="272.61" width="2.74" height="2.60" fill="#a4d0e8"/>
<rect x="296.19" y="272.61" width="2.74" height="2.60" fill="#a4d0e8"/>
<rect x="313.91" y="271.76" width="3.84" height="4.30" fill="#f6f0f0" opacity="0.45"/><rect x="314.41" y="272.46" width="2.84" height="2.90" fill="#d81028"/>
<rect x="320.00" y="271.76" width="3.84" height="4.30" fill="#f6f0f0" opacity="0.45"/><rect x="320.50" y="272.46" width="2.84" height="2.90" fill="#d81028"/>
<rect x="335.78" y="272.61" width="2.74" height="2.60" fill="#a4d0e8"/>
<rect x="344.91" y="272.61" width="2.74" height="2.60" fill="#a4d0e8"/>
<rect x="351.00" y="272.61" width="2.74" height="2.60" fill="#a4d0e8"/>
<rect x="357.09" y="272.61" width="2.74" height="2.60" fill="#a4d0e8"/>
<rect x="375.36" y="272.61" width="2.74" height="2.60" fill="#a4d0e8"/>
<rect x="381.45" y="272.61" width="2.74" height="2.60" fill="#a4d0e8"/>
<rect x="384.49" y="272.61" width="2.74" height="2.60" fill="#a4d0e8"/>
<rect x="387.54" y="272.61" width="2.74" height="2.60" fill="#a4d0e8"/>
<rect x="393.63" y="272.61" width="2.74" height="2.60" fill="#a4d0e8"/>
<rect x="399.72" y="272.61" width="2.74" height="2.60" fill="#a4d0e8"/>
<rect x="411.90" y="272.61" width="2.74" height="2.60" fill="#a4d0e8"/>
<rect x="433.21" y="272.61" width="2.74" height="2.60" fill="#a4d0e8"/>
<rect x="436.25" y="272.61" width="2.74" height="2.60" fill="#a4d0e8"/>
<rect x="439.30" y="272.61" width="2.74" height="2.60" fill="#a4d0e8"/>
<rect x="442.34" y="272.61" width="2.74" height="2.60" fill="#a4d0e8"/>
<rect x="445.39" y="272.61" width="2.74" height="2.60" fill="#a4d0e8"/>
<rect x="451.48" y="272.61" width="2.74" height="2.60" fill="#a4d0e8"/>
<rect x="457.57" y="272.61" width="2.74" height="2.60" fill="#a4d0e8"/>
<rect x="463.66" y="272.61" width="2.74" height="2.60" fill="#a4d0e8"/>
<rect x="478.88" y="272.61" width="2.74" height="2.60" fill="#a4d0e8"/>
<rect x="320.08" y="276.29" width="3.68" height="5.40" fill="#f6f0f0" opacity="0.45"/><rect x="320.58" y="276.74" width="2.68" height="4.50" fill="#5f86dc"/>
<rect x="332.26" y="276.29" width="3.68" height="5.40" fill="#f6f0f0" opacity="0.45"/><rect x="332.76" y="276.74" width="2.68" height="4.50" fill="#5f86dc"/>
<rect x="341.40" y="281.37" width="3.68" height="5.40" fill="#f6f0f0" opacity="0.45"/><rect x="341.90" y="281.82" width="2.68" height="4.50" fill="#000000"/>
<rect x="454.05" y="281.37" width="3.68" height="5.40" fill="#f6f0f0" opacity="0.45"/><rect x="454.55" y="281.82" width="2.68" height="4.50" fill="#000000"/>
<rect x="134.27" y="287.01" width="3.84" height="4.30" fill="#f6f0f0" opacity="0.45"/><rect x="134.77" y="287.71" width="2.84" height="2.90" fill="#d81028"/>
<rect x="168.31" y="287.86" width="2.74" height="2.60" fill="#a4d0e8"/>
<rect x="189.63" y="287.86" width="2.74" height="2.60" fill="#a4d0e8"/>
<rect x="220.08" y="287.86" width="2.74" height="2.60" fill="#a4d0e8"/>
<rect x="313.91" y="287.01" width="3.84" height="4.30" fill="#f6f0f0" opacity="0.45"/><rect x="314.41" y="287.71" width="2.84" height="2.90" fill="#d81028"/>
<rect x="320.00" y="287.01" width="3.84" height="4.30" fill="#f6f0f0" opacity="0.45"/><rect x="320.50" y="287.71" width="2.84" height="2.90" fill="#d81028"/>
<rect x="329.14" y="287.01" width="6.89" height="4.30" fill="#f6f0f0" opacity="0.45"/><rect x="329.64" y="287.71" width="2.84" height="2.90" fill="#d81028"/><rect x="332.68" y="287.71" width="2.84" height="2.90" fill="#d81028"/>
<rect x="372.31" y="287.86" width="2.74" height="2.60" fill="#a4d0e8"/>
<rect x="384.49" y="287.86" width="2.74" height="2.60" fill="#a4d0e8"/>
<rect x="195.25" y="291.54" width="3.68" height="5.40" fill="#f6f0f0" opacity="0.45"/><rect x="195.75" y="291.99" width="2.68" height="4.50" fill="#a6e22a"/>
<rect x="313.99" y="291.54" width="3.68" height="5.40" fill="#f6f0f0" opacity="0.45"/><rect x="314.49" y="291.99" width="2.68" height="4.50" fill="#5f86dc"/>
<rect x="326.17" y="291.54" width="3.68" height="5.40" fill="#f6f0f0" opacity="0.45"/><rect x="326.67" y="291.99" width="2.68" height="4.50" fill="#ffee22"/>
<rect x="292.68" y="296.62" width="3.68" height="5.40" fill="#f6f0f0" opacity="0.45"/><rect x="293.18" y="297.07" width="2.68" height="4.50" fill="#5f86dc"/>
<rect x="374.89" y="296.62" width="3.68" height="5.40" fill="#f6f0f0" opacity="0.45"/><rect x="375.39" y="297.07" width="2.68" height="4.50" fill="#a6e22a"/>
<rect x="466.23" y="296.62" width="3.68" height="5.40" fill="#f6f0f0" opacity="0.45"/><rect x="466.73" y="297.07" width="2.68" height="4.50" fill="#ffee22"/>
<rect x="323.13" y="301.71" width="3.68" height="5.40" fill="#f6f0f0" opacity="0.45"/><rect x="323.63" y="302.16" width="2.68" height="4.50" fill="#5f86dc"/>
<rect x="454.05" y="301.71" width="3.68" height="5.40" fill="#f6f0f0" opacity="0.45"/><rect x="454.55" y="302.16" width="2.68" height="4.50" fill="#ffa07a"/>
<rect x="91.64" y="307.34" width="3.84" height="4.30" fill="#f6f0f0" opacity="0.45"/><rect x="92.14" y="308.04" width="2.84" height="2.90" fill="#d81028"/>
<rect x="119.05" y="307.34" width="3.84" height="4.30" fill="#f6f0f0" opacity="0.45"/><rect x="119.55" y="308.04" width="2.84" height="2.90" fill="#d81028"/>
<rect x="134.27" y="307.34" width="3.84" height="4.30" fill="#f6f0f0" opacity="0.45"/><rect x="134.77" y="308.04" width="2.84" height="2.90" fill="#d81028"/>
<rect x="140.36" y="307.34" width="3.84" height="4.30" fill="#f6f0f0" opacity="0.45"/><rect x="140.86" y="308.04" width="2.84" height="2.90" fill="#d81028"/>
<rect x="146.45" y="307.34" width="6.89" height="4.30" fill="#f6f0f0" opacity="0.45"/><rect x="146.95" y="308.04" width="2.84" height="2.90" fill="#d81028"/><rect x="150.00" y="308.04" width="2.84" height="2.90" fill="#d81028"/>
<rect x="158.63" y="307.34" width="3.84" height="4.30" fill="#f6f0f0" opacity="0.45"/><rect x="159.13" y="308.04" width="2.84" height="2.90" fill="#d81028"/>
<rect x="164.72" y="307.34" width="3.84" height="4.30" fill="#f6f0f0" opacity="0.45"/><rect x="165.22" y="308.04" width="2.84" height="2.90" fill="#d81028"/>
<rect x="168.31" y="308.19" width="2.74" height="2.60" fill="#a4d0e8"/>
<rect x="173.85" y="307.34" width="3.84" height="4.30" fill="#f6f0f0" opacity="0.45"/><rect x="174.35" y="308.04" width="2.84" height="2.90" fill="#d81028"/>
<rect x="192.12" y="307.34" width="3.84" height="4.30" fill="#f6f0f0" opacity="0.45"/><rect x="192.62" y="308.04" width="2.84" height="2.90" fill="#d81028"/>
<rect x="198.21" y="307.34" width="3.84" height="4.30" fill="#f6f0f0" opacity="0.45"/><rect x="198.71" y="308.04" width="2.84" height="2.90" fill="#d81028"/>
<rect x="207.35" y="307.34" width="3.84" height="4.30" fill="#f6f0f0" opacity="0.45"/><rect x="207.85" y="308.04" width="2.84" height="2.90" fill="#d81028"/>
<rect x="220.08" y="308.19" width="2.74" height="2.60" fill="#a4d0e8"/>
<rect x="225.61" y="307.34" width="3.84" height="4.30" fill="#f6f0f0" opacity="0.45"/><rect x="226.11" y="308.04" width="2.84" height="2.90" fill="#d81028"/>
<rect x="231.70" y="307.34" width="3.84" height="4.30" fill="#f6f0f0" opacity="0.45"/><rect x="232.20" y="308.04" width="2.84" height="2.90" fill="#d81028"/>
<rect x="253.02" y="307.34" width="3.84" height="4.30" fill="#f6f0f0" opacity="0.45"/><rect x="253.52" y="308.04" width="2.84" height="2.90" fill="#7a0010"/>
<rect x="256.06" y="307.34" width="9.93" height="4.30" fill="#f6f0f0" opacity="0.45"/><rect x="256.56" y="308.04" width="2.84" height="2.90" fill="#d81028"/><rect x="259.61" y="308.04" width="2.84" height="2.90" fill="#d81028"/><rect x="262.65" y="308.04" width="2.84" height="2.90" fill="#d81028"/>
<rect x="268.24" y="307.34" width="3.84" height="4.30" fill="#f6f0f0" opacity="0.45"/><rect x="268.74" y="308.04" width="2.84" height="2.90" fill="#d81028"/>
<rect x="271.84" y="308.19" width="2.74" height="2.60" fill="#a4d0e8"/>
<rect x="283.47" y="307.34" width="6.89" height="4.30" fill="#f6f0f0" opacity="0.45"/><rect x="283.97" y="308.04" width="2.84" height="2.90" fill="#7a0010"/><rect x="287.01" y="308.04" width="2.84" height="2.90" fill="#7a0010"/>
<rect x="293.15" y="308.19" width="2.74" height="2.60" fill="#a4d0e8"/>
<rect x="296.19" y="308.19" width="2.74" height="2.60" fill="#a4d0e8"/>
<rect x="313.91" y="307.34" width="3.84" height="4.30" fill="#f6f0f0" opacity="0.45"/><rect x="314.41" y="308.04" width="2.84" height="2.90" fill="#7a0010"/>
<rect x="316.96" y="307.34" width="9.93" height="4.30" fill="#f6f0f0" opacity="0.45"/><rect x="317.46" y="308.04" width="2.84" height="2.90" fill="#d81028"/><rect x="320.50" y="308.04" width="2.84" height="2.90" fill="#d81028"/><rect x="323.55" y="308.04" width="2.84" height="2.90" fill="#d81028"/>
<rect x="329.14" y="307.34" width="6.89" height="4.30" fill="#f6f0f0" opacity="0.45"/><rect x="329.64" y="308.04" width="2.84" height="2.90" fill="#7a0010"/><rect x="332.68" y="308.04" width="2.84" height="2.90" fill="#7a0010"/>
<rect x="338.27" y="307.34" width="6.89" height="4.30" fill="#f6f0f0" opacity="0.45"/><rect x="338.77" y="308.04" width="2.84" height="2.90" fill="#d81028"/><rect x="341.82" y="308.04" width="2.84" height="2.90" fill="#d81028"/>
<rect x="347.41" y="307.34" width="9.93" height="4.30" fill="#f6f0f0" opacity="0.45"/><rect x="347.91" y="308.04" width="2.84" height="2.90" fill="#d81028"/><rect x="350.95" y="308.04" width="2.84" height="2.90" fill="#d81028"/><rect x="354.00" y="308.04" width="2.84" height="2.90" fill="#d81028"/>
<rect x="359.59" y="307.34" width="3.84" height="4.30" fill="#f6f0f0" opacity="0.45"/><rect x="360.09" y="308.04" width="2.84" height="2.90" fill="#d81028"/>
<rect x="362.63" y="307.34" width="3.84" height="4.30" fill="#f6f0f0" opacity="0.45"/><rect x="363.13" y="308.04" width="2.84" height="2.90" fill="#7a0010"/>
<rect x="368.72" y="307.34" width="9.93" height="4.30" fill="#f6f0f0" opacity="0.45"/><rect x="369.22" y="308.04" width="2.84" height="2.90" fill="#d81028"/><rect x="372.26" y="308.04" width="2.84" height="2.90" fill="#d81028"/><rect x="375.31" y="308.04" width="2.84" height="2.90" fill="#d81028"/>
<rect x="378.40" y="308.19" width="2.74" height="2.60" fill="#a4d0e8"/>
<rect x="390.03" y="307.34" width="3.84" height="4.30" fill="#f6f0f0" opacity="0.45"/><rect x="390.53" y="308.04" width="2.84" height="2.90" fill="#d81028"/>
<rect x="396.67" y="308.19" width="2.74" height="2.60" fill="#a4d0e8"/>
<rect x="453.97" y="307.34" width="3.84" height="4.30" fill="#f6f0f0" opacity="0.45"/><rect x="454.47" y="308.04" width="2.84" height="2.90" fill="#d81028"/>
<rect x="189.16" y="311.87" width="3.68" height="5.40" fill="#f6f0f0" opacity="0.45"/><rect x="189.66" y="312.32" width="2.68" height="4.50" fill="#5f86dc"/>
<rect x="262.23" y="311.87" width="3.68" height="5.40" fill="#f6f0f0" opacity="0.45"/><rect x="262.73" y="312.32" width="2.68" height="4.50" fill="#1a2fd0"/>
<rect x="335.31" y="316.95" width="3.68" height="5.40" fill="#f6f0f0" opacity="0.45"/><rect x="335.81" y="317.40" width="2.68" height="4.50" fill="#5f86dc"/>
<rect x="402.29" y="316.95" width="3.68" height="5.40" fill="#f6f0f0" opacity="0.45"/><rect x="402.79" y="317.40" width="2.68" height="4.50" fill="#5f86dc"/>
<rect x="97.81" y="322.04" width="3.68" height="5.40" fill="#f6f0f0" opacity="0.45"/><rect x="98.31" y="322.49" width="2.68" height="4.50" fill="#5f86dc"/>
<rect x="399.25" y="322.04" width="3.68" height="5.40" fill="#f6f0f0" opacity="0.45"/><rect x="399.75" y="322.49" width="2.68" height="4.50" fill="#5f86dc"/>
<rect x="161.75" y="327.12" width="3.68" height="5.40" fill="#f6f0f0" opacity="0.45"/><rect x="162.25" y="327.57" width="2.68" height="4.50" fill="#ffee22"/>
<rect x="307.90" y="327.12" width="3.68" height="5.40" fill="#f6f0f0" opacity="0.45"/><rect x="308.40" y="327.57" width="2.68" height="4.50" fill="#ffa07a"/>
<rect x="95.24" y="333.60" width="2.74" height="2.60" fill="#a4d0e8"/>
<rect x="147.00" y="333.60" width="2.74" height="2.60" fill="#a4d0e8"/>
<rect x="162.22" y="333.60" width="2.74" height="2.60" fill="#a4d0e8"/>
<rect x="168.31" y="333.60" width="2.74" height="2.60" fill="#a4d0e8"/>
<rect x="186.58" y="333.60" width="2.74" height="2.60" fill="#a4d0e8"/>
<rect x="189.63" y="333.60" width="2.74" height="2.60" fill="#a4d0e8"/>
<rect x="204.85" y="333.60" width="2.74" height="2.60" fill="#a4d0e8"/>
<rect x="220.08" y="333.60" width="2.74" height="2.60" fill="#a4d0e8"/>
<rect x="235.30" y="333.60" width="2.74" height="2.60" fill="#a4d0e8"/>
<rect x="265.75" y="333.60" width="2.74" height="2.60" fill="#a4d0e8"/>
<rect x="271.84" y="333.60" width="2.74" height="2.60" fill="#a4d0e8"/>
<rect x="290.11" y="333.60" width="2.74" height="2.60" fill="#a4d0e8"/>
<rect x="313.91" y="332.75" width="3.84" height="4.30" fill="#f6f0f0" opacity="0.45"/><rect x="314.41" y="333.45" width="2.84" height="2.90" fill="#d81028"/>
<rect x="341.32" y="332.75" width="3.84" height="4.30" fill="#f6f0f0" opacity="0.45"/><rect x="341.82" y="333.45" width="2.84" height="2.90" fill="#7a0010"/>
<rect x="360.14" y="333.60" width="2.74" height="2.60" fill="#a4d0e8"/>
<rect x="375.36" y="333.60" width="2.74" height="2.60" fill="#a4d0e8"/>
<rect x="387.54" y="333.60" width="2.74" height="2.60" fill="#a4d0e8"/>
<rect x="442.34" y="333.60" width="2.74" height="2.60" fill="#a4d0e8"/>
<rect x="448.43" y="333.60" width="2.74" height="2.60" fill="#a4d0e8"/>
<rect x="453.97" y="332.75" width="3.84" height="4.30" fill="#f6f0f0" opacity="0.45"/><rect x="454.47" y="333.45" width="2.84" height="2.90" fill="#d81028"/>
<rect x="192.20" y="337.29" width="3.68" height="5.40" fill="#f6f0f0" opacity="0.45"/><rect x="192.70" y="337.74" width="2.68" height="4.50" fill="#5f86dc"/>
<rect x="301.81" y="337.29" width="3.68" height="5.40" fill="#f6f0f0" opacity="0.45"/><rect x="302.31" y="337.74" width="2.68" height="4.50" fill="#ffa07a"/>
<rect x="268.32" y="342.37" width="3.68" height="5.40" fill="#f6f0f0" opacity="0.45"/><rect x="268.82" y="342.82" width="2.68" height="4.50" fill="#ffee22"/>
<rect x="451.01" y="342.37" width="3.68" height="5.40" fill="#f6f0f0" opacity="0.45"/><rect x="451.51" y="342.82" width="2.68" height="4.50" fill="#5f86dc"/>
<rect x="304.86" y="347.45" width="3.68" height="5.40" fill="#f6f0f0" opacity="0.45"/><rect x="305.36" y="347.90" width="2.68" height="4.50" fill="#5f86dc"/>
<rect x="317.04" y="347.45" width="3.68" height="5.40" fill="#f6f0f0" opacity="0.45"/><rect x="317.54" y="347.90" width="2.68" height="4.50" fill="#ffa07a"/>
<rect x="256.14" y="352.54" width="6.73" height="5.40" fill="#f6f0f0" opacity="0.45"/><rect x="256.64" y="352.99" width="5.73" height="4.50" fill="#5f86dc"/>
<rect x="91.64" y="358.17" width="3.84" height="4.30" fill="#f6f0f0" opacity="0.45"/><rect x="92.14" y="358.87" width="2.84" height="2.90" fill="#d81028"/>
<rect x="122.09" y="358.17" width="3.84" height="4.30" fill="#f6f0f0" opacity="0.45"/><rect x="122.59" y="358.87" width="2.84" height="2.90" fill="#d81028"/>
<rect x="125.14" y="358.17" width="3.84" height="4.30" fill="#f6f0f0" opacity="0.45"/><rect x="125.64" y="358.87" width="2.84" height="2.90" fill="#7a0010"/>
<rect x="134.27" y="358.17" width="3.84" height="4.30" fill="#f6f0f0" opacity="0.45"/><rect x="134.77" y="358.87" width="2.84" height="2.90" fill="#d81028"/>
<rect x="146.45" y="358.17" width="6.89" height="4.30" fill="#f6f0f0" opacity="0.45"/><rect x="146.95" y="358.87" width="2.84" height="2.90" fill="#d81028"/><rect x="150.00" y="358.87" width="2.84" height="2.90" fill="#d81028"/>
<rect x="155.59" y="358.17" width="6.89" height="4.30" fill="#f6f0f0" opacity="0.45"/><rect x="156.09" y="358.87" width="2.84" height="2.90" fill="#d81028"/><rect x="159.13" y="358.87" width="2.84" height="2.90" fill="#d81028"/>
<rect x="189.08" y="358.17" width="6.89" height="4.30" fill="#f6f0f0" opacity="0.45"/><rect x="189.58" y="358.87" width="2.84" height="2.90" fill="#d81028"/><rect x="192.62" y="358.87" width="2.84" height="2.90" fill="#d81028"/>
<rect x="198.21" y="358.17" width="3.84" height="4.30" fill="#f6f0f0" opacity="0.45"/><rect x="198.71" y="358.87" width="2.84" height="2.90" fill="#d81028"/>
<rect x="219.53" y="358.17" width="3.84" height="4.30" fill="#f6f0f0" opacity="0.45"/><rect x="220.03" y="358.87" width="2.84" height="2.90" fill="#7a0010"/>
<rect x="225.61" y="358.17" width="3.84" height="4.30" fill="#f6f0f0" opacity="0.45"/><rect x="226.11" y="358.87" width="2.84" height="2.90" fill="#d81028"/>
<rect x="253.02" y="358.17" width="9.93" height="4.30" fill="#f6f0f0" opacity="0.45"/><rect x="253.52" y="358.87" width="2.84" height="2.90" fill="#d81028"/><rect x="256.56" y="358.87" width="2.84" height="2.90" fill="#d81028"/><rect x="259.61" y="358.87" width="2.84" height="2.90" fill="#d81028"/>
<rect x="262.15" y="358.17" width="3.84" height="4.30" fill="#f6f0f0" opacity="0.45"/><rect x="262.65" y="358.87" width="2.84" height="2.90" fill="#7a0010"/>
<rect x="268.24" y="358.17" width="3.84" height="4.30" fill="#f6f0f0" opacity="0.45"/><rect x="268.74" y="358.87" width="2.84" height="2.90" fill="#d81028"/>
<rect x="283.47" y="358.17" width="6.89" height="4.30" fill="#f6f0f0" opacity="0.45"/><rect x="283.97" y="358.87" width="2.84" height="2.90" fill="#d81028"/><rect x="287.01" y="358.87" width="2.84" height="2.90" fill="#d81028"/>
<rect x="310.87" y="358.17" width="3.84" height="4.30" fill="#f6f0f0" opacity="0.45"/><rect x="311.37" y="358.87" width="2.84" height="2.90" fill="#7a0010"/>
<rect x="313.91" y="358.17" width="12.98" height="4.30" fill="#f6f0f0" opacity="0.45"/><rect x="314.41" y="358.87" width="2.84" height="2.90" fill="#d81028"/><rect x="317.46" y="358.87" width="2.84" height="2.90" fill="#d81028"/><rect x="320.50" y="358.87" width="2.84" height="2.90" fill="#d81028"/><rect x="323.55" y="358.87" width="2.84" height="2.90" fill="#d81028"/>
<rect x="329.14" y="358.17" width="9.93" height="4.30" fill="#f6f0f0" opacity="0.45"/><rect x="329.64" y="358.87" width="2.84" height="2.90" fill="#d81028"/><rect x="332.68" y="358.87" width="2.84" height="2.90" fill="#d81028"/><rect x="335.73" y="358.87" width="2.84" height="2.90" fill="#d81028"/>
<rect x="341.32" y="358.17" width="9.93" height="4.30" fill="#f6f0f0" opacity="0.45"/><rect x="341.82" y="358.87" width="2.84" height="2.90" fill="#d81028"/><rect x="344.86" y="358.87" width="2.84" height="2.90" fill="#d81028"/><rect x="347.91" y="358.87" width="2.84" height="2.90" fill="#d81028"/>
<rect x="353.50" y="358.17" width="9.93" height="4.30" fill="#f6f0f0" opacity="0.45"/><rect x="354.00" y="358.87" width="2.84" height="2.90" fill="#d81028"/><rect x="357.04" y="358.87" width="2.84" height="2.90" fill="#d81028"/><rect x="360.09" y="358.87" width="2.84" height="2.90" fill="#d81028"/>
<rect x="371.76" y="358.17" width="3.84" height="4.30" fill="#f6f0f0" opacity="0.45"/><rect x="372.26" y="358.87" width="2.84" height="2.90" fill="#d81028"/>
<rect x="377.85" y="358.17" width="3.84" height="4.30" fill="#f6f0f0" opacity="0.45"/><rect x="378.35" y="358.87" width="2.84" height="2.90" fill="#d81028"/>
<rect x="399.17" y="358.17" width="3.84" height="4.30" fill="#f6f0f0" opacity="0.45"/><rect x="399.67" y="358.87" width="2.84" height="2.90" fill="#d81028"/>
<rect x="432.66" y="358.17" width="3.84" height="4.30" fill="#f6f0f0" opacity="0.45"/><rect x="433.16" y="358.87" width="2.84" height="2.90" fill="#d81028"/>
<rect x="447.88" y="358.17" width="3.84" height="4.30" fill="#f6f0f0" opacity="0.45"/><rect x="448.38" y="358.87" width="2.84" height="2.90" fill="#7a0010"/>
<rect x="450.93" y="358.17" width="6.89" height="4.30" fill="#f6f0f0" opacity="0.45"/><rect x="451.43" y="358.87" width="2.84" height="2.90" fill="#d81028"/><rect x="454.47" y="358.87" width="2.84" height="2.90" fill="#d81028"/>
<rect x="475.29" y="358.17" width="3.84" height="4.30" fill="#f6f0f0" opacity="0.45"/><rect x="475.79" y="358.87" width="2.84" height="2.90" fill="#d81028"/>
<rect x="490.51" y="358.17" width="3.84" height="4.30" fill="#f6f0f0" opacity="0.45"/><rect x="491.01" y="358.87" width="2.84" height="2.90" fill="#d81028"/>
<rect x="204.38" y="362.70" width="3.68" height="5.40" fill="#f6f0f0" opacity="0.45"/><rect x="204.88" y="363.15" width="2.68" height="4.50" fill="#ffa07a"/>
<rect x="95.24" y="369.18" width="2.74" height="2.60" fill="#a4d0e8"/>
<rect x="128.73" y="369.18" width="2.74" height="2.60" fill="#a4d0e8"/>
<rect x="147.00" y="369.18" width="2.74" height="2.60" fill="#a4d0e8"/>
<rect x="162.22" y="369.18" width="2.74" height="2.60" fill="#a4d0e8"/>
<rect x="168.31" y="369.18" width="2.74" height="2.60" fill="#a4d0e8"/>
<rect x="186.58" y="369.18" width="2.74" height="2.60" fill="#a4d0e8"/>
<rect x="189.63" y="369.18" width="2.74" height="2.60" fill="#a4d0e8"/>
<rect x="204.85" y="369.18" width="2.74" height="2.60" fill="#a4d0e8"/>
<rect x="220.08" y="369.18" width="2.74" height="2.60" fill="#a4d0e8"/>
<rect x="226.16" y="369.18" width="2.74" height="2.60" fill="#a4d0e8"/>
<rect x="235.30" y="369.18" width="2.74" height="2.60" fill="#a4d0e8"/>
<rect x="265.75" y="369.18" width="2.74" height="2.60" fill="#a4d0e8"/>
<rect x="290.11" y="369.18" width="2.74" height="2.60" fill="#a4d0e8"/>
<rect x="311.42" y="369.18" width="2.74" height="2.60" fill="#a4d0e8"/>
<rect x="323.60" y="369.18" width="2.74" height="2.60" fill="#a4d0e8"/>
<rect x="341.32" y="368.33" width="3.84" height="4.30" fill="#f6f0f0" opacity="0.45"/><rect x="341.82" y="369.03" width="2.84" height="2.90" fill="#7a0010"/>
<rect x="360.14" y="369.18" width="2.74" height="2.60" fill="#a4d0e8"/>
<rect x="375.36" y="369.18" width="2.74" height="2.60" fill="#a4d0e8"/>
<rect x="387.54" y="369.18" width="2.74" height="2.60" fill="#a4d0e8"/>
<rect x="439.30" y="369.18" width="2.74" height="2.60" fill="#a4d0e8"/>
<rect x="442.34" y="369.18" width="2.74" height="2.60" fill="#a4d0e8"/>
<rect x="448.43" y="369.18" width="2.74" height="2.60" fill="#a4d0e8"/>
<rect x="453.97" y="368.33" width="3.84" height="4.30" fill="#f6f0f0" opacity="0.45"/><rect x="454.47" y="369.03" width="2.84" height="2.90" fill="#d81028"/>
<rect x="475.37" y="372.87" width="3.68" height="5.40" fill="#f6f0f0" opacity="0.45"/><rect x="475.87" y="373.32" width="2.68" height="4.50" fill="#5f86dc"/>
<rect x="405.34" y="377.95" width="3.68" height="5.40" fill="#f6f0f0" opacity="0.45"/><rect x="405.84" y="378.40" width="2.68" height="4.50" fill="#5f86dc"/>
<rect x="95.24" y="384.43" width="2.74" height="2.60" fill="#a4d0e8"/>
<rect x="104.37" y="384.43" width="2.74" height="2.60" fill="#a4d0e8"/>
<rect x="107.42" y="384.43" width="2.74" height="2.60" fill="#a4d0e8"/>
<rect x="119.60" y="384.43" width="2.74" height="2.60" fill="#a4d0e8"/>
<rect x="122.64" y="384.43" width="2.74" height="2.60" fill="#a4d0e8"/>
<rect x="125.69" y="384.43" width="2.74" height="2.60" fill="#a4d0e8"/>
<rect x="147.00" y="384.43" width="2.74" height="2.60" fill="#a4d0e8"/>
<rect x="156.14" y="384.43" width="2.74" height="2.60" fill="#a4d0e8"/>
<rect x="159.18" y="384.43" width="2.74" height="2.60" fill="#a4d0e8"/>
<rect x="162.22" y="384.43" width="2.74" height="2.60" fill="#a4d0e8"/>
<rect x="195.72" y="384.43" width="2.74" height="2.60" fill="#a4d0e8"/>
<rect x="204.85" y="384.43" width="2.74" height="2.60" fill="#a4d0e8"/>
<rect x="220.08" y="384.43" width="2.74" height="2.60" fill="#a4d0e8"/>
<rect x="231.70" y="383.58" width="3.84" height="4.30" fill="#f6f0f0" opacity="0.45"/><rect x="232.20" y="384.28" width="2.84" height="2.90" fill="#d81028"/>
<rect x="253.57" y="384.43" width="2.74" height="2.60" fill="#a4d0e8"/>
<rect x="256.61" y="384.43" width="2.74" height="2.60" fill="#a4d0e8"/>
<rect x="259.66" y="384.43" width="2.74" height="2.60" fill="#a4d0e8"/>
<rect x="268.79" y="384.43" width="2.74" height="2.60" fill="#a4d0e8"/>
<rect x="274.88" y="384.43" width="2.74" height="2.60" fill="#a4d0e8"/>
<rect x="311.42" y="384.43" width="2.74" height="2.60" fill="#a4d0e8"/>
<rect x="326.64" y="384.43" width="2.74" height="2.60" fill="#a4d0e8"/>
<rect x="351.00" y="384.43" width="2.74" height="2.60" fill="#a4d0e8"/>
<rect x="354.05" y="384.43" width="2.74" height="2.60" fill="#a4d0e8"/>
<rect x="375.36" y="384.43" width="2.74" height="2.60" fill="#a4d0e8"/>
<rect x="405.81" y="384.43" width="2.74" height="2.60" fill="#a4d0e8"/>
<rect x="433.21" y="384.43" width="2.74" height="2.60" fill="#a4d0e8"/>
<rect x="445.39" y="384.43" width="2.74" height="2.60" fill="#a4d0e8"/>
<rect x="457.57" y="384.43" width="2.74" height="2.60" fill="#a4d0e8"/>
<rect x="463.66" y="384.43" width="2.74" height="2.60" fill="#a4d0e8"/>
<rect x="466.70" y="384.43" width="2.74" height="2.60" fill="#a4d0e8"/>
<rect x="475.84" y="384.43" width="2.74" height="2.60" fill="#a4d0e8"/>
<rect x="491.06" y="384.43" width="2.74" height="2.60" fill="#a4d0e8"/>
<rect x="262.23" y="388.12" width="3.68" height="5.40" fill="#f6f0f0" opacity="0.45"/><rect x="262.73" y="388.57" width="2.68" height="4.50" fill="#ffa07a"/>
<rect x="91.64" y="393.75" width="6.89" height="4.30" fill="#f6f0f0" opacity="0.45"/><rect x="92.14" y="394.45" width="2.84" height="2.90" fill="#d81028"/><rect x="95.19" y="394.45" width="2.84" height="2.90" fill="#d81028"/>
<rect x="122.09" y="393.75" width="3.84" height="4.30" fill="#f6f0f0" opacity="0.45"/><rect x="122.59" y="394.45" width="2.84" height="2.90" fill="#d81028"/>
<rect x="125.14" y="393.75" width="3.84" height="4.30" fill="#f6f0f0" opacity="0.45"/><rect x="125.64" y="394.45" width="2.84" height="2.90" fill="#7a0010"/>
<rect x="134.27" y="393.75" width="3.84" height="4.30" fill="#f6f0f0" opacity="0.45"/><rect x="134.77" y="394.45" width="2.84" height="2.90" fill="#d81028"/>
<rect x="146.45" y="393.75" width="3.84" height="4.30" fill="#f6f0f0" opacity="0.45"/><rect x="146.95" y="394.45" width="2.84" height="2.90" fill="#7a0010"/>
<rect x="149.50" y="393.75" width="6.89" height="4.30" fill="#f6f0f0" opacity="0.45"/><rect x="150.00" y="394.45" width="2.84" height="2.90" fill="#d81028"/><rect x="153.04" y="394.45" width="2.84" height="2.90" fill="#d81028"/>
<rect x="158.63" y="393.75" width="3.84" height="4.30" fill="#f6f0f0" opacity="0.45"/><rect x="159.13" y="394.45" width="2.84" height="2.90" fill="#d81028"/>
<rect x="176.90" y="393.75" width="3.84" height="4.30" fill="#f6f0f0" opacity="0.45"/><rect x="177.40" y="394.45" width="2.84" height="2.90" fill="#d81028"/>
<rect x="189.08" y="393.75" width="3.84" height="4.30" fill="#f6f0f0" opacity="0.45"/><rect x="189.58" y="394.45" width="2.84" height="2.90" fill="#d81028"/>
<rect x="192.12" y="393.75" width="3.84" height="4.30" fill="#f6f0f0" opacity="0.45"/><rect x="192.62" y="394.45" width="2.84" height="2.90" fill="#7a0010"/>
<rect x="198.21" y="393.75" width="3.84" height="4.30" fill="#f6f0f0" opacity="0.45"/><rect x="198.71" y="394.45" width="2.84" height="2.90" fill="#d81028"/>
<rect x="204.30" y="393.75" width="6.89" height="4.30" fill="#f6f0f0" opacity="0.45"/><rect x="204.80" y="394.45" width="2.84" height="2.90" fill="#d81028"/><rect x="207.85" y="394.45" width="2.84" height="2.90" fill="#d81028"/>
<rect x="219.53" y="393.75" width="3.84" height="4.30" fill="#f6f0f0" opacity="0.45"/><rect x="220.03" y="394.45" width="2.84" height="2.90" fill="#7a0010"/>
<rect x="225.61" y="393.75" width="3.84" height="4.30" fill="#f6f0f0" opacity="0.45"/><rect x="226.11" y="394.45" width="2.84" height="2.90" fill="#7a0010"/>
<rect x="231.70" y="393.75" width="6.89" height="4.30" fill="#f6f0f0" opacity="0.45"/><rect x="232.20" y="394.45" width="2.84" height="2.90" fill="#d81028"/><rect x="235.25" y="394.45" width="2.84" height="2.90" fill="#d81028"/>
<rect x="253.02" y="393.75" width="9.93" height="4.30" fill="#f6f0f0" opacity="0.45"/><rect x="253.52" y="394.45" width="2.84" height="2.90" fill="#d81028"/><rect x="256.56" y="394.45" width="2.84" height="2.90" fill="#d81028"/><rect x="259.61" y="394.45" width="2.84" height="2.90" fill="#d81028"/>
<rect x="265.20" y="393.75" width="6.89" height="4.30" fill="#f6f0f0" opacity="0.45"/><rect x="265.70" y="394.45" width="2.84" height="2.90" fill="#d81028"/><rect x="268.74" y="394.45" width="2.84" height="2.90" fill="#d81028"/>
<rect x="277.38" y="393.75" width="3.84" height="4.30" fill="#f6f0f0" opacity="0.45"/><rect x="277.88" y="394.45" width="2.84" height="2.90" fill="#d81028"/>
<rect x="283.47" y="393.75" width="6.89" height="4.30" fill="#f6f0f0" opacity="0.45"/><rect x="283.97" y="394.45" width="2.84" height="2.90" fill="#d81028"/><rect x="287.01" y="394.45" width="2.84" height="2.90" fill="#d81028"/>
<rect x="313.91" y="393.75" width="6.89" height="4.30" fill="#f6f0f0" opacity="0.45"/><rect x="314.41" y="394.45" width="2.84" height="2.90" fill="#7a0010"/><rect x="317.46" y="394.45" width="2.84" height="2.90" fill="#7a0010"/>
<rect x="320.00" y="393.75" width="3.84" height="4.30" fill="#f6f0f0" opacity="0.45"/><rect x="320.50" y="394.45" width="2.84" height="2.90" fill="#d81028"/>
<rect x="326.09" y="393.75" width="3.84" height="4.30" fill="#f6f0f0" opacity="0.45"/><rect x="326.59" y="394.45" width="2.84" height="2.90" fill="#7a0010"/>
<rect x="329.14" y="393.75" width="9.93" height="4.30" fill="#f6f0f0" opacity="0.45"/><rect x="329.64" y="394.45" width="2.84" height="2.90" fill="#d81028"/><rect x="332.68" y="394.45" width="2.84" height="2.90" fill="#d81028"/><rect x="335.73" y="394.45" width="2.84" height="2.90" fill="#d81028"/>
<rect x="341.32" y="393.75" width="3.84" height="4.30" fill="#f6f0f0" opacity="0.45"/><rect x="341.82" y="394.45" width="2.84" height="2.90" fill="#7a0010"/>
<rect x="344.36" y="393.75" width="6.89" height="4.30" fill="#f6f0f0" opacity="0.45"/><rect x="344.86" y="394.45" width="2.84" height="2.90" fill="#d81028"/><rect x="347.91" y="394.45" width="2.84" height="2.90" fill="#d81028"/>
<rect x="353.50" y="393.75" width="9.93" height="4.30" fill="#f6f0f0" opacity="0.45"/><rect x="354.00" y="394.45" width="2.84" height="2.90" fill="#d81028"/><rect x="357.04" y="394.45" width="2.84" height="2.90" fill="#d81028"/><rect x="360.09" y="394.45" width="2.84" height="2.90" fill="#d81028"/>
<rect x="362.63" y="393.75" width="3.84" height="4.30" fill="#f6f0f0" opacity="0.45"/><rect x="363.13" y="394.45" width="2.84" height="2.90" fill="#7a0010"/>
<rect x="365.67" y="393.75" width="6.89" height="4.30" fill="#f6f0f0" opacity="0.45"/><rect x="366.17" y="394.45" width="2.84" height="2.90" fill="#d81028"/><rect x="369.22" y="394.45" width="2.84" height="2.90" fill="#d81028"/>
<rect x="383.94" y="393.75" width="9.93" height="4.30" fill="#f6f0f0" opacity="0.45"/><rect x="384.44" y="394.45" width="2.84" height="2.90" fill="#d81028"/><rect x="387.49" y="394.45" width="2.84" height="2.90" fill="#d81028"/><rect x="390.53" y="394.45" width="2.84" height="2.90" fill="#d81028"/>
<rect x="399.17" y="393.75" width="3.84" height="4.30" fill="#f6f0f0" opacity="0.45"/><rect x="399.67" y="394.45" width="2.84" height="2.90" fill="#d81028"/>
<rect x="432.66" y="393.75" width="3.84" height="4.30" fill="#f6f0f0" opacity="0.45"/><rect x="433.16" y="394.45" width="2.84" height="2.90" fill="#7a0010"/>
<rect x="441.79" y="393.75" width="3.84" height="4.30" fill="#f6f0f0" opacity="0.45"/><rect x="442.29" y="394.45" width="2.84" height="2.90" fill="#d81028"/>
<rect x="447.88" y="393.75" width="9.93" height="4.30" fill="#f6f0f0" opacity="0.45"/><rect x="448.38" y="394.45" width="2.84" height="2.90" fill="#d81028"/><rect x="451.43" y="394.45" width="2.84" height="2.90" fill="#d81028"/><rect x="454.47" y="394.45" width="2.84" height="2.90" fill="#d81028"/>
<rect x="475.29" y="393.75" width="3.84" height="4.30" fill="#f6f0f0" opacity="0.45"/><rect x="475.79" y="394.45" width="2.84" height="2.90" fill="#7a0010"/>
<rect x="478.33" y="393.75" width="6.89" height="4.30" fill="#f6f0f0" opacity="0.45"/><rect x="478.83" y="394.45" width="2.84" height="2.90" fill="#d81028"/><rect x="481.88" y="394.45" width="2.84" height="2.90" fill="#d81028"/>
<rect x="490.51" y="393.75" width="3.84" height="4.30" fill="#f6f0f0" opacity="0.45"/><rect x="491.01" y="394.45" width="2.84" height="2.90" fill="#7a0010"/>
<rect x="122.17" y="398.28" width="3.68" height="5.40" fill="#f6f0f0" opacity="0.45"/><rect x="122.67" y="398.73" width="2.68" height="4.50" fill="#cc33dd"/>
<rect x="192.20" y="398.28" width="3.68" height="5.40" fill="#f6f0f0" opacity="0.45"/><rect x="192.70" y="398.73" width="2.68" height="4.50" fill="#5f86dc"/>
<rect x="106.87" y="403.92" width="3.84" height="4.30" fill="#f6f0f0" opacity="0.45"/><rect x="107.37" y="404.62" width="2.84" height="2.90" fill="#dfa750"/>
<rect x="122.09" y="403.92" width="3.84" height="4.30" fill="#f6f0f0" opacity="0.45"/><rect x="122.59" y="404.62" width="2.84" height="2.90" fill="#dfa750"/>
<rect x="128.18" y="403.92" width="6.89" height="4.30" fill="#f6f0f0" opacity="0.45"/><rect x="128.68" y="404.62" width="2.84" height="2.90" fill="#dfa750"/><rect x="131.73" y="404.62" width="2.84" height="2.90" fill="#dfa750"/>
<rect x="143.41" y="403.92" width="3.84" height="4.30" fill="#f6f0f0" opacity="0.45"/><rect x="143.91" y="404.62" width="2.84" height="2.90" fill="#dfa750"/>
<rect x="158.63" y="403.92" width="6.89" height="4.30" fill="#f6f0f0" opacity="0.45"/><rect x="159.13" y="404.62" width="2.84" height="2.90" fill="#dfa750"/><rect x="162.17" y="404.62" width="2.84" height="2.90" fill="#dfa750"/>
<rect x="173.85" y="403.92" width="3.84" height="4.30" fill="#f6f0f0" opacity="0.45"/><rect x="174.35" y="404.62" width="2.84" height="2.90" fill="#dfa750"/>
<rect x="186.03" y="403.92" width="3.84" height="4.30" fill="#f6f0f0" opacity="0.45"/><rect x="186.53" y="404.62" width="2.84" height="2.90" fill="#dfa750"/>
<rect x="192.12" y="403.92" width="3.84" height="4.30" fill="#f6f0f0" opacity="0.45"/><rect x="192.62" y="404.62" width="2.84" height="2.90" fill="#dfa750"/>
<rect x="198.21" y="403.92" width="3.84" height="4.30" fill="#f6f0f0" opacity="0.45"/><rect x="198.71" y="404.62" width="2.84" height="2.90" fill="#dfa750"/>
<rect x="204.30" y="403.92" width="3.84" height="4.30" fill="#f6f0f0" opacity="0.45"/><rect x="204.80" y="404.62" width="2.84" height="2.90" fill="#dfa750"/>
<rect x="210.39" y="403.92" width="3.84" height="4.30" fill="#f6f0f0" opacity="0.45"/><rect x="210.89" y="404.62" width="2.84" height="2.90" fill="#dfa750"/>
<rect x="225.61" y="403.92" width="6.89" height="4.30" fill="#f6f0f0" opacity="0.45"/><rect x="226.11" y="404.62" width="2.84" height="2.90" fill="#dfa750"/><rect x="229.16" y="404.62" width="2.84" height="2.90" fill="#dfa750"/>
<rect x="240.84" y="403.92" width="3.84" height="4.30" fill="#f6f0f0" opacity="0.45"/><rect x="241.34" y="404.62" width="2.84" height="2.90" fill="#dfa750"/>
<rect x="249.97" y="403.92" width="9.93" height="4.30" fill="#f6f0f0" opacity="0.45"/><rect x="250.47" y="404.62" width="2.84" height="2.90" fill="#dfa750"/><rect x="253.52" y="404.62" width="2.84" height="2.90" fill="#dfa750"/><rect x="256.56" y="404.62" width="2.84" height="2.90" fill="#dfa750"/>
<rect x="265.20" y="403.92" width="9.93" height="4.30" fill="#f6f0f0" opacity="0.45"/><rect x="265.70" y="404.62" width="2.84" height="2.90" fill="#dfa750"/><rect x="268.74" y="404.62" width="2.84" height="2.90" fill="#dfa750"/><rect x="271.79" y="404.62" width="2.84" height="2.90" fill="#dfa750"/>
<rect x="277.38" y="403.92" width="3.84" height="4.30" fill="#f6f0f0" opacity="0.45"/><rect x="277.88" y="404.62" width="2.84" height="2.90" fill="#dfa750"/>
<rect x="310.87" y="403.92" width="3.84" height="4.30" fill="#f6f0f0" opacity="0.45"/><rect x="311.37" y="404.62" width="2.84" height="2.90" fill="#dfa750"/>
<rect x="316.96" y="403.92" width="25.16" height="4.30" fill="#f6f0f0" opacity="0.45"/><rect x="317.46" y="404.62" width="2.84" height="2.90" fill="#dfa750"/><rect x="320.50" y="404.62" width="2.84" height="2.90" fill="#dfa750"/><rect x="323.55" y="404.62" width="2.84" height="2.90" fill="#dfa750"/><rect x="326.59" y="404.62" width="2.84" height="2.90" fill="#dfa750"/><rect x="329.64" y="404.62" width="2.84" height="2.90" fill="#dfa750"/><rect x="332.68" y="404.62" width="2.84" height="2.90" fill="#dfa750"/><rect x="335.73" y="404.62" width="2.84" height="2.90" fill="#dfa750"/><rect x="338.77" y="404.62" width="2.84" height="2.90" fill="#dfa750"/>
<rect x="347.41" y="403.92" width="3.84" height="4.30" fill="#f6f0f0" opacity="0.45"/><rect x="347.91" y="404.62" width="2.84" height="2.90" fill="#dfa750"/>
<rect x="353.50" y="403.92" width="3.84" height="4.30" fill="#f6f0f0" opacity="0.45"/><rect x="354.00" y="404.62" width="2.84" height="2.90" fill="#dfa750"/>
<rect x="359.59" y="403.92" width="9.93" height="4.30" fill="#f6f0f0" opacity="0.45"/><rect x="360.09" y="404.62" width="2.84" height="2.90" fill="#dfa750"/><rect x="363.13" y="404.62" width="2.84" height="2.90" fill="#dfa750"/><rect x="366.17" y="404.62" width="2.84" height="2.90" fill="#dfa750"/>
<rect x="377.85" y="403.92" width="6.89" height="4.30" fill="#f6f0f0" opacity="0.45"/><rect x="378.35" y="404.62" width="2.84" height="2.90" fill="#dfa750"/><rect x="381.40" y="404.62" width="2.84" height="2.90" fill="#dfa750"/>
<rect x="396.12" y="403.92" width="3.84" height="4.30" fill="#f6f0f0" opacity="0.45"/><rect x="396.62" y="404.62" width="2.84" height="2.90" fill="#dfa750"/>
<rect x="432.66" y="403.92" width="6.89" height="4.30" fill="#f6f0f0" opacity="0.45"/><rect x="433.16" y="404.62" width="2.84" height="2.90" fill="#dfa750"/><rect x="436.20" y="404.62" width="2.84" height="2.90" fill="#dfa750"/>
<rect x="441.79" y="403.92" width="3.84" height="4.30" fill="#f6f0f0" opacity="0.45"/><rect x="442.29" y="404.62" width="2.84" height="2.90" fill="#dfa750"/>
<rect x="463.11" y="403.92" width="6.89" height="4.30" fill="#f6f0f0" opacity="0.45"/><rect x="463.61" y="404.62" width="2.84" height="2.90" fill="#dfa750"/><rect x="466.65" y="404.62" width="2.84" height="2.90" fill="#dfa750"/>
<rect x="475.29" y="403.92" width="3.84" height="4.30" fill="#f6f0f0" opacity="0.45"/><rect x="475.79" y="404.62" width="2.84" height="2.90" fill="#dfa750"/>
<rect x="119.05" y="409.00" width="6.89" height="4.30" fill="#f6f0f0" opacity="0.45"/><rect x="119.55" y="409.70" width="2.84" height="2.90" fill="#5a2fd0"/><rect x="122.59" y="409.70" width="2.84" height="2.90" fill="#5a2fd0"/>
<rect x="137.32" y="409.00" width="3.84" height="4.30" fill="#f6f0f0" opacity="0.45"/><rect x="137.82" y="409.70" width="2.84" height="2.90" fill="#5a2fd0"/>
<rect x="146.45" y="409.00" width="3.84" height="4.30" fill="#f6f0f0" opacity="0.45"/><rect x="146.95" y="409.70" width="2.84" height="2.90" fill="#5a2fd0"/>
<rect x="158.63" y="409.00" width="6.89" height="4.30" fill="#f6f0f0" opacity="0.45"/><rect x="159.13" y="409.70" width="2.84" height="2.90" fill="#5a2fd0"/><rect x="162.17" y="409.70" width="2.84" height="2.90" fill="#5a2fd0"/>
<rect x="192.12" y="409.00" width="3.84" height="4.30" fill="#f6f0f0" opacity="0.45"/><rect x="192.62" y="409.70" width="2.84" height="2.90" fill="#5a2fd0"/>
<rect x="198.21" y="409.00" width="3.84" height="4.30" fill="#f6f0f0" opacity="0.45"/><rect x="198.71" y="409.70" width="2.84" height="2.90" fill="#5a2fd0"/>
<rect x="204.30" y="409.00" width="3.84" height="4.30" fill="#f6f0f0" opacity="0.45"/><rect x="204.80" y="409.70" width="2.84" height="2.90" fill="#5a2fd0"/>
<rect x="225.61" y="409.00" width="3.84" height="4.30" fill="#f6f0f0" opacity="0.45"/><rect x="226.11" y="409.70" width="2.84" height="2.90" fill="#5a2fd0"/>
<rect x="253.02" y="409.00" width="6.89" height="4.30" fill="#f6f0f0" opacity="0.45"/><rect x="253.52" y="409.70" width="2.84" height="2.90" fill="#5a2fd0"/><rect x="256.56" y="409.70" width="2.84" height="2.90" fill="#5a2fd0"/>
<rect x="265.20" y="409.00" width="3.84" height="4.30" fill="#f6f0f0" opacity="0.45"/><rect x="265.70" y="409.70" width="2.84" height="2.90" fill="#5a2fd0"/>
<rect x="277.38" y="409.00" width="3.84" height="4.30" fill="#f6f0f0" opacity="0.45"/><rect x="277.88" y="409.70" width="2.84" height="2.90" fill="#5a2fd0"/>
<rect x="283.47" y="409.00" width="3.84" height="4.30" fill="#f6f0f0" opacity="0.45"/><rect x="283.97" y="409.70" width="2.84" height="2.90" fill="#5a2fd0"/>
<rect x="310.87" y="409.00" width="3.84" height="4.30" fill="#f6f0f0" opacity="0.45"/><rect x="311.37" y="409.70" width="2.84" height="2.90" fill="#5a2fd0"/>
<rect x="320.00" y="409.00" width="9.93" height="4.30" fill="#f6f0f0" opacity="0.45"/><rect x="320.50" y="409.70" width="2.84" height="2.90" fill="#5a2fd0"/><rect x="323.55" y="409.70" width="2.84" height="2.90" fill="#5a2fd0"/><rect x="326.59" y="409.70" width="2.84" height="2.90" fill="#5a2fd0"/>
<rect x="332.18" y="409.00" width="9.93" height="4.30" fill="#f6f0f0" opacity="0.45"/><rect x="332.68" y="409.70" width="2.84" height="2.90" fill="#5a2fd0"/><rect x="335.73" y="409.70" width="2.84" height="2.90" fill="#5a2fd0"/><rect x="338.77" y="409.70" width="2.84" height="2.90" fill="#5a2fd0"/>
<rect x="347.41" y="409.00" width="3.84" height="4.30" fill="#f6f0f0" opacity="0.45"/><rect x="347.91" y="409.70" width="2.84" height="2.90" fill="#5a2fd0"/>
<rect x="365.67" y="409.00" width="3.84" height="4.30" fill="#f6f0f0" opacity="0.45"/><rect x="366.17" y="409.70" width="2.84" height="2.90" fill="#5a2fd0"/>
<rect x="380.90" y="409.00" width="3.84" height="4.30" fill="#f6f0f0" opacity="0.45"/><rect x="381.40" y="409.70" width="2.84" height="2.90" fill="#5a2fd0"/>
<rect x="396.12" y="409.00" width="3.84" height="4.30" fill="#f6f0f0" opacity="0.45"/><rect x="396.62" y="409.70" width="2.84" height="2.90" fill="#5a2fd0"/>
<rect x="402.21" y="409.00" width="3.84" height="4.30" fill="#f6f0f0" opacity="0.45"/><rect x="402.71" y="409.70" width="2.84" height="2.90" fill="#5a2fd0"/>
<rect x="432.66" y="409.00" width="3.84" height="4.30" fill="#f6f0f0" opacity="0.45"/><rect x="433.16" y="409.70" width="2.84" height="2.90" fill="#5a2fd0"/>
<rect x="463.11" y="409.00" width="3.84" height="4.30" fill="#f6f0f0" opacity="0.45"/><rect x="463.61" y="409.70" width="2.84" height="2.90" fill="#5a2fd0"/>
<rect x="475.29" y="409.00" width="3.84" height="4.30" fill="#f6f0f0" opacity="0.45"/><rect x="475.79" y="409.70" width="2.84" height="2.90" fill="#5a2fd0"/>
<rect x="490.51" y="409.00" width="3.84" height="4.30" fill="#f6f0f0" opacity="0.45"/><rect x="491.01" y="409.70" width="2.84" height="2.90" fill="#5a2fd0"/>
<rect x="106.87" y="414.08" width="3.84" height="4.30" fill="#f6f0f0" opacity="0.45"/><rect x="107.37" y="414.78" width="2.84" height="2.90" fill="#c48a58"/>
<rect x="119.05" y="414.08" width="6.89" height="4.30" fill="#f6f0f0" opacity="0.45"/><rect x="119.55" y="414.78" width="2.84" height="2.90" fill="#c48a58"/><rect x="122.59" y="414.78" width="2.84" height="2.90" fill="#c48a58"/>
<rect x="128.18" y="414.08" width="6.89" height="4.30" fill="#f6f0f0" opacity="0.45"/><rect x="128.68" y="414.78" width="2.84" height="2.90" fill="#c48a58"/><rect x="131.73" y="414.78" width="2.84" height="2.90" fill="#c48a58"/>
<rect x="137.32" y="414.08" width="3.84" height="4.30" fill="#f6f0f0" opacity="0.45"/><rect x="137.82" y="414.78" width="2.84" height="2.90" fill="#c48a58"/>
<rect x="143.41" y="414.08" width="6.89" height="4.30" fill="#f6f0f0" opacity="0.45"/><rect x="143.91" y="414.78" width="2.84" height="2.90" fill="#c48a58"/><rect x="146.95" y="414.78" width="2.84" height="2.90" fill="#c48a58"/>
<rect x="158.63" y="414.08" width="6.89" height="4.30" fill="#f6f0f0" opacity="0.45"/><rect x="159.13" y="414.78" width="2.84" height="2.90" fill="#c48a58"/><rect x="162.17" y="414.78" width="2.84" height="2.90" fill="#c48a58"/>
<rect x="173.85" y="414.08" width="3.84" height="4.30" fill="#f6f0f0" opacity="0.45"/><rect x="174.35" y="414.78" width="2.84" height="2.90" fill="#c48a58"/>
<rect x="186.03" y="414.08" width="3.84" height="4.30" fill="#f6f0f0" opacity="0.45"/><rect x="186.53" y="414.78" width="2.84" height="2.90" fill="#c48a58"/>
<rect x="192.12" y="414.08" width="3.84" height="4.30" fill="#f6f0f0" opacity="0.45"/><rect x="192.62" y="414.78" width="2.84" height="2.90" fill="#c48a58"/>
<rect x="198.21" y="414.08" width="3.84" height="4.30" fill="#f6f0f0" opacity="0.45"/><rect x="198.71" y="414.78" width="2.84" height="2.90" fill="#c48a58"/>
<rect x="204.30" y="414.08" width="3.84" height="4.30" fill="#f6f0f0" opacity="0.45"/><rect x="204.80" y="414.78" width="2.84" height="2.90" fill="#c48a58"/>
<rect x="210.39" y="414.08" width="3.84" height="4.30" fill="#f6f0f0" opacity="0.45"/><rect x="210.89" y="414.78" width="2.84" height="2.90" fill="#c48a58"/>
<rect x="225.61" y="414.08" width="6.89" height="4.30" fill="#f6f0f0" opacity="0.45"/><rect x="226.11" y="414.78" width="2.84" height="2.90" fill="#c48a58"/><rect x="229.16" y="414.78" width="2.84" height="2.90" fill="#c48a58"/>
<rect x="240.84" y="414.08" width="3.84" height="4.30" fill="#f6f0f0" opacity="0.45"/><rect x="241.34" y="414.78" width="2.84" height="2.90" fill="#c48a58"/>
<rect x="249.97" y="414.08" width="9.93" height="4.30" fill="#f6f0f0" opacity="0.45"/><rect x="250.47" y="414.78" width="2.84" height="2.90" fill="#c48a58"/><rect x="253.52" y="414.78" width="2.84" height="2.90" fill="#c48a58"/><rect x="256.56" y="414.78" width="2.84" height="2.90" fill="#c48a58"/>
<rect x="265.20" y="414.08" width="9.93" height="4.30" fill="#f6f0f0" opacity="0.45"/><rect x="265.70" y="414.78" width="2.84" height="2.90" fill="#c48a58"/><rect x="268.74" y="414.78" width="2.84" height="2.90" fill="#c48a58"/><rect x="271.79" y="414.78" width="2.84" height="2.90" fill="#c48a58"/>
<rect x="277.38" y="414.08" width="3.84" height="4.30" fill="#f6f0f0" opacity="0.45"/><rect x="277.88" y="414.78" width="2.84" height="2.90" fill="#c48a58"/>
<rect x="283.47" y="414.08" width="3.84" height="4.30" fill="#f6f0f0" opacity="0.45"/><rect x="283.97" y="414.78" width="2.84" height="2.90" fill="#c48a58"/>
<rect x="310.87" y="414.08" width="3.84" height="4.30" fill="#f6f0f0" opacity="0.45"/><rect x="311.37" y="414.78" width="2.84" height="2.90" fill="#c48a58"/>
<rect x="316.96" y="414.08" width="25.16" height="4.30" fill="#f6f0f0" opacity="0.45"/><rect x="317.46" y="414.78" width="2.84" height="2.90" fill="#c48a58"/><rect x="320.50" y="414.78" width="2.84" height="2.90" fill="#c48a58"/><rect x="323.55" y="414.78" width="2.84" height="2.90" fill="#c48a58"/><rect x="326.59" y="414.78" width="2.84" height="2.90" fill="#c48a58"/><rect x="329.64" y="414.78" width="2.84" height="2.90" fill="#c48a58"/><rect x="332.68" y="414.78" width="2.84" height="2.90" fill="#c48a58"/><rect x="335.73" y="414.78" width="2.84" height="2.90" fill="#c48a58"/><rect x="338.77" y="414.78" width="2.84" height="2.90" fill="#c48a58"/>
<rect x="347.41" y="414.08" width="3.84" height="4.30" fill="#f6f0f0" opacity="0.45"/><rect x="347.91" y="414.78" width="2.84" height="2.90" fill="#c48a58"/>
<rect x="353.50" y="414.08" width="3.84" height="4.30" fill="#f6f0f0" opacity="0.45"/><rect x="354.00" y="414.78" width="2.84" height="2.90" fill="#c48a58"/>
<rect x="359.59" y="414.08" width="9.93" height="4.30" fill="#f6f0f0" opacity="0.45"/><rect x="360.09" y="414.78" width="2.84" height="2.90" fill="#c48a58"/><rect x="363.13" y="414.78" width="2.84" height="2.90" fill="#c48a58"/><rect x="366.17" y="414.78" width="2.84" height="2.90" fill="#c48a58"/>
<rect x="377.85" y="414.08" width="6.89" height="4.30" fill="#f6f0f0" opacity="0.45"/><rect x="378.35" y="414.78" width="2.84" height="2.90" fill="#c48a58"/><rect x="381.40" y="414.78" width="2.84" height="2.90" fill="#c48a58"/>
<rect x="396.12" y="414.08" width="3.84" height="4.30" fill="#f6f0f0" opacity="0.45"/><rect x="396.62" y="414.78" width="2.84" height="2.90" fill="#c48a58"/>
<rect x="402.21" y="414.08" width="3.84" height="4.30" fill="#f6f0f0" opacity="0.45"/><rect x="402.71" y="414.78" width="2.84" height="2.90" fill="#c48a58"/>
<rect x="432.66" y="414.08" width="6.89" height="4.30" fill="#f6f0f0" opacity="0.45"/><rect x="433.16" y="414.78" width="2.84" height="2.90" fill="#c48a58"/><rect x="436.20" y="414.78" width="2.84" height="2.90" fill="#c48a58"/>
<rect x="441.79" y="414.08" width="3.84" height="4.30" fill="#f6f0f0" opacity="0.45"/><rect x="442.29" y="414.78" width="2.84" height="2.90" fill="#c48a58"/>
<rect x="463.11" y="414.08" width="6.89" height="4.30" fill="#f6f0f0" opacity="0.45"/><rect x="463.61" y="414.78" width="2.84" height="2.90" fill="#c48a58"/><rect x="466.65" y="414.78" width="2.84" height="2.90" fill="#c48a58"/>
<rect x="475.29" y="414.08" width="3.84" height="4.30" fill="#f6f0f0" opacity="0.45"/><rect x="475.79" y="414.78" width="2.84" height="2.90" fill="#c48a58"/>
<rect x="490.51" y="414.08" width="3.84" height="4.30" fill="#f6f0f0" opacity="0.45"/><rect x="491.01" y="414.78" width="2.84" height="2.90" fill="#c48a58"/>
<rect x="116.00" y="419.16" width="3.84" height="4.30" fill="#f6f0f0" opacity="0.45"/><rect x="116.50" y="419.86" width="2.84" height="2.90" fill="#0c0c30"/>
<rect x="204.30" y="419.16" width="3.84" height="4.30" fill="#f6f0f0" opacity="0.45"/><rect x="204.80" y="419.86" width="2.84" height="2.90" fill="#0c0c30"/>
<rect x="234.75" y="419.16" width="3.84" height="4.30" fill="#f6f0f0" opacity="0.45"/><rect x="235.25" y="419.86" width="2.84" height="2.90" fill="#0c0c30"/>
<rect x="393.08" y="419.16" width="3.84" height="4.30" fill="#f6f0f0" opacity="0.45"/><rect x="393.58" y="419.86" width="2.84" height="2.90" fill="#0c0c30"/>
<rect x="481.38" y="419.16" width="3.84" height="4.30" fill="#f6f0f0" opacity="0.45"/><rect x="481.88" y="419.86" width="2.84" height="2.90" fill="#0c0c30"/>
<rect x="122.09" y="424.25" width="3.84" height="4.30" fill="#f6f0f0" opacity="0.45"/><rect x="122.59" y="424.95" width="2.84" height="2.90" fill="#665a50"/>
<rect x="128.18" y="424.25" width="3.84" height="4.30" fill="#f6f0f0" opacity="0.45"/><rect x="128.68" y="424.95" width="2.84" height="2.90" fill="#665a50"/>
<rect x="146.45" y="424.25" width="3.84" height="4.30" fill="#f6f0f0" opacity="0.45"/><rect x="146.95" y="424.95" width="2.84" height="2.90" fill="#665a50"/>
<rect x="155.59" y="424.25" width="3.84" height="4.30" fill="#f6f0f0" opacity="0.45"/><rect x="156.09" y="424.95" width="2.84" height="2.90" fill="#665a50"/>
<rect x="192.12" y="424.25" width="3.84" height="4.30" fill="#f6f0f0" opacity="0.45"/><rect x="192.62" y="424.95" width="2.84" height="2.90" fill="#665a50"/>
<rect x="198.21" y="424.25" width="3.84" height="4.30" fill="#f6f0f0" opacity="0.45"/><rect x="198.71" y="424.95" width="2.84" height="2.90" fill="#665a50"/>
<rect x="253.02" y="424.25" width="3.84" height="4.30" fill="#f6f0f0" opacity="0.45"/><rect x="253.52" y="424.95" width="2.84" height="2.90" fill="#665a50"/>
<rect x="259.11" y="424.25" width="3.84" height="4.30" fill="#f6f0f0" opacity="0.45"/><rect x="259.61" y="424.95" width="2.84" height="2.90" fill="#665a50"/>
<rect x="265.20" y="424.25" width="3.84" height="4.30" fill="#f6f0f0" opacity="0.45"/><rect x="265.70" y="424.95" width="2.84" height="2.90" fill="#665a50"/>
<rect x="277.38" y="424.25" width="3.84" height="4.30" fill="#f6f0f0" opacity="0.45"/><rect x="277.88" y="424.95" width="2.84" height="2.90" fill="#665a50"/>
<rect x="283.47" y="424.25" width="3.84" height="4.30" fill="#f6f0f0" opacity="0.45"/><rect x="283.97" y="424.95" width="2.84" height="2.90" fill="#665a50"/>
<rect x="295.64" y="424.25" width="3.84" height="4.30" fill="#f6f0f0" opacity="0.45"/><rect x="296.14" y="424.95" width="2.84" height="2.90" fill="#665a50"/>
<rect x="310.87" y="424.25" width="3.84" height="4.30" fill="#f6f0f0" opacity="0.45"/><rect x="311.37" y="424.95" width="2.84" height="2.90" fill="#665a50"/>
<rect x="326.09" y="424.25" width="6.89" height="4.30" fill="#f6f0f0" opacity="0.45"/><rect x="326.59" y="424.95" width="2.84" height="2.90" fill="#665a50"/><rect x="329.64" y="424.95" width="2.84" height="2.90" fill="#665a50"/>
<rect x="344.36" y="424.25" width="6.89" height="4.30" fill="#f6f0f0" opacity="0.45"/><rect x="344.86" y="424.95" width="2.84" height="2.90" fill="#665a50"/><rect x="347.91" y="424.95" width="2.84" height="2.90" fill="#665a50"/>
<rect x="356.54" y="424.25" width="3.84" height="4.30" fill="#f6f0f0" opacity="0.45"/><rect x="357.04" y="424.95" width="2.84" height="2.90" fill="#665a50"/>
<rect x="374.81" y="424.25" width="3.84" height="4.30" fill="#f6f0f0" opacity="0.45"/><rect x="375.31" y="424.95" width="2.84" height="2.90" fill="#665a50"/>
<rect x="405.26" y="424.25" width="3.84" height="4.30" fill="#f6f0f0" opacity="0.45"/><rect x="405.76" y="424.95" width="2.84" height="2.90" fill="#665a50"/>
<rect x="414.39" y="424.25" width="3.84" height="4.30" fill="#f6f0f0" opacity="0.45"/><rect x="414.89" y="424.95" width="2.84" height="2.90" fill="#665a50"/>
<rect x="420.48" y="424.25" width="3.84" height="4.30" fill="#f6f0f0" opacity="0.45"/><rect x="420.98" y="424.95" width="2.84" height="2.90" fill="#665a50"/>
<rect x="432.66" y="424.25" width="6.89" height="4.30" fill="#f6f0f0" opacity="0.45"/><rect x="433.16" y="424.95" width="2.84" height="2.90" fill="#665a50"/><rect x="436.20" y="424.95" width="2.84" height="2.90" fill="#665a50"/>
<rect x="460.06" y="424.25" width="6.89" height="4.30" fill="#f6f0f0" opacity="0.45"/><rect x="460.56" y="424.95" width="2.84" height="2.90" fill="#665a50"/><rect x="463.61" y="424.95" width="2.84" height="2.90" fill="#665a50"/>
<rect x="91.64" y="429.33" width="6.89" height="4.30" fill="#f6f0f0" opacity="0.45"/><rect x="92.14" y="430.03" width="2.84" height="2.90" fill="#3aae8c"/><rect x="95.19" y="430.03" width="2.84" height="2.90" fill="#3aae8c"/>
<rect x="100.78" y="429.33" width="6.89" height="4.30" fill="#f6f0f0" opacity="0.45"/><rect x="101.28" y="430.03" width="2.84" height="2.90" fill="#3aae8c"/><rect x="104.32" y="430.03" width="2.84" height="2.90" fill="#3aae8c"/>
<rect x="109.91" y="429.33" width="3.84" height="4.30" fill="#f6f0f0" opacity="0.45"/><rect x="110.41" y="430.03" width="2.84" height="2.90" fill="#3aae8c"/>
<rect x="119.05" y="429.33" width="3.84" height="4.30" fill="#f6f0f0" opacity="0.45"/><rect x="119.55" y="430.03" width="2.84" height="2.90" fill="#3aae8c"/>
<rect x="125.14" y="429.33" width="3.84" height="4.30" fill="#f6f0f0" opacity="0.45"/><rect x="125.64" y="430.03" width="2.84" height="2.90" fill="#3aae8c"/>
<rect x="131.23" y="429.33" width="12.98" height="4.30" fill="#f6f0f0" opacity="0.45"/><rect x="131.73" y="430.03" width="2.84" height="2.90" fill="#3aae8c"/><rect x="134.77" y="430.03" width="2.84" height="2.90" fill="#3aae8c"/><rect x="137.82" y="430.03" width="2.84" height="2.90" fill="#3aae8c"/><rect x="140.86" y="430.03" width="2.84" height="2.90" fill="#3aae8c"/>
<rect x="149.50" y="429.33" width="6.89" height="4.30" fill="#f6f0f0" opacity="0.45"/><rect x="150.00" y="430.03" width="2.84" height="2.90" fill="#3aae8c"/><rect x="153.04" y="430.03" width="2.84" height="2.90" fill="#3aae8c"/>
<rect x="158.63" y="429.33" width="3.84" height="4.30" fill="#f6f0f0" opacity="0.45"/><rect x="159.13" y="430.03" width="2.84" height="2.90" fill="#3aae8c"/>
<rect x="176.90" y="429.33" width="6.89" height="4.30" fill="#f6f0f0" opacity="0.45"/><rect x="177.40" y="430.03" width="2.84" height="2.90" fill="#3aae8c"/><rect x="180.44" y="430.03" width="2.84" height="2.90" fill="#3aae8c"/>
<rect x="186.03" y="429.33" width="6.89" height="4.30" fill="#f6f0f0" opacity="0.45"/><rect x="186.53" y="430.03" width="2.84" height="2.90" fill="#3aae8c"/><rect x="189.58" y="430.03" width="2.84" height="2.90" fill="#3aae8c"/>
<rect x="201.26" y="429.33" width="3.84" height="4.30" fill="#f6f0f0" opacity="0.45"/><rect x="201.76" y="430.03" width="2.84" height="2.90" fill="#3aae8c"/>
<rect x="207.35" y="429.33" width="6.89" height="4.30" fill="#f6f0f0" opacity="0.45"/><rect x="207.85" y="430.03" width="2.84" height="2.90" fill="#3aae8c"/><rect x="210.89" y="430.03" width="2.84" height="2.90" fill="#3aae8c"/>
<rect x="216.48" y="429.33" width="12.98" height="4.30" fill="#f6f0f0" opacity="0.45"/><rect x="216.98" y="430.03" width="2.84" height="2.90" fill="#3aae8c"/><rect x="220.03" y="430.03" width="2.84" height="2.90" fill="#3aae8c"/><rect x="223.07" y="430.03" width="2.84" height="2.90" fill="#3aae8c"/><rect x="226.11" y="430.03" width="2.84" height="2.90" fill="#3aae8c"/>
<rect x="231.70" y="429.33" width="3.84" height="4.30" fill="#f6f0f0" opacity="0.45"/><rect x="232.20" y="430.03" width="2.84" height="2.90" fill="#3aae8c"/>
<rect x="237.79" y="429.33" width="9.93" height="4.30" fill="#f6f0f0" opacity="0.45"/><rect x="238.29" y="430.03" width="2.84" height="2.90" fill="#3aae8c"/><rect x="241.34" y="430.03" width="2.84" height="2.90" fill="#3aae8c"/><rect x="244.38" y="430.03" width="2.84" height="2.90" fill="#3aae8c"/>
<rect x="249.97" y="429.33" width="3.84" height="4.30" fill="#f6f0f0" opacity="0.45"/><rect x="250.47" y="430.03" width="2.84" height="2.90" fill="#3aae8c"/>
<rect x="256.06" y="429.33" width="3.84" height="4.30" fill="#f6f0f0" opacity="0.45"/><rect x="256.56" y="430.03" width="2.84" height="2.90" fill="#3aae8c"/>
<rect x="262.15" y="429.33" width="3.84" height="4.30" fill="#f6f0f0" opacity="0.45"/><rect x="262.65" y="430.03" width="2.84" height="2.90" fill="#3aae8c"/>
<rect x="268.24" y="429.33" width="3.84" height="4.30" fill="#f6f0f0" opacity="0.45"/><rect x="268.74" y="430.03" width="2.84" height="2.90" fill="#3aae8c"/>
<rect x="274.33" y="429.33" width="3.84" height="4.30" fill="#f6f0f0" opacity="0.45"/><rect x="274.83" y="430.03" width="2.84" height="2.90" fill="#3aae8c"/>
<rect x="280.42" y="429.33" width="3.84" height="4.30" fill="#f6f0f0" opacity="0.45"/><rect x="280.92" y="430.03" width="2.84" height="2.90" fill="#3aae8c"/>
<rect x="286.51" y="429.33" width="6.89" height="4.30" fill="#f6f0f0" opacity="0.45"/><rect x="287.01" y="430.03" width="2.84" height="2.90" fill="#3aae8c"/><rect x="290.06" y="430.03" width="2.84" height="2.90" fill="#3aae8c"/>
<rect x="298.69" y="429.33" width="6.89" height="4.30" fill="#f6f0f0" opacity="0.45"/><rect x="299.19" y="430.03" width="2.84" height="2.90" fill="#3aae8c"/><rect x="302.23" y="430.03" width="2.84" height="2.90" fill="#3aae8c"/>
<rect x="307.82" y="429.33" width="3.84" height="4.30" fill="#f6f0f0" opacity="0.45"/><rect x="308.32" y="430.03" width="2.84" height="2.90" fill="#3aae8c"/>
<rect x="313.91" y="429.33" width="12.98" height="4.30" fill="#f6f0f0" opacity="0.45"/><rect x="314.41" y="430.03" width="2.84" height="2.90" fill="#3aae8c"/><rect x="317.46" y="430.03" width="2.84" height="2.90" fill="#3aae8c"/><rect x="320.50" y="430.03" width="2.84" height="2.90" fill="#3aae8c"/><rect x="323.55" y="430.03" width="2.84" height="2.90" fill="#3aae8c"/>
<rect x="332.18" y="429.33" width="6.89" height="4.30" fill="#f6f0f0" opacity="0.45"/><rect x="332.68" y="430.03" width="2.84" height="2.90" fill="#3aae8c"/><rect x="335.73" y="430.03" width="2.84" height="2.90" fill="#3aae8c"/>
<rect x="341.32" y="429.33" width="3.84" height="4.30" fill="#f6f0f0" opacity="0.45"/><rect x="341.82" y="430.03" width="2.84" height="2.90" fill="#3aae8c"/>
<rect x="353.50" y="429.33" width="3.84" height="4.30" fill="#f6f0f0" opacity="0.45"/><rect x="354.00" y="430.03" width="2.84" height="2.90" fill="#3aae8c"/>
<rect x="359.59" y="429.33" width="9.93" height="4.30" fill="#f6f0f0" opacity="0.45"/><rect x="360.09" y="430.03" width="2.84" height="2.90" fill="#3aae8c"/><rect x="363.13" y="430.03" width="2.84" height="2.90" fill="#3aae8c"/><rect x="366.17" y="430.03" width="2.84" height="2.90" fill="#3aae8c"/>
<rect x="371.76" y="429.33" width="3.84" height="4.30" fill="#f6f0f0" opacity="0.45"/><rect x="372.26" y="430.03" width="2.84" height="2.90" fill="#3aae8c"/>
<rect x="386.99" y="429.33" width="6.89" height="4.30" fill="#f6f0f0" opacity="0.45"/><rect x="387.49" y="430.03" width="2.84" height="2.90" fill="#3aae8c"/><rect x="390.53" y="430.03" width="2.84" height="2.90" fill="#3aae8c"/>
<rect x="399.17" y="429.33" width="6.89" height="4.30" fill="#f6f0f0" opacity="0.45"/><rect x="399.67" y="430.03" width="2.84" height="2.90" fill="#3aae8c"/><rect x="402.71" y="430.03" width="2.84" height="2.90" fill="#3aae8c"/>
<rect x="408.30" y="429.33" width="6.89" height="4.30" fill="#f6f0f0" opacity="0.45"/><rect x="408.80" y="430.03" width="2.84" height="2.90" fill="#3aae8c"/><rect x="411.85" y="430.03" width="2.84" height="2.90" fill="#3aae8c"/>
<rect x="417.44" y="429.33" width="3.84" height="4.30" fill="#f6f0f0" opacity="0.45"/><rect x="417.94" y="430.03" width="2.84" height="2.90" fill="#3aae8c"/>
<rect x="423.53" y="429.33" width="9.93" height="4.30" fill="#f6f0f0" opacity="0.45"/><rect x="424.03" y="430.03" width="2.84" height="2.90" fill="#3aae8c"/><rect x="427.07" y="430.03" width="2.84" height="2.90" fill="#3aae8c"/><rect x="430.11" y="430.03" width="2.84" height="2.90" fill="#3aae8c"/>
<rect x="441.79" y="429.33" width="3.84" height="4.30" fill="#f6f0f0" opacity="0.45"/><rect x="442.29" y="430.03" width="2.84" height="2.90" fill="#3aae8c"/>
<rect x="447.88" y="429.33" width="9.93" height="4.30" fill="#f6f0f0" opacity="0.45"/><rect x="448.38" y="430.03" width="2.84" height="2.90" fill="#3aae8c"/><rect x="451.43" y="430.03" width="2.84" height="2.90" fill="#3aae8c"/><rect x="454.47" y="430.03" width="2.84" height="2.90" fill="#3aae8c"/>
<rect x="469.20" y="429.33" width="9.93" height="4.30" fill="#f6f0f0" opacity="0.45"/><rect x="469.70" y="430.03" width="2.84" height="2.90" fill="#3aae8c"/><rect x="472.74" y="430.03" width="2.84" height="2.90" fill="#3aae8c"/><rect x="475.79" y="430.03" width="2.84" height="2.90" fill="#3aae8c"/>
<rect x="484.42" y="429.33" width="9.93" height="4.30" fill="#f6f0f0" opacity="0.45"/><rect x="484.92" y="430.03" width="2.84" height="2.90" fill="#3aae8c"/><rect x="487.97" y="430.03" width="2.84" height="2.90" fill="#3aae8c"/><rect x="491.01" y="430.03" width="2.84" height="2.90" fill="#3aae8c"/>
<rect x="91.64" y="434.41" width="3.84" height="4.30" fill="#f6f0f0" opacity="0.45"/><rect x="92.14" y="435.11" width="2.84" height="2.90" fill="#f06464"/>
<rect x="119.05" y="434.41" width="9.93" height="4.30" fill="#f6f0f0" opacity="0.45"/><rect x="119.55" y="435.11" width="2.84" height="2.90" fill="#f06464"/><rect x="122.59" y="435.11" width="2.84" height="2.90" fill="#f06464"/><rect x="125.64" y="435.11" width="2.84" height="2.90" fill="#f06464"/>
<rect x="134.27" y="434.41" width="9.93" height="4.30" fill="#f6f0f0" opacity="0.45"/><rect x="134.77" y="435.11" width="2.84" height="2.90" fill="#f06464"/><rect x="137.82" y="435.11" width="2.84" height="2.90" fill="#f06464"/><rect x="140.86" y="435.11" width="2.84" height="2.90" fill="#f06464"/>
<rect x="146.45" y="434.41" width="9.93" height="4.30" fill="#f6f0f0" opacity="0.45"/><rect x="146.95" y="435.11" width="2.84" height="2.90" fill="#f06464"/><rect x="150.00" y="435.11" width="2.84" height="2.90" fill="#f06464"/><rect x="153.04" y="435.11" width="2.84" height="2.90" fill="#f06464"/>
<rect x="158.63" y="434.41" width="3.84" height="4.30" fill="#f6f0f0" opacity="0.45"/><rect x="159.13" y="435.11" width="2.84" height="2.90" fill="#f06464"/>
<rect x="164.72" y="434.41" width="3.84" height="4.30" fill="#f6f0f0" opacity="0.45"/><rect x="165.22" y="435.11" width="2.84" height="2.90" fill="#f06464"/>
<rect x="192.12" y="434.41" width="3.84" height="4.30" fill="#f6f0f0" opacity="0.45"/><rect x="192.62" y="435.11" width="2.84" height="2.90" fill="#f06464"/>
<rect x="198.21" y="434.41" width="3.84" height="4.30" fill="#f6f0f0" opacity="0.45"/><rect x="198.71" y="435.11" width="2.84" height="2.90" fill="#f06464"/>
<rect x="207.35" y="434.41" width="3.84" height="4.30" fill="#f6f0f0" opacity="0.45"/><rect x="207.85" y="435.11" width="2.84" height="2.90" fill="#f06464"/>
<rect x="219.53" y="434.41" width="3.84" height="4.30" fill="#f6f0f0" opacity="0.45"/><rect x="220.03" y="435.11" width="2.84" height="2.90" fill="#f06464"/>
<rect x="225.61" y="434.41" width="3.84" height="4.30" fill="#f6f0f0" opacity="0.45"/><rect x="226.11" y="435.11" width="2.84" height="2.90" fill="#f06464"/>
<rect x="231.70" y="434.41" width="3.84" height="4.30" fill="#f6f0f0" opacity="0.45"/><rect x="232.20" y="435.11" width="2.84" height="2.90" fill="#f06464"/>
<rect x="253.02" y="434.41" width="19.07" height="4.30" fill="#f6f0f0" opacity="0.45"/><rect x="253.52" y="435.11" width="2.84" height="2.90" fill="#f06464"/><rect x="256.56" y="435.11" width="2.84" height="2.90" fill="#f06464"/><rect x="259.61" y="435.11" width="2.84" height="2.90" fill="#f06464"/><rect x="262.65" y="435.11" width="2.84" height="2.90" fill="#f06464"/><rect x="265.70" y="435.11" width="2.84" height="2.90" fill="#f06464"/><rect x="268.74" y="435.11" width="2.84" height="2.90" fill="#f06464"/>
<rect x="310.87" y="434.41" width="6.89" height="4.30" fill="#f6f0f0" opacity="0.45"/><rect x="311.37" y="435.11" width="2.84" height="2.90" fill="#f06464"/><rect x="314.41" y="435.11" width="2.84" height="2.90" fill="#f06464"/>
<rect x="320.00" y="434.41" width="9.93" height="4.30" fill="#f6f0f0" opacity="0.45"/><rect x="320.50" y="435.11" width="2.84" height="2.90" fill="#f06464"/><rect x="323.55" y="435.11" width="2.84" height="2.90" fill="#f06464"/><rect x="326.59" y="435.11" width="2.84" height="2.90" fill="#f06464"/>
<rect x="332.18" y="434.41" width="6.89" height="4.30" fill="#f6f0f0" opacity="0.45"/><rect x="332.68" y="435.11" width="2.84" height="2.90" fill="#f06464"/><rect x="335.73" y="435.11" width="2.84" height="2.90" fill="#f06464"/>
<rect x="341.32" y="434.41" width="9.93" height="4.30" fill="#f6f0f0" opacity="0.45"/><rect x="341.82" y="435.11" width="2.84" height="2.90" fill="#f06464"/><rect x="344.86" y="435.11" width="2.84" height="2.90" fill="#f06464"/><rect x="347.91" y="435.11" width="2.84" height="2.90" fill="#f06464"/>
<rect x="356.54" y="434.41" width="9.93" height="4.30" fill="#f6f0f0" opacity="0.45"/><rect x="357.04" y="435.11" width="2.84" height="2.90" fill="#f06464"/><rect x="360.09" y="435.11" width="2.84" height="2.90" fill="#f06464"/><rect x="363.13" y="435.11" width="2.84" height="2.90" fill="#f06464"/>
<rect x="371.76" y="434.41" width="3.84" height="4.30" fill="#f6f0f0" opacity="0.45"/><rect x="372.26" y="435.11" width="2.84" height="2.90" fill="#f06464"/>
<rect x="386.99" y="434.41" width="6.89" height="4.30" fill="#f6f0f0" opacity="0.45"/><rect x="387.49" y="435.11" width="2.84" height="2.90" fill="#f06464"/><rect x="390.53" y="435.11" width="2.84" height="2.90" fill="#f06464"/>
<rect x="432.66" y="434.41" width="3.84" height="4.30" fill="#f6f0f0" opacity="0.45"/><rect x="433.16" y="435.11" width="2.84" height="2.90" fill="#f06464"/>
<rect x="450.93" y="434.41" width="6.89" height="4.30" fill="#f6f0f0" opacity="0.45"/><rect x="451.43" y="435.11" width="2.84" height="2.90" fill="#f06464"/><rect x="454.47" y="435.11" width="2.84" height="2.90" fill="#f06464"/>
<rect x="466.15" y="434.41" width="3.84" height="4.30" fill="#f6f0f0" opacity="0.45"/><rect x="466.65" y="435.11" width="2.84" height="2.90" fill="#f06464"/>
<rect x="475.29" y="434.41" width="3.84" height="4.30" fill="#f6f0f0" opacity="0.45"/><rect x="475.79" y="435.11" width="2.84" height="2.90" fill="#f06464"/>
<rect x="490.51" y="434.41" width="3.84" height="4.30" fill="#f6f0f0" opacity="0.45"/><rect x="491.01" y="435.11" width="2.84" height="2.90" fill="#f06464"/>
<rect x="274.33" y="439.50" width="3.84" height="4.30" fill="#f6f0f0" opacity="0.45"/><rect x="274.83" y="440.20" width="2.84" height="2.90" fill="#f06464"/>
<rect x="329.14" y="439.50" width="3.84" height="4.30" fill="#f6f0f0" opacity="0.45"/><rect x="329.64" y="440.20" width="2.84" height="2.90" fill="#f06464"/>
<rect x="112.96" y="444.58" width="9.93" height="4.30" fill="#f6f0f0" opacity="0.45"/><rect x="113.46" y="445.28" width="2.84" height="2.90" fill="#a51fb0"/><rect x="116.50" y="445.28" width="2.84" height="2.90" fill="#a51fb0"/><rect x="119.55" y="445.28" width="2.84" height="2.90" fill="#a51fb0"/>
<rect x="234.75" y="444.58" width="256.56" height="4.30" fill="#f6f0f0" opacity="0.45"/><rect x="235.25" y="445.28" width="2.84" height="2.90" fill="#a51fb0"/><rect x="238.29" y="445.28" width="2.84" height="2.90" fill="#a51fb0"/><rect x="241.34" y="445.28" width="2.84" height="2.90" fill="#a51fb0"/><rect x="244.38" y="445.28" width="2.84" height="2.90" fill="#a51fb0"/><rect x="247.43" y="445.28" width="2.84" height="2.90" fill="#a51fb0"/><rect x="250.47" y="445.28" width="2.84" height="2.90" fill="#a51fb0"/><rect x="253.52" y="445.28" width="2.84" height="2.90" fill="#a51fb0"/><rect x="256.56" y="445.28" width="2.84" height="2.90" fill="#a51fb0"/><rect x="259.61" y="445.28" width="2.84" height="2.90" fill="#a51fb0"/><rect x="262.65" y="445.28" width="2.84" height="2.90" fill="#a51fb0"/><rect x="265.70" y="445.28" width="2.84" height="2.90" fill="#a51fb0"/><rect x="268.74" y="445.28" width="2.84" height="2.90" fill="#a51fb0"/><rect x="271.79" y="445.28" width="2.84" height="2.90" fill="#a51fb0"/><rect x="274.83" y="445.28" width="2.84" height="2.90" fill="#a51fb0"/><rect x="277.88" y="445.28" width="2.84" height="2.90" fill="#a51fb0"/><rect x="280.92" y="445.28" width="2.84" height="2.90" fill="#a51fb0"/><rect x="283.97" y="445.28" width="2.84" height="2.90" fill="#a51fb0"/><rect x="287.01" y="445.28" width="2.84" height="2.90" fill="#a51fb0"/><rect x="290.06" y="445.28" width="2.84" height="2.90" fill="#a51fb0"/><rect x="293.10" y="445.28" width="2.84" height="2.90" fill="#a51fb0"/><rect x="296.14" y="445.28" width="2.84" height="2.90" fill="#a51fb0"/><rect x="299.19" y="445.28" width="2.84" height="2.90" fill="#a51fb0"/><rect x="302.23" y="445.28" width="2.84" height="2.90" fill="#a51fb0"/><rect x="305.28" y="445.28" width="2.84" height="2.90" fill="#a51fb0"/><rect x="308.32" y="445.28" width="2.84" height="2.90" fill="#a51fb0"/><rect x="311.37" y="445.28" width="2.84" height="2.90" fill="#a51fb0"/><rect x="314.41" y="445.28" width="2.84" height="2.90" fill="#a51fb0"/><rect x="317.46" y="445.28" width="2.84" height="2.90" fill="#a51fb0"/><rect x="320.50" y="445.28" width="2.84" height="2.90" fill="#a51fb0"/><rect x="323.55" y="445.28" width="2.84" height="2.90" fill="#a51fb0"/><rect x="326.59" y="445.28" width="2.84" height="2.90" fill="#a51fb0"/><rect x="329.64" y="445.28" width="2.84" height="2.90" fill="#a51fb0"/><rect x="332.68" y="445.28" width="2.84" height="2.90" fill="#a51fb0"/><rect x="335.73" y="445.28" width="2.84" height="2.90" fill="#a51fb0"/><rect x="338.77" y="445.28" width="2.84" height="2.90" fill="#a51fb0"/><rect x="341.82" y="445.28" width="2.84" height="2.90" fill="#a51fb0"/><rect x="344.86" y="445.28" width="2.84" height="2.90" fill="#a51fb0"/><rect x="347.91" y="445.28" width="2.84" height="2.90" fill="#a51fb0"/><rect x="350.95" y="445.28" width="2.84" height="2.90" fill="#a51fb0"/><rect x="354.00" y="445.28" width="2.84" height="2.90" fill="#a51fb0"/><rect x="357.04" y="445.28" width="2.84" height="2.90" fill="#a51fb0"/><rect x="360.09" y="445.28" width="2.84" height="2.90" fill="#a51fb0"/><rect x="363.13" y="445.28" width="2.84" height="2.90" fill="#a51fb0"/><rect x="366.17" y="445.28" width="2.84" height="2.90" fill="#a51fb0"/><rect x="369.22" y="445.28" width="2.84" height="2.90" fill="#a51fb0"/><rect x="372.26" y="445.28" width="2.84" height="2.90" fill="#a51fb0"/><rect x="375.31" y="445.28" width="2.84" height="2.90" fill="#a51fb0"/><rect x="378.35" y="445.28" width="2.84" height="2.90" fill="#a51fb0"/><rect x="381.40" y="445.28" width="2.84" height="2.90" fill="#a51fb0"/><rect x="384.44" y="445.28" width="2.84" height="2.90" fill="#a51fb0"/><rect x="387.49" y="445.28" width="2.84" height="2.90" fill="#a51fb0"/><rect x="390.53" y="445.28" width="2.84" height="2.90" fill="#a51fb0"/><rect x="393.58" y="445.28" width="2.84" height="2.90" fill="#a51fb0"/><rect x="396.62" y="445.28" width="2.84" height="2.90" fill="#a51fb0"/><rect x="399.67" y="445.28" width="2.84" height="2.90" fill="#a51fb0"/><rect x="402.71" y="445.28" width="2.84" height="2.90" fill="#a51fb0"/><rect x="405.76" y="445.28" width="2.84" height="2.90" fill="#a51fb0"/><rect x="408.80" y="445.28" width="2.84" height="2.90" fill="#a51fb0"/><rect x="411.85" y="445.28" width="2.84" height="2.90" fill="#a51fb0"/><rect x="414.89" y="445.28" width="2.84" height="2.90" fill="#a51fb0"/><rect x="417.94" y="445.28" width="2.84" height="2.90" fill="#a51fb0"/><rect x="420.98" y="445.28" width="2.84" height="2.90" fill="#a51fb0"/><rect x="424.03" y="445.28" width="2.84" height="2.90" fill="#a51fb0"/><rect x="427.07" y="445.28" width="2.84" height="2.90" fill="#a51fb0"/><rect x="430.11" y="445.28" width="2.84" height="2.90" fill="#a51fb0"/><rect x="433.16" y="445.28" width="2.84" height="2.90" fill="#a51fb0"/><rect x="436.20" y="445.28" width="2.84" height="2.90" fill="#a51fb0"/><rect x="439.25" y="445.28" width="2.84" height="2.90" fill="#a51fb0"/><rect x="442.29" y="445.28" width="2.84" height="2.90" fill="#a51fb0"/><rect x="445.34" y="445.28" width="2.84" height="2.90" fill="#a51fb0"/><rect x="448.38" y="445.28" width="2.84" height="2.90" fill="#a51fb0"/><rect x="451.43" y="445.28" width="2.84" height="2.90" fill="#a51fb0"/><rect x="454.47" y="445.28" width="2.84" height="2.90" fill="#a51fb0"/><rect x="457.52" y="445.28" width="2.84" height="2.90" fill="#a51fb0"/><rect x="460.56" y="445.28" width="2.84" height="2.90" fill="#a51fb0"/><rect x="463.61" y="445.28" width="2.84" height="2.90" fill="#a51fb0"/><rect x="466.65" y="445.28" width="2.84" height="2.90" fill="#a51fb0"/><rect x="469.70" y="445.28" width="2.84" height="2.90" fill="#a51fb0"/><rect x="472.74" y="445.28" width="2.84" height="2.90" fill="#a51fb0"/><rect x="475.79" y="445.28" width="2.84" height="2.90" fill="#a51fb0"/><rect x="478.83" y="445.28" width="2.84" height="2.90" fill="#a51fb0"/><rect x="481.88" y="445.28" width="2.84" height="2.90" fill="#a51fb0"/><rect x="484.92" y="445.28" width="2.84" height="2.90" fill="#a51fb0"/><rect x="487.97" y="445.28" width="2.84" height="2.90" fill="#a51fb0"/>
<rect x="109.91" y="449.66" width="12.98" height="4.30" fill="#f6f0f0" opacity="0.45"/><rect x="110.41" y="450.36" width="2.84" height="2.90" fill="#5520b0"/><rect x="113.46" y="450.36" width="2.84" height="2.90" fill="#5520b0"/><rect x="116.50" y="450.36" width="2.84" height="2.90" fill="#5520b0"/><rect x="119.55" y="450.36" width="2.84" height="2.90" fill="#5520b0"/>
<rect x="237.79" y="449.66" width="9.93" height="4.30" fill="#f6f0f0" opacity="0.45"/><rect x="238.29" y="450.36" width="2.84" height="2.90" fill="#5520b0"/><rect x="241.34" y="450.36" width="2.84" height="2.90" fill="#5520b0"/><rect x="244.38" y="450.36" width="2.84" height="2.90" fill="#5520b0"/>
<rect x="246.93" y="449.66" width="3.84" height="4.30" fill="#f6f0f0" opacity="0.45"/><rect x="247.43" y="450.36" width="2.84" height="2.90" fill="#0a0a55"/>
<rect x="253.02" y="449.66" width="223.07" height="4.30" fill="#f6f0f0" opacity="0.45"/><rect x="253.52" y="450.36" width="2.84" height="2.90" fill="#5520b0"/><rect x="256.56" y="450.36" width="2.84" height="2.90" fill="#5520b0"/><rect x="259.61" y="450.36" width="2.84" height="2.90" fill="#5520b0"/><rect x="262.65" y="450.36" width="2.84" height="2.90" fill="#5520b0"/><rect x="265.70" y="450.36" width="2.84" height="2.90" fill="#5520b0"/><rect x="268.74" y="450.36" width="2.84" height="2.90" fill="#5520b0"/><rect x="271.79" y="450.36" width="2.84" height="2.90" fill="#5520b0"/><rect x="274.83" y="450.36" width="2.84" height="2.90" fill="#5520b0"/><rect x="277.88" y="450.36" width="2.84" height="2.90" fill="#5520b0"/><rect x="280.92" y="450.36" width="2.84" height="2.90" fill="#5520b0"/><rect x="283.97" y="450.36" width="2.84" height="2.90" fill="#5520b0"/><rect x="287.01" y="450.36" width="2.84" height="2.90" fill="#5520b0"/><rect x="290.06" y="450.36" width="2.84" height="2.90" fill="#5520b0"/><rect x="293.10" y="450.36" width="2.84" height="2.90" fill="#5520b0"/><rect x="296.14" y="450.36" width="2.84" height="2.90" fill="#5520b0"/><rect x="299.19" y="450.36" width="2.84" height="2.90" fill="#5520b0"/><rect x="302.23" y="450.36" width="2.84" height="2.90" fill="#5520b0"/><rect x="305.28" y="450.36" width="2.84" height="2.90" fill="#5520b0"/><rect x="308.32" y="450.36" width="2.84" height="2.90" fill="#5520b0"/><rect x="311.37" y="450.36" width="2.84" height="2.90" fill="#5520b0"/><rect x="314.41" y="450.36" width="2.84" height="2.90" fill="#5520b0"/><rect x="317.46" y="450.36" width="2.84" height="2.90" fill="#5520b0"/><rect x="320.50" y="450.36" width="2.84" height="2.90" fill="#5520b0"/><rect x="323.55" y="450.36" width="2.84" height="2.90" fill="#5520b0"/><rect x="326.59" y="450.36" width="2.84" height="2.90" fill="#5520b0"/><rect x="329.64" y="450.36" width="2.84" height="2.90" fill="#5520b0"/><rect x="332.68" y="450.36" width="2.84" height="2.90" fill="#5520b0"/><rect x="335.73" y="450.36" width="2.84" height="2.90" fill="#5520b0"/><rect x="338.77" y="450.36" width="2.84" height="2.90" fill="#5520b0"/><rect x="341.82" y="450.36" width="2.84" height="2.90" fill="#5520b0"/><rect x="344.86" y="450.36" width="2.84" height="2.90" fill="#5520b0"/><rect x="347.91" y="450.36" width="2.84" height="2.90" fill="#5520b0"/><rect x="350.95" y="450.36" width="2.84" height="2.90" fill="#5520b0"/><rect x="354.00" y="450.36" width="2.84" height="2.90" fill="#5520b0"/><rect x="357.04" y="450.36" width="2.84" height="2.90" fill="#5520b0"/><rect x="360.09" y="450.36" width="2.84" height="2.90" fill="#5520b0"/><rect x="363.13" y="450.36" width="2.84" height="2.90" fill="#5520b0"/><rect x="366.17" y="450.36" width="2.84" height="2.90" fill="#5520b0"/><rect x="369.22" y="450.36" width="2.84" height="2.90" fill="#5520b0"/><rect x="372.26" y="450.36" width="2.84" height="2.90" fill="#5520b0"/><rect x="375.31" y="450.36" width="2.84" height="2.90" fill="#5520b0"/><rect x="378.35" y="450.36" width="2.84" height="2.90" fill="#5520b0"/><rect x="381.40" y="450.36" width="2.84" height="2.90" fill="#5520b0"/><rect x="384.44" y="450.36" width="2.84" height="2.90" fill="#5520b0"/><rect x="387.49" y="450.36" width="2.84" height="2.90" fill="#5520b0"/><rect x="390.53" y="450.36" width="2.84" height="2.90" fill="#5520b0"/><rect x="393.58" y="450.36" width="2.84" height="2.90" fill="#5520b0"/><rect x="396.62" y="450.36" width="2.84" height="2.90" fill="#5520b0"/><rect x="399.67" y="450.36" width="2.84" height="2.90" fill="#5520b0"/><rect x="402.71" y="450.36" width="2.84" height="2.90" fill="#5520b0"/><rect x="405.76" y="450.36" width="2.84" height="2.90" fill="#5520b0"/><rect x="408.80" y="450.36" width="2.84" height="2.90" fill="#5520b0"/><rect x="411.85" y="450.36" width="2.84" height="2.90" fill="#5520b0"/><rect x="414.89" y="450.36" width="2.84" height="2.90" fill="#5520b0"/><rect x="417.94" y="450.36" width="2.84" height="2.90" fill="#5520b0"/><rect x="420.98" y="450.36" width="2.84" height="2.90" fill="#5520b0"/><rect x="424.03" y="450.36" width="2.84" height="2.90" fill="#5520b0"/><rect x="427.07" y="450.36" width="2.84" height="2.90" fill="#5520b0"/><rect x="430.11" y="450.36" width="2.84" height="2.90" fill="#5520b0"/><rect x="433.16" y="450.36" width="2.84" height="2.90" fill="#5520b0"/><rect x="436.20" y="450.36" width="2.84" height="2.90" fill="#5520b0"/><rect x="439.25" y="450.36" width="2.84" height="2.90" fill="#5520b0"/><rect x="442.29" y="450.36" width="2.84" height="2.90" fill="#5520b0"/><rect x="445.34" y="450.36" width="2.84" height="2.90" fill="#5520b0"/><rect x="448.38" y="450.36" width="2.84" height="2.90" fill="#5520b0"/><rect x="451.43" y="450.36" width="2.84" height="2.90" fill="#5520b0"/><rect x="454.47" y="450.36" width="2.84" height="2.90" fill="#5520b0"/><rect x="457.52" y="450.36" width="2.84" height="2.90" fill="#5520b0"/><rect x="460.56" y="450.36" width="2.84" height="2.90" fill="#5520b0"/><rect x="463.61" y="450.36" width="2.84" height="2.90" fill="#5520b0"/><rect x="466.65" y="450.36" width="2.84" height="2.90" fill="#5520b0"/><rect x="469.70" y="450.36" width="2.84" height="2.90" fill="#5520b0"/><rect x="472.74" y="450.36" width="2.84" height="2.90" fill="#5520b0"/>
<rect x="490.51" y="449.66" width="3.84" height="4.30" fill="#f6f0f0" opacity="0.45"/><rect x="491.01" y="450.36" width="2.84" height="2.90" fill="#0a0a55"/>
<rect x="234.75" y="454.75" width="12.98" height="4.30" fill="#f6f0f0" opacity="0.45"/><rect x="235.25" y="455.45" width="2.84" height="2.90" fill="#2f62c8"/><rect x="238.29" y="455.45" width="2.84" height="2.90" fill="#2f62c8"/><rect x="241.34" y="455.45" width="2.84" height="2.90" fill="#2f62c8"/><rect x="244.38" y="455.45" width="2.84" height="2.90" fill="#2f62c8"/>
<rect x="253.02" y="454.75" width="58.65" height="4.30" fill="#f6f0f0" opacity="0.45"/><rect x="253.52" y="455.45" width="2.84" height="2.90" fill="#2f62c8"/><rect x="256.56" y="455.45" width="2.84" height="2.90" fill="#2f62c8"/><rect x="259.61" y="455.45" width="2.84" height="2.90" fill="#2f62c8"/><rect x="262.65" y="455.45" width="2.84" height="2.90" fill="#2f62c8"/><rect x="265.70" y="455.45" width="2.84" height="2.90" fill="#2f62c8"/><rect x="268.74" y="455.45" width="2.84" height="2.90" fill="#2f62c8"/><rect x="271.79" y="455.45" width="2.84" height="2.90" fill="#2f62c8"/><rect x="274.83" y="455.45" width="2.84" height="2.90" fill="#2f62c8"/><rect x="277.88" y="455.45" width="2.84" height="2.90" fill="#2f62c8"/><rect x="280.92" y="455.45" width="2.84" height="2.90" fill="#2f62c8"/><rect x="283.97" y="455.45" width="2.84" height="2.90" fill="#2f62c8"/><rect x="287.01" y="455.45" width="2.84" height="2.90" fill="#2f62c8"/><rect x="290.06" y="455.45" width="2.84" height="2.90" fill="#2f62c8"/><rect x="293.10" y="455.45" width="2.84" height="2.90" fill="#2f62c8"/><rect x="296.14" y="455.45" width="2.84" height="2.90" fill="#2f62c8"/><rect x="299.19" y="455.45" width="2.84" height="2.90" fill="#2f62c8"/><rect x="302.23" y="455.45" width="2.84" height="2.90" fill="#2f62c8"/><rect x="305.28" y="455.45" width="2.84" height="2.90" fill="#2f62c8"/><rect x="308.32" y="455.45" width="2.84" height="2.90" fill="#2f62c8"/>
<rect x="320.00" y="454.75" width="9.93" height="4.30" fill="#f6f0f0" opacity="0.45"/><rect x="320.50" y="455.45" width="2.84" height="2.90" fill="#2f62c8"/><rect x="323.55" y="455.45" width="2.84" height="2.90" fill="#2f62c8"/><rect x="326.59" y="455.45" width="2.84" height="2.90" fill="#2f62c8"/>
<rect x="332.18" y="454.75" width="16.02" height="4.30" fill="#f6f0f0" opacity="0.45"/><rect x="332.68" y="455.45" width="2.84" height="2.90" fill="#2f62c8"/><rect x="335.73" y="455.45" width="2.84" height="2.90" fill="#2f62c8"/><rect x="338.77" y="455.45" width="2.84" height="2.90" fill="#2f62c8"/><rect x="341.82" y="455.45" width="2.84" height="2.90" fill="#2f62c8"/><rect x="344.86" y="455.45" width="2.84" height="2.90" fill="#2f62c8"/>
<rect x="350.45" y="454.75" width="3.84" height="4.30" fill="#f6f0f0" opacity="0.45"/><rect x="350.95" y="455.45" width="2.84" height="2.90" fill="#2f62c8"/>
<rect x="356.54" y="454.75" width="3.84" height="4.30" fill="#f6f0f0" opacity="0.45"/><rect x="357.04" y="455.45" width="2.84" height="2.90" fill="#2f62c8"/>
<rect x="365.67" y="454.75" width="9.93" height="4.30" fill="#f6f0f0" opacity="0.45"/><rect x="366.17" y="455.45" width="2.84" height="2.90" fill="#2f62c8"/><rect x="369.22" y="455.45" width="2.84" height="2.90" fill="#2f62c8"/><rect x="372.26" y="455.45" width="2.84" height="2.90" fill="#2f62c8"/>
<rect x="377.85" y="454.75" width="9.93" height="4.30" fill="#f6f0f0" opacity="0.45"/><rect x="378.35" y="455.45" width="2.84" height="2.90" fill="#2f62c8"/><rect x="381.40" y="455.45" width="2.84" height="2.90" fill="#2f62c8"/><rect x="384.44" y="455.45" width="2.84" height="2.90" fill="#2f62c8"/>
<rect x="393.08" y="454.75" width="12.98" height="4.30" fill="#f6f0f0" opacity="0.45"/><rect x="393.58" y="455.45" width="2.84" height="2.90" fill="#2f62c8"/><rect x="396.62" y="455.45" width="2.84" height="2.90" fill="#2f62c8"/><rect x="399.67" y="455.45" width="2.84" height="2.90" fill="#2f62c8"/><rect x="402.71" y="455.45" width="2.84" height="2.90" fill="#2f62c8"/>
<rect x="417.44" y="454.75" width="3.84" height="4.30" fill="#f6f0f0" opacity="0.45"/><rect x="417.94" y="455.45" width="2.84" height="2.90" fill="#2f62c8"/>
<rect x="426.57" y="454.75" width="3.84" height="4.30" fill="#f6f0f0" opacity="0.45"/><rect x="427.07" y="455.45" width="2.84" height="2.90" fill="#2f62c8"/>
<rect x="432.66" y="454.75" width="34.29" height="4.30" fill="#f6f0f0" opacity="0.45"/><rect x="433.16" y="455.45" width="2.84" height="2.90" fill="#2f62c8"/><rect x="436.20" y="455.45" width="2.84" height="2.90" fill="#2f62c8"/><rect x="439.25" y="455.45" width="2.84" height="2.90" fill="#2f62c8"/><rect x="442.29" y="455.45" width="2.84" height="2.90" fill="#2f62c8"/><rect x="445.34" y="455.45" width="2.84" height="2.90" fill="#2f62c8"/><rect x="448.38" y="455.45" width="2.84" height="2.90" fill="#2f62c8"/><rect x="451.43" y="455.45" width="2.84" height="2.90" fill="#2f62c8"/><rect x="454.47" y="455.45" width="2.84" height="2.90" fill="#2f62c8"/><rect x="457.52" y="455.45" width="2.84" height="2.90" fill="#2f62c8"/><rect x="460.56" y="455.45" width="2.84" height="2.90" fill="#2f62c8"/><rect x="463.61" y="455.45" width="2.84" height="2.90" fill="#2f62c8"/>
<rect x="472.24" y="454.75" width="3.84" height="4.30" fill="#f6f0f0" opacity="0.45"/><rect x="472.74" y="455.45" width="2.84" height="2.90" fill="#2f62c8"/>
<rect x="484.42" y="454.75" width="3.84" height="4.30" fill="#f6f0f0" opacity="0.45"/><rect x="484.92" y="455.45" width="2.84" height="2.90" fill="#2f62c8"/>
<rect x="240.84" y="459.83" width="3.84" height="4.30" fill="#f6f0f0" opacity="0.45"/><rect x="241.34" y="460.53" width="2.84" height="2.90" fill="#2f9a9a"/>
<rect x="259.11" y="459.83" width="9.93" height="4.30" fill="#f6f0f0" opacity="0.45"/><rect x="259.61" y="460.53" width="2.84" height="2.90" fill="#2f9a9a"/><rect x="262.65" y="460.53" width="2.84" height="2.90" fill="#2f9a9a"/><rect x="265.70" y="460.53" width="2.84" height="2.90" fill="#2f9a9a"/>
<rect x="292.60" y="459.83" width="3.84" height="4.30" fill="#f6f0f0" opacity="0.45"/><rect x="293.10" y="460.53" width="2.84" height="2.90" fill="#2f9a9a"/>
<rect x="298.69" y="459.83" width="3.84" height="4.30" fill="#f6f0f0" opacity="0.45"/><rect x="299.19" y="460.53" width="2.84" height="2.90" fill="#2f9a9a"/>
<rect x="326.09" y="459.83" width="3.84" height="4.30" fill="#f6f0f0" opacity="0.45"/><rect x="326.59" y="460.53" width="2.84" height="2.90" fill="#2f9a9a"/>
<rect x="338.27" y="459.83" width="3.84" height="4.30" fill="#f6f0f0" opacity="0.45"/><rect x="338.77" y="460.53" width="2.84" height="2.90" fill="#2f9a9a"/>
<rect x="365.67" y="459.83" width="3.84" height="4.30" fill="#f6f0f0" opacity="0.45"/><rect x="366.17" y="460.53" width="2.84" height="2.90" fill="#2f9a9a"/>
<rect x="371.76" y="459.83" width="3.84" height="4.30" fill="#f6f0f0" opacity="0.45"/><rect x="372.26" y="460.53" width="2.84" height="2.90" fill="#2f9a9a"/>
<rect x="380.90" y="459.83" width="6.89" height="4.30" fill="#f6f0f0" opacity="0.45"/><rect x="381.40" y="460.53" width="2.84" height="2.90" fill="#2f9a9a"/><rect x="384.44" y="460.53" width="2.84" height="2.90" fill="#2f9a9a"/>
<rect x="393.08" y="459.83" width="3.84" height="4.30" fill="#f6f0f0" opacity="0.45"/><rect x="393.58" y="460.53" width="2.84" height="2.90" fill="#2f9a9a"/>
<rect x="402.21" y="459.83" width="3.84" height="4.30" fill="#f6f0f0" opacity="0.45"/><rect x="402.71" y="460.53" width="2.84" height="2.90" fill="#2f9a9a"/>
<rect x="435.70" y="459.83" width="3.84" height="4.30" fill="#f6f0f0" opacity="0.45"/><rect x="436.20" y="460.53" width="2.84" height="2.90" fill="#2f9a9a"/>
<rect x="453.97" y="459.83" width="3.84" height="4.30" fill="#f6f0f0" opacity="0.45"/><rect x="454.47" y="460.53" width="2.84" height="2.90" fill="#2f9a9a"/>
<rect x="484.42" y="459.83" width="3.84" height="4.30" fill="#f6f0f0" opacity="0.45"/><rect x="484.92" y="460.53" width="2.84" height="2.90" fill="#2f9a9a"/>
<rect x="234.75" y="464.91" width="6.89" height="4.30" fill="#f6f0f0" opacity="0.45"/><rect x="235.25" y="465.61" width="2.84" height="2.90" fill="#e0a020"/><rect x="238.29" y="465.61" width="2.84" height="2.90" fill="#e0a020"/>
<rect x="243.88" y="464.91" width="189.58" height="4.30" fill="#f6f0f0" opacity="0.45"/><rect x="244.38" y="465.61" width="2.84" height="2.90" fill="#e0a020"/><rect x="247.43" y="465.61" width="2.84" height="2.90" fill="#e0a020"/><rect x="250.47" y="465.61" width="2.84" height="2.90" fill="#e0a020"/><rect x="253.52" y="465.61" width="2.84" height="2.90" fill="#e0a020"/><rect x="256.56" y="465.61" width="2.84" height="2.90" fill="#e0a020"/><rect x="259.61" y="465.61" width="2.84" height="2.90" fill="#e0a020"/><rect x="262.65" y="465.61" width="2.84" height="2.90" fill="#e0a020"/><rect x="265.70" y="465.61" width="2.84" height="2.90" fill="#e0a020"/><rect x="268.74" y="465.61" width="2.84" height="2.90" fill="#e0a020"/><rect x="271.79" y="465.61" width="2.84" height="2.90" fill="#e0a020"/><rect x="274.83" y="465.61" width="2.84" height="2.90" fill="#e0a020"/><rect x="277.88" y="465.61" width="2.84" height="2.90" fill="#e0a020"/><rect x="280.92" y="465.61" width="2.84" height="2.90" fill="#e0a020"/><rect x="283.97" y="465.61" width="2.84" height="2.90" fill="#e0a020"/><rect x="287.01" y="465.61" width="2.84" height="2.90" fill="#e0a020"/><rect x="290.06" y="465.61" width="2.84" height="2.90" fill="#e0a020"/><rect x="293.10" y="465.61" width="2.84" height="2.90" fill="#e0a020"/><rect x="296.14" y="465.61" width="2.84" height="2.90" fill="#e0a020"/><rect x="299.19" y="465.61" width="2.84" height="2.90" fill="#e0a020"/><rect x="302.23" y="465.61" width="2.84" height="2.90" fill="#e0a020"/><rect x="305.28" y="465.61" width="2.84" height="2.90" fill="#e0a020"/><rect x="308.32" y="465.61" width="2.84" height="2.90" fill="#e0a020"/><rect x="311.37" y="465.61" width="2.84" height="2.90" fill="#e0a020"/><rect x="314.41" y="465.61" width="2.84" height="2.90" fill="#e0a020"/><rect x="317.46" y="465.61" width="2.84" height="2.90" fill="#e0a020"/><rect x="320.50" y="465.61" width="2.84" height="2.90" fill="#e0a020"/><rect x="323.55" y="465.61" width="2.84" height="2.90" fill="#e0a020"/><rect x="326.59" y="465.61" width="2.84" height="2.90" fill="#e0a020"/><rect x="329.64" y="465.61" width="2.84" height="2.90" fill="#e0a020"/><rect x="332.68" y="465.61" width="2.84" height="2.90" fill="#e0a020"/><rect x="335.73" y="465.61" width="2.84" height="2.90" fill="#e0a020"/><rect x="338.77" y="465.61" width="2.84" height="2.90" fill="#e0a020"/><rect x="341.82" y="465.61" width="2.84" height="2.90" fill="#e0a020"/><rect x="344.86" y="465.61" width="2.84" height="2.90" fill="#e0a020"/><rect x="347.91" y="465.61" width="2.84" height="2.90" fill="#e0a020"/><rect x="350.95" y="465.61" width="2.84" height="2.90" fill="#e0a020"/><rect x="354.00" y="465.61" width="2.84" height="2.90" fill="#e0a020"/><rect x="357.04" y="465.61" width="2.84" height="2.90" fill="#e0a020"/><rect x="360.09" y="465.61" width="2.84" height="2.90" fill="#e0a020"/><rect x="363.13" y="465.61" width="2.84" height="2.90" fill="#e0a020"/><rect x="366.17" y="465.61" width="2.84" height="2.90" fill="#e0a020"/><rect x="369.22" y="465.61" width="2.84" height="2.90" fill="#e0a020"/><rect x="372.26" y="465.61" width="2.84" height="2.90" fill="#e0a020"/><rect x="375.31" y="465.61" width="2.84" height="2.90" fill="#e0a020"/><rect x="378.35" y="465.61" width="2.84" height="2.90" fill="#e0a020"/><rect x="381.40" y="465.61" width="2.84" height="2.90" fill="#e0a020"/><rect x="384.44" y="465.61" width="2.84" height="2.90" fill="#e0a020"/><rect x="387.49" y="465.61" width="2.84" height="2.90" fill="#e0a020"/><rect x="390.53" y="465.61" width="2.84" height="2.90" fill="#e0a020"/><rect x="393.58" y="465.61" width="2.84" height="2.90" fill="#e0a020"/><rect x="396.62" y="465.61" width="2.84" height="2.90" fill="#e0a020"/><rect x="399.67" y="465.61" width="2.84" height="2.90" fill="#e0a020"/><rect x="402.71" y="465.61" width="2.84" height="2.90" fill="#e0a020"/><rect x="405.76" y="465.61" width="2.84" height="2.90" fill="#e0a020"/><rect x="408.80" y="465.61" width="2.84" height="2.90" fill="#e0a020"/><rect x="411.85" y="465.61" width="2.84" height="2.90" fill="#e0a020"/><rect x="414.89" y="465.61" width="2.84" height="2.90" fill="#e0a020"/><rect x="417.94" y="465.61" width="2.84" height="2.90" fill="#e0a020"/><rect x="420.98" y="465.61" width="2.84" height="2.90" fill="#e0a020"/><rect x="424.03" y="465.61" width="2.84" height="2.90" fill="#e0a020"/><rect x="427.07" y="465.61" width="2.84" height="2.90" fill="#e0a020"/><rect x="430.11" y="465.61" width="2.84" height="2.90" fill="#e0a020"/>
<rect x="475.29" y="464.91" width="16.02" height="4.30" fill="#f6f0f0" opacity="0.45"/><rect x="475.79" y="465.61" width="2.84" height="2.90" fill="#e0a020"/><rect x="478.83" y="465.61" width="2.84" height="2.90" fill="#e0a020"/><rect x="481.88" y="465.61" width="2.84" height="2.90" fill="#e0a020"/><rect x="484.92" y="465.61" width="2.84" height="2.90" fill="#e0a020"/><rect x="487.97" y="465.61" width="2.84" height="2.90" fill="#e0a020"/>
<rect x="88.50" y="469.50" width="409.00" height="26.41" fill="#ffffff"/>
<rect x="89.00" y="470.44" width="3.04" height="3.40" fill="#d6f09a"/>
<rect x="92.04" y="470.44" width="6.09" height="3.40" fill="#aee27c"/>
<rect x="98.13" y="470.44" width="12.18" height="3.40" fill="#d6f09a"/>
<rect x="110.31" y="470.44" width="3.04" height="3.40" fill="#aee27c"/>
<rect x="113.36" y="470.44" width="6.09" height="3.40" fill="#d6f09a"/>
<rect x="119.45" y="470.44" width="3.04" height="3.40" fill="#aee27c"/>
<rect x="122.49" y="470.44" width="3.04" height="3.40" fill="#d6f09a"/>
<rect x="125.54" y="470.44" width="6.09" height="3.40" fill="#aee27c"/>
<rect x="131.63" y="470.44" width="3.04" height="3.40" fill="#d6f09a"/>
<rect x="134.67" y="470.44" width="6.09" height="3.40" fill="#aee27c"/>
<rect x="140.76" y="470.44" width="3.04" height="3.40" fill="#d6f09a"/>
<rect x="143.81" y="470.44" width="9.13" height="3.40" fill="#aee27c"/>
<rect x="152.94" y="470.44" width="3.04" height="3.40" fill="#d6f09a"/>
<rect x="155.99" y="470.44" width="15.22" height="3.40" fill="#aee27c"/>
<rect x="171.21" y="470.44" width="3.04" height="3.40" fill="#d6f09a"/>
<rect x="174.25" y="470.44" width="6.09" height="3.40" fill="#aee27c"/>
<rect x="180.34" y="470.44" width="3.04" height="3.40" fill="#d6f09a"/>
<rect x="183.39" y="470.44" width="6.09" height="3.40" fill="#aee27c"/>
<rect x="189.48" y="470.44" width="6.09" height="3.40" fill="#d6f09a"/>
<rect x="195.57" y="470.44" width="6.09" height="3.40" fill="#aee27c"/>
<rect x="201.66" y="470.44" width="3.04" height="3.40" fill="#d6f09a"/>
<rect x="204.70" y="470.44" width="3.04" height="3.40" fill="#aee27c"/>
<rect x="207.75" y="470.44" width="6.09" height="3.40" fill="#d6f09a"/>
<rect x="213.84" y="470.44" width="3.04" height="3.40" fill="#aee27c"/>
<rect x="216.88" y="470.44" width="6.09" height="3.40" fill="#d6f09a"/>
<rect x="222.97" y="470.44" width="3.04" height="3.40" fill="#f0c860"/>
<rect x="226.01" y="470.44" width="3.04" height="3.40" fill="#eef08c"/>
<rect x="229.06" y="470.44" width="3.04" height="3.40" fill="#f0c860"/>
<rect x="232.10" y="470.44" width="3.04" height="3.40" fill="#eef08c"/>
<rect x="235.15" y="470.44" width="3.04" height="3.40" fill="#f0c860"/>
<rect x="238.19" y="470.44" width="3.04" height="3.40" fill="#eef08c"/>
<rect x="241.24" y="470.44" width="3.04" height="3.40" fill="#f0c860"/>
<rect x="244.28" y="470.44" width="15.22" height="3.40" fill="#eef08c"/>
<rect x="259.51" y="470.44" width="15.22" height="3.40" fill="#aee27c"/>
<rect x="274.73" y="470.44" width="3.04" height="3.40" fill="#eef08c"/>
<rect x="277.78" y="470.44" width="3.04" height="3.40" fill="#f0c860"/>
<rect x="280.82" y="470.44" width="3.04" height="3.40" fill="#eef08c"/>
<rect x="283.87" y="470.44" width="3.04" height="3.40" fill="#f0c860"/>
<rect x="286.91" y="470.44" width="21.31" height="3.40" fill="#eef08c"/>
<rect x="308.22" y="470.44" width="12.18" height="3.40" fill="#aee27c"/>
<rect x="320.40" y="470.44" width="18.27" height="3.40" fill="#eef08c"/>
<rect x="338.67" y="470.44" width="3.04" height="3.40" fill="#aee27c"/>
<rect x="341.72" y="470.44" width="18.27" height="3.40" fill="#eef08c"/>
<rect x="359.99" y="470.44" width="6.09" height="3.40" fill="#aee27c"/>
<rect x="366.07" y="470.44" width="12.18" height="3.40" fill="#eef08c"/>
<rect x="378.25" y="470.44" width="6.09" height="3.40" fill="#aee27c"/>
<rect x="384.34" y="470.44" width="3.04" height="3.40" fill="#eef08c"/>
<rect x="387.39" y="470.44" width="3.04" height="3.40" fill="#aee27c"/>
<rect x="390.43" y="470.44" width="27.40" height="3.40" fill="#eef08c"/>
<rect x="417.84" y="470.44" width="3.04" height="3.40" fill="#f0c860"/>
<rect x="420.88" y="470.44" width="6.09" height="3.40" fill="#aee27c"/>
<rect x="426.97" y="470.44" width="3.04" height="3.40" fill="#eef08c"/>
<rect x="430.01" y="470.44" width="3.04" height="3.40" fill="#aee27c"/>
<rect x="433.06" y="470.44" width="3.04" height="3.40" fill="#eef08c"/>
<rect x="436.10" y="470.44" width="3.04" height="3.40" fill="#aee27c"/>
<rect x="439.15" y="470.44" width="3.04" height="3.40" fill="#eef08c"/>
<rect x="442.19" y="470.44" width="6.09" height="3.40" fill="#aee27c"/>
<rect x="448.28" y="470.44" width="12.18" height="3.40" fill="#eef08c"/>
<rect x="460.46" y="470.44" width="3.04" height="3.40" fill="#aee27c"/>
<rect x="463.51" y="470.44" width="3.04" height="3.40" fill="#eef08c"/>
<rect x="466.55" y="470.44" width="6.09" height="3.40" fill="#aee27c"/>
<rect x="472.64" y="470.44" width="3.04" height="3.40" fill="#eef08c"/>
<rect x="475.69" y="470.44" width="6.09" height="3.40" fill="#f0c860"/>
<rect x="481.78" y="470.44" width="3.04" height="3.40" fill="#eef08c"/>
<rect x="484.82" y="470.44" width="6.09" height="3.40" fill="#aee27c"/>
<rect x="490.91" y="470.44" width="6.09" height="3.40" fill="#eef08c"/>
<rect x="89.00" y="475.53" width="3.04" height="3.40" fill="#e87ae0"/>
<rect x="92.04" y="475.53" width="3.04" height="3.40" fill="#3a80c4"/>
<rect x="95.09" y="475.53" width="3.04" height="3.40" fill="#e87ae0"/>
<rect x="98.13" y="475.53" width="6.09" height="3.40" fill="#3a80c4"/>
<rect x="104.22" y="475.53" width="6.09" height="3.40" fill="#e87ae0"/>
<rect x="110.31" y="475.53" width="3.04" height="3.40" fill="#3a80c4"/>
<rect x="113.36" y="475.53" width="3.04" height="3.40" fill="#e87ae0"/>
<rect x="116.40" y="475.53" width="3.04" height="3.40" fill="#3a80c4"/>
<rect x="119.45" y="475.53" width="9.13" height="3.40" fill="#e87ae0"/>
<rect x="128.58" y="475.53" width="3.04" height="3.40" fill="#3a80c4"/>
<rect x="131.63" y="475.53" width="3.04" height="3.40" fill="#e87ae0"/>
<rect x="134.67" y="475.53" width="9.13" height="3.40" fill="#3a80c4"/>
<rect x="143.81" y="475.53" width="6.09" height="3.40" fill="#e87ae0"/>
<rect x="149.90" y="475.53" width="3.04" height="3.40" fill="#3a80c4"/>
<rect x="152.94" y="475.53" width="3.04" height="3.40" fill="#e87ae0"/>
<rect x="155.99" y="475.53" width="3.04" height="3.40" fill="#3a80c4"/>
<rect x="159.03" y="475.53" width="6.09" height="3.40" fill="#e87ae0"/>
<rect x="165.12" y="475.53" width="18.27" height="3.40" fill="#3a80c4"/>
<rect x="183.39" y="475.53" width="3.04" height="3.40" fill="#e87ae0"/>
<rect x="186.43" y="475.53" width="9.13" height="3.40" fill="#3a80c4"/>
<rect x="195.57" y="475.53" width="3.04" height="3.40" fill="#e87ae0"/>
<rect x="198.61" y="475.53" width="3.04" height="3.40" fill="#3a80c4"/>
<rect x="201.66" y="475.53" width="6.09" height="3.40" fill="#e87ae0"/>
<rect x="207.75" y="475.53" width="12.18" height="3.40" fill="#3a80c4"/>
<rect x="219.93" y="475.53" width="6.09" height="3.40" fill="#e87ae0"/>
<rect x="226.01" y="475.53" width="12.18" height="3.40" fill="#3a80c4"/>
<rect x="238.19" y="475.53" width="3.04" height="3.40" fill="#e87ae0"/>
<rect x="241.24" y="475.53" width="9.13" height="3.40" fill="#3a80c4"/>
<rect x="250.37" y="475.53" width="12.18" height="3.40" fill="#e87ae0"/>
<rect x="262.55" y="475.53" width="6.09" height="3.40" fill="#3a80c4"/>
<rect x="268.64" y="475.53" width="3.04" height="3.40" fill="#e87ae0"/>
<rect x="271.69" y="475.53" width="3.04" height="3.40" fill="#3a80c4"/>
<rect x="274.73" y="475.53" width="6.09" height="3.40" fill="#e87ae0"/>
<rect x="280.82" y="475.53" width="30.45" height="3.40" fill="#3a80c4"/>
<rect x="311.27" y="475.53" width="6.09" height="3.40" fill="#e87ae0"/>
<rect x="317.36" y="475.53" width="6.09" height="3.40" fill="#3a80c4"/>
<rect x="323.45" y="475.53" width="6.09" height="3.40" fill="#e87ae0"/>
<rect x="329.54" y="475.53" width="18.27" height="3.40" fill="#3a80c4"/>
<rect x="347.81" y="475.53" width="9.13" height="3.40" fill="#e87ae0"/>
<rect x="356.94" y="475.53" width="18.27" height="3.40" fill="#3a80c4"/>
<rect x="375.21" y="475.53" width="3.04" height="3.40" fill="#e87ae0"/>
<rect x="378.25" y="475.53" width="6.09" height="3.40" fill="#3a80c4"/>
<rect x="384.34" y="475.53" width="3.04" height="3.40" fill="#e87ae0"/>
<rect x="387.39" y="475.53" width="15.22" height="3.40" fill="#3a80c4"/>
<rect x="402.61" y="475.53" width="6.09" height="3.40" fill="#e87ae0"/>
<rect x="408.70" y="475.53" width="9.13" height="3.40" fill="#3a80c4"/>
<rect x="417.84" y="475.53" width="6.09" height="3.40" fill="#e87ae0"/>
<rect x="423.93" y="475.53" width="6.09" height="3.40" fill="#3a80c4"/>
<rect x="430.01" y="475.53" width="6.09" height="3.40" fill="#e87ae0"/>
<rect x="436.10" y="475.53" width="9.13" height="3.40" fill="#3a80c4"/>
<rect x="445.24" y="475.53" width="3.04" height="3.40" fill="#e87ae0"/>
<rect x="448.28" y="475.53" width="12.18" height="3.40" fill="#3a80c4"/>
<rect x="460.46" y="475.53" width="3.04" height="3.40" fill="#e87ae0"/>
<rect x="463.51" y="475.53" width="6.09" height="3.40" fill="#3a80c4"/>
<rect x="469.60" y="475.53" width="3.04" height="3.40" fill="#e87ae0"/>
<rect x="472.64" y="475.53" width="3.04" height="3.40" fill="#3a80c4"/>
<rect x="475.69" y="475.53" width="9.13" height="3.40" fill="#e87ae0"/>
<rect x="484.82" y="475.53" width="6.09" height="3.40" fill="#3a80c4"/>
<rect x="490.91" y="475.53" width="3.04" height="3.40" fill="#e87ae0"/>
<rect x="493.96" y="475.53" width="3.04" height="3.40" fill="#3a80c4"/>
<rect x="89.00" y="480.61" width="21.31" height="3.40" fill="#f4eeee"/>
<rect x="110.31" y="480.61" width="12.18" height="3.40" fill="#c4122e"/>
<rect x="122.49" y="480.61" width="112.66" height="3.40" fill="#f4eeee"/>
<rect x="235.15" y="480.61" width="258.81" height="3.40" fill="#c4122e"/>
<rect x="493.96" y="480.61" width="3.04" height="3.40" fill="#f4eeee"/>
<rect x="89.00" y="485.69" width="33.49" height="3.40" fill="#0a10b4"/>
<rect x="122.49" y="485.69" width="115.70" height="3.40" fill="#f4a582"/>
<rect x="238.19" y="485.69" width="15.22" height="3.40" fill="#e8605a"/>
<rect x="253.42" y="485.69" width="240.54" height="3.40" fill="#d41a20"/>
<rect x="493.96" y="485.69" width="3.04" height="3.40" fill="#f4a582"/>
<rect x="89.00" y="490.78" width="33.49" height="3.40" fill="#0a10b4"/>
<rect x="122.49" y="490.78" width="371.46" height="3.40" fill="#e3141c"/>
<rect x="493.96" y="490.78" width="3.04" height="3.40" fill="#2a0808"/>
<rect x="36.0" y="8.40" width="0.95" height="33.60" fill="#b2182b"/>
<rect x="36.0" y="44.80" width="0.95" height="52.20" fill="#3d9bd1"/>
<rect x="36.0" y="100.00" width="0.95" height="19.20" fill="#4aaa4a"/>
<rect x="36.0" y="122.30" width="0.95" height="25.40" fill="#f28e2b"/>
<rect x="36.0" y="151.80" width="0.95" height="244.80" fill="#4c3070"/>
<rect x="89.00" y="518.00" width="2.0" height="2.0" rx="0.5" fill="#0a2a8a"/>
<rect x="89.00" y="525.30" width="2.0" height="2.0" rx="0.5" fill="#e3141c"/>
<rect x="89.00" y="533.60" width="2.0" height="2.0" rx="0.5" fill="#2a0808"/>
<rect x="141.00" y="518.00" width="2.0" height="2.0" rx="0.5" fill="#f4a582"/>
<rect x="141.00" y="525.10" width="2.0" height="2.0" rx="0.5" fill="#e8707a"/>
<rect x="141.00" y="533.40" width="2.0" height="2.0" rx="0.5" fill="#c4122e"/>
<rect x="205.30" y="517.00" width="2.0" height="2.0" rx="0.5" fill="#6a93e6"/>
<rect x="205.30" y="525.90" width="2.0" height="2.0" rx="0.5" fill="#9acd32"/>
<rect x="205.30" y="534.90" width="2.0" height="2.0" rx="0.5" fill="#ffee22"/>
<rect x="205.30" y="544.00" width="2.0" height="2.0" rx="0.5" fill="#9932cc"/>
<rect x="205.30" y="552.90" width="2.0" height="2.0" rx="0.5" fill="#1a2fd0"/>
<rect x="205.30" y="562.00" width="2.0" height="2.0" rx="0.5" fill="#4cc04c"/>
<rect x="205.30" y="571.00" width="2.0" height="2.0" rx="0.5" fill="#ffa07a"/>
<rect x="205.30" y="579.90" width="2.0" height="2.0" rx="0.5" fill="#000000"/>
<rect x="281.50" y="517.00" width="2.0" height="2.0" rx="0.5" fill="#0a0a55"/>
<rect x="281.50" y="525.90" width="2.0" height="2.0" rx="0.5" fill="#a9d6ea"/>
<rect x="281.50" y="534.90" width="2.0" height="2.0" rx="0.5" fill="#e3141c"/>
<rect x="281.50" y="543.60" width="2.0" height="2.0" rx="0.5" fill="#7a0010"/>
<rect x="348.60" y="517.80" width="2.0" height="2.0" rx="0.5" fill="#c4122e"/>
<rect x="348.60" y="526.00" width="2.0" height="2.0" rx="0.5" fill="#f0e6e6"/>
<rect x="393.00" y="516.00" width="2.0" height="2.0" rx="0.5" fill="#3a70b0"/>
<rect x="393.00" y="525.20" width="2.0" height="2.0" rx="0.5" fill="#d060c0"/>
<rect x="434.00" y="516.00" width="2.0" height="2.0" rx="0.5" fill="#f0b040"/>
<rect x="434.00" y="525.20" width="2.0" height="2.0" rx="0.5" fill="#e8a838"/>
<rect x="434.00" y="533.90" width="2.0" height="2.0" rx="0.5" fill="#f2d24a"/>
<rect x="434.00" y="542.30" width="2.0" height="2.0" rx="0.5" fill="#b6e88e"/>
<rect x="434.00" y="551.50" width="2.0" height="2.0" rx="0.5" fill="#6fd05a"/>
</svg>
<div id="txt" style="position:absolute;left:0;top:0;width:520px;height:591px;will-change:transform;">
<div class="l" style="top:7.29px;color:#b2182b">t(4;14)</div><div class="p" style="top:7.29px">8%</div>
<div class="l" style="top:12.37px;color:#b2182b">t(MAF)</div><div class="p" style="top:12.37px">2%</div>
<div class="l" style="top:17.46px;color:#b2182b">CDKN2C</div><div class="p" style="top:17.46px">1%</div>
<div class="l" style="top:22.54px;color:#b2182b">CDKN2C_CN</div><div class="p" style="top:22.54px">14%</div>
<div class="l" style="top:27.62px;color:#b2182b">TP53</div><div class="p" style="top:27.62px">2%</div>
<div class="l" style="top:32.71px;color:#b2182b">TP53_CN</div><div class="p" style="top:32.71px">22%</div>
<div class="l" style="top:37.79px;color:#b2182b">CKSB1_CN</div><div class="p" style="top:37.79px">37%</div>
<div class="l" style="top:42.87px;color:#3d9bd1">EZH2</div><div class="p" style="top:42.87px">1%</div>
<div class="l" style="top:47.96px;color:#3d9bd1">CUL4B</div><div class="p" style="top:47.96px">2%</div>
<div class="l" style="top:53.04px;color:#3d9bd1">DUOX2</div><div class="p" style="top:53.04px">1%</div>
<div class="l" style="top:58.12px;color:#3d9bd1">DDB1</div><div class="p" style="top:58.12px">1%</div>
<div class="l" style="top:63.20px;color:#3d9bd1">IKZF3</div><div class="p" style="top:63.20px">1%</div>
<div class="l" style="top:68.29px;color:#3d9bd1">CRBN</div><div class="p" style="top:68.29px">1%</div>
<div class="l" style="top:73.37px;color:#3d9bd1">CRBN_CN</div><div class="p" style="top:73.37px">31%</div>
<div class="l" style="top:78.45px;color:#3d9bd1">MAML2</div><div class="p" style="top:78.45px">1%</div>
<div class="l" style="top:83.54px;color:#3d9bd1">CUL4A</div><div class="p" style="top:83.54px">1%</div>
<div class="l" style="top:88.62px;color:#3d9bd1">IKZF4</div><div class="p" style="top:88.62px">1%</div>
<div class="l" style="top:93.70px;color:#3d9bd1">2q_CN</div><div class="p" style="top:93.70px">13%</div>
<div class="l" style="top:98.79px;color:#4aaa4a">CD38</div><div class="p" style="top:98.79px">1%</div>
<div class="l" style="top:103.87px;color:#4aaa4a">CD38_CN</div><div class="p" style="top:103.87px">13%</div>
<div class="l" style="top:108.95px;color:#4aaa4a">TNFRSF17</div><div class="p" style="top:108.95px">4%</div>
<div class="l" style="top:114.03px;color:#4aaa4a">TNFRSF17_CN</div><div class="p" style="top:114.03px">7%</div>
<div class="l" style="top:119.12px;color:#f28e2b">t(11;14)</div><div class="p" style="top:119.12px">19%</div>
<div class="l" style="top:124.20px;color:#f28e2b">KRAS</div><div class="p" style="top:124.20px">19%</div>
<div class="l" style="top:129.28px;color:#f28e2b">NRAS</div><div class="p" style="top:129.28px">16%</div>
<div class="l" style="top:134.37px;color:#f28e2b">BRAF</div><div class="p" style="top:134.37px">7%</div>
<div class="l" style="top:139.45px;color:#f28e2b">FGFR3</div><div class="p" style="top:139.45px">3%</div>
<div class="l" style="top:144.53px;color:#f28e2b">IDH1</div><div class="p" style="top:144.53px">1%</div>
<div class="l" style="top:149.62px;color:#4c3070">DIS3</div><div class="p" style="top:149.62px">10%</div>
<div class="l" style="top:154.70px;color:#4c3070">ZFHX4</div><div class="p" style="top:154.70px">6%</div>
<div class="l" style="top:159.78px;color:#4c3070">ATM</div><div class="p" style="top:159.78px">5%</div>
<div class="l" style="top:164.86px;color:#4c3070">ATM_CN</div><div class="p" style="top:164.86px">35%</div>
<div class="l" style="top:169.95px;color:#4c3070">PRDM1</div><div class="p" style="top:169.95px">5%</div>
<div class="l" style="top:175.03px;color:#4c3070">LRP1B</div><div class="p" style="top:175.03px">2%</div>
<div class="l" style="top:180.11px;color:#4c3070">IRF4</div><div class="p" style="top:180.11px">4%</div>
<div class="l" style="top:185.20px;color:#4c3070">TENT5C</div><div class="p" style="top:185.20px">4%</div>
<div class="l" style="top:190.28px;color:#4c3070">TENT5C_CN</div><div class="p" style="top:190.28px">19%</div>
<div class="l" style="top:195.36px;color:#4c3070">PRKD2</div><div class="p" style="top:195.36px">4%</div>
<div class="l" style="top:200.45px;color:#4c3070">CCND1</div><div class="p" style="top:200.45px">1%</div>
<div class="l" style="top:205.53px;color:#4c3070">HUWE1</div><div class="p" style="top:205.53px">2%</div>
<div class="l" style="top:210.61px;color:#4c3070">H1-4</div><div class="p" style="top:210.61px">3%</div>
<div class="l" style="top:215.69px;color:#4c3070">TRAF3</div><div class="p" style="top:215.69px">4%</div>
<div class="l" style="top:220.78px;color:#4c3070">TRAF3_CN</div><div class="p" style="top:220.78px">16%</div>
<div class="l" style="top:225.86px;color:#4c3070">SAMHD1</div><div class="p" style="top:225.86px">2%</div>
<div class="l" style="top:230.94px;color:#4c3070">EP300</div><div class="p" style="top:230.94px">1%</div>
<div class="l" style="top:236.03px;color:#4c3070">ROBO1</div><div class="p" style="top:236.03px">1%</div>
<div class="l" style="top:241.11px;color:#4c3070">PTPN11</div><div class="p" style="top:241.11px">2%</div>
<div class="l" style="top:246.19px;color:#4c3070">TET2</div><div class="p" style="top:246.19px">1%</div>
<div class="l" style="top:251.28px;color:#4c3070">EGR1</div><div class="p" style="top:251.28px">2%</div>
<div class="l" style="top:256.36px;color:#4c3070">TET1</div><div class="p" style="top:256.36px">1%</div>
<div class="l" style="top:261.44px;color:#4c3070">TET1_CN</div><div class="p" style="top:261.44px">7%</div>
<div class="l" style="top:266.52px;color:#4c3070">RB1</div><div class="p" style="top:266.52px">2%</div>
<div class="l" style="top:271.61px;color:#4c3070">RB1_CN</div><div class="p" style="top:271.61px">37%</div>
<div class="l" style="top:276.69px;color:#4c3070">CREBBP</div><div class="p" style="top:276.69px">1%</div>
<div class="l" style="top:281.77px;color:#4c3070">NFKB2</div><div class="p" style="top:281.77px">1%</div>
<div class="l" style="top:286.86px;color:#4c3070">NFKB2_CN</div><div class="p" style="top:286.86px">7%</div>
<div class="l" style="top:291.94px;color:#4c3070">MKI67</div><div class="p" style="top:291.94px">2%</div>
<div class="l" style="top:297.02px;color:#4c3070">XBP1</div><div class="p" style="top:297.02px">2%</div>
<div class="l" style="top:302.11px;color:#4c3070">BIRC3</div><div class="p" style="top:302.11px">1%</div>
<div class="l" style="top:307.19px;color:#4c3070">BIRC3_CN</div><div class="p" style="top:307.19px">36%</div>
<div class="l" style="top:312.27px;color:#4c3070">SP140</div><div class="p" style="top:312.27px">1%</div>
<div class="l" style="top:317.35px;color:#4c3070">DNMT3A</div><div class="p" style="top:317.35px">1%</div>
<div class="l" style="top:322.44px;color:#4c3070">ACTG1</div><div class="p" style="top:322.44px">1%</div>
<div class="l" style="top:327.52px;color:#4c3070">CYLD</div><div class="p" style="top:327.52px">1%</div>
<div class="l" style="top:332.60px;color:#4c3070">CYLD_CN</div><div class="p" style="top:332.60px">15%</div>
<div class="l" style="top:337.69px;color:#4c3070">EGFR</div><div class="p" style="top:337.69px">1%</div>
<div class="l" style="top:342.77px;color:#4c3070">MAP3K14</div><div class="p" style="top:342.77px">1%</div>
<div class="l" style="top:347.85px;color:#4c3070">SF3B1</div><div class="p" style="top:347.85px">1%</div>
<div class="l" style="top:352.94px;color:#4c3070">ATR</div><div class="p" style="top:352.94px">1%</div>
<div class="l" style="top:358.02px;color:#4c3070">ATR_CN</div><div class="p" style="top:358.02px">32%</div>
<div class="l" style="top:363.10px;color:#4c3070">WWOX</div><div class="p" style="top:363.10px">1%</div>
<div class="l" style="top:368.18px;color:#4c3070">WWOX_CN</div><div class="p" style="top:368.18px">16%</div>
<div class="l" style="top:373.27px;color:#4c3070">NFKB1</div><div class="p" style="top:373.27px">1%</div>
<div class="l" style="top:378.35px;color:#4c3070">KDM6A</div><div class="p" style="top:378.35px">1%</div>
<div class="l" style="top:383.43px;color:#4c3070">KDM6A_CN</div><div class="p" style="top:383.43px">24%</div>
<div class="l" style="top:388.52px;color:#4c3070">TRAF2</div><div class="p" style="top:388.52px">1%</div>
<div class="l" style="top:393.60px;color:#4c3070">TRAF2_CN</div><div class="p" style="top:393.60px">43%</div>
<div class="l" style="top:398.68px;color:#111">MYC</div><div class="p" style="top:398.68px">1%</div>
<div class="l" style="top:403.77px;color:#111">t(MYC)</div><div class="p" style="top:403.77px">34%</div>
<div class="l" style="top:408.85px;color:#111">MYC_CN_abnormal</div><div class="p" style="top:408.85px">23%</div>
<div class="l" style="top:413.93px;color:#111">Abnormal_MYC</div><div class="p" style="top:413.93px">39%</div>
<div class="l" style="top:419.01px;color:#111">t(6;14)</div><div class="p" style="top:419.01px">4%</div>
<div class="l" style="top:424.10px;color:#111">t(other)</div><div class="p" style="top:424.10px">19%</div>
<div class="l" style="top:429.18px;color:#111">t(none)</div><div class="p" style="top:429.18px">54%</div>
<div class="l" style="top:434.26px;color:#111">HRD</div><div class="p" style="top:434.26px">33%</div>
<div class="l" style="top:439.35px;color:#111">Tetraploid</div><div class="p" style="top:439.35px">1%</div>
<div class="l" style="top:444.43px;color:#111">Proteasome inhibitor</div><div class="p" style="top:444.43px">65%</div>
<div class="l" style="top:449.51px;color:#111">IMiD</div><div class="p" style="top:449.51px">61%</div>
<div class="l" style="top:454.60px;color:#111">anti-CD38</div><div class="p" style="top:454.60px">42%</div>
<div class="l" style="top:459.68px;color:#111">anti-BCMA</div><div class="p" style="top:459.68px">13%</div>
<div class="l" style="top:464.76px;color:#111">Chemotherapy</div><div class="p" style="top:464.76px">51%</div>
<div class="l" style="top:469.84px;color:#111">Purity</div>
<div class="l" style="top:474.93px;color:#111">Gender</div>
<div class="l" style="top:480.01px;color:#111">Treatment</div>
<div class="l" style="top:485.09px;color:#111">Stage</div>
<div class="l" style="top:490.18px;color:#111">Disease</div>
<div class="g" style="left:24.6px;top:25.2px;color:#b2182b;font-size:4.80px;line-height:6.53px">High-risk</div>
<div class="g" style="left:19.6px;top:72.6px;color:#3d9bd1;font-size:5.70px;line-height:7.75px">Treatment<br>related</div>
<div class="g" style="left:22.6px;top:110.6px;color:#4aaa4a;font-size:4.95px;line-height:6.73px">Immuno<br>therapy</div>
<div class="g" style="left:21.0px;top:137.2px;color:#f28e2b;font-size:4.90px;line-height:6.66px">Precision<br>medicine</div>
<div class="g" style="left:20.1px;top:276.9px;color:#4c3070;font-size:4.90px;line-height:6.66px">Frequently<br>altered</div>
<div class="lt" style="left:89.0px;top:504.8px">Disease</div>
<div class="li" style="left:95.0px;top:516.0px">SMM</div>
<div class="li" style="left:95.0px;top:523.3px">MM</div>
<div class="li" style="left:95.0px;top:531.6px">AL amyloid</div>
<div class="lt" style="left:140.6px;top:504.8px">Stage</div>
<div class="li" style="left:147.0px;top:516.0px">Newly Diagnosed</div>
<div class="li" style="left:147.0px;top:523.1px">Follow-up</div>
<div class="li" style="left:147.0px;top:531.4px">Relapse</div>
<div class="lt" style="left:205.0px;top:504.8px">Mutations</div>
<div class="li" style="left:211.3px;top:515.0px">Missense</div>
<div class="li" style="left:211.3px;top:523.9px">Frameshift Insertion</div>
<div class="li" style="left:211.3px;top:532.9px">Nonsense</div>
<div class="li" style="left:211.3px;top:542.0px">In Frame Deletion</div>
<div class="li" style="left:211.3px;top:550.9px">Frameshift Deletion</div>
<div class="li" style="left:211.3px;top:560.0px">Splice Site</div>
<div class="li" style="left:211.3px;top:569.0px">Splice Region</div>
<div class="li" style="left:211.3px;top:577.9px">Multi hit</div>
<div class="lt" style="left:280.8px;top:504.8px">Copy Number</div>
<div class="li" style="left:288.2px;top:515.0px"><span style="margin-left:0.8px">Deep deletion</span></div>
<div class="li" style="left:288.2px;top:523.9px">Deletion</div>
<div class="li" style="left:288.2px;top:532.9px">Gain</div>
<div class="li" style="left:288.2px;top:541.6px">Amplification</div>
<div class="lt" style="left:348.2px;top:504.8px">Treated</div>
<div class="li" style="left:354.4px;top:515.8px">Treated</div>
<div class="li" style="left:354.4px;top:524.0px">Untreated</div>
<div class="lt" style="left:392.5px;top:504.8px">Gender</div>
<div class="li" style="left:399.0px;top:514.0px">Male</div>
<div class="li" style="left:399.0px;top:523.2px">Female</div>
<div class="lt" style="left:433.7px;top:504.8px">Purity</div>
<div class="li" style="left:440.2px;top:514.0px">0 - 20%</div>
<div class="li" style="left:440.2px;top:523.2px">20% - 40%</div>
<div class="li" style="left:440.2px;top:531.9px">40% - 60%</div>
<div class="li" style="left:440.2px;top:540.3px">60% - 80%</div>
<div class="li" style="left:440.2px;top:549.5px">80% - 100%</div>
</div>
<div id="frame"></div>
</body></html>
